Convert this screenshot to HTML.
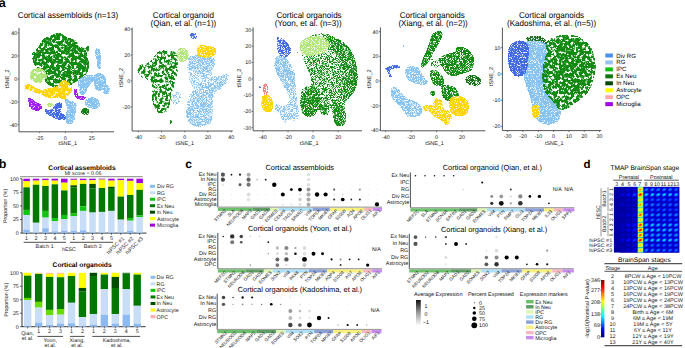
<!DOCTYPE html>
<html><head><meta charset="utf-8"><style>
html,body{margin:0;padding:0;background:#fff;width:685px;height:348px;overflow:hidden}
svg{display:block}
text{font-family:"Liberation Sans", sans-serif;text-rendering:geometricPrecision}
</style></head><body>
<svg width="685" height="348" viewBox="0 0 685 348" font-family='"Liberation Sans", sans-serif'>
<rect width="685" height="348" fill="#fff"/>
<defs><filter id="f0" x="-40%" y="-40%" width="180%" height="180%" color-interpolation-filters="sRGB"><feGaussianBlur in="SourceAlpha" stdDeviation="0.7" result="b"/><feTurbulence type="fractalNoise" baseFrequency="1.37" numOctaves="1" seed="3" result="t"/><feColorMatrix in="t" type="matrix" values="0 0 0 0 0 0 0 0 0 0 0 0 0 0 0 0 0 0 1 0" result="n"/><feComposite in="b" in2="n" operator="arithmetic" k1="0" k2="8" k3="8" k4="-10.424" result="m"/><feFlood flood-color="#87C3F2"/><feComposite in2="m" operator="in"/></filter><filter id="f1" x="-40%" y="-40%" width="180%" height="180%" color-interpolation-filters="sRGB"><feGaussianBlur in="SourceAlpha" stdDeviation="0.7" result="b"/><feTurbulence type="fractalNoise" baseFrequency="0.35" numOctaves="3" seed="3" result="t"/><feColorMatrix in="t" type="matrix" values="0 0 0 0 0 0 0 0 0 0 0 0 0 0 0 0 0 0 1 0" result="n"/><feComposite in="b" in2="n" operator="arithmetic" k1="0" k2="8" k3="8" k4="-10.715" result="m"/><feFlood flood-color="#118A11"/><feComposite in2="m" operator="in"/></filter><filter id="f2" x="-40%" y="-40%" width="180%" height="180%" color-interpolation-filters="sRGB"><feGaussianBlur in="SourceAlpha" stdDeviation="0.7" result="b"/><feTurbulence type="fractalNoise" baseFrequency="0.35" numOctaves="3" seed="3" result="t"/><feColorMatrix in="t" type="matrix" values="0 0 0 0 0 0 0 0 0 0 0 0 0 0 0 0 0 0 1 0" result="n"/><feComposite in="b" in2="n" operator="arithmetic" k1="0" k2="8" k3="8" k4="-10.616" result="m"/><feFlood flood-color="#B2E67A"/><feComposite in2="m" operator="in"/></filter><filter id="f3" x="-40%" y="-40%" width="180%" height="180%" color-interpolation-filters="sRGB"><feGaussianBlur in="SourceAlpha" stdDeviation="0.7" result="b"/><feTurbulence type="fractalNoise" baseFrequency="0.35" numOctaves="3" seed="3" result="t"/><feColorMatrix in="t" type="matrix" values="0 0 0 0 0 0 0 0 0 0 0 0 0 0 0 0 0 0 1 0" result="n"/><feComposite in="b" in2="n" operator="arithmetic" k1="0" k2="8" k3="8" k4="-10.496" result="m"/><feFlood flood-color="#FFD400"/><feComposite in2="m" operator="in"/></filter><filter id="f4" x="-40%" y="-40%" width="180%" height="180%" color-interpolation-filters="sRGB"><feGaussianBlur in="SourceAlpha" stdDeviation="0.7" result="b"/><feTurbulence type="fractalNoise" baseFrequency="1.37" numOctaves="1" seed="3" result="t"/><feColorMatrix in="t" type="matrix" values="0 0 0 0 0 0 0 0 0 0 0 0 0 0 0 0 0 0 1 0" result="n"/><feComposite in="b" in2="n" operator="arithmetic" k1="0" k2="8" k3="8" k4="-10.424" result="m"/><feFlood flood-color="#A020F0"/><feComposite in2="m" operator="in"/></filter><filter id="f5" x="-40%" y="-40%" width="180%" height="180%" color-interpolation-filters="sRGB"><feGaussianBlur in="SourceAlpha" stdDeviation="0.7" result="b"/><feTurbulence type="fractalNoise" baseFrequency="1.37" numOctaves="1" seed="3" result="t"/><feColorMatrix in="t" type="matrix" values="0 0 0 0 0 0 0 0 0 0 0 0 0 0 0 0 0 0 1 0" result="n"/><feComposite in="b" in2="n" operator="arithmetic" k1="0" k2="8" k3="8" k4="-10.911" result="m"/><feFlood flood-color="#B2E67A"/><feComposite in2="m" operator="in"/></filter><filter id="f6" x="-40%" y="-40%" width="180%" height="180%" color-interpolation-filters="sRGB"><feGaussianBlur in="SourceAlpha" stdDeviation="0.7" result="b"/><feTurbulence type="fractalNoise" baseFrequency="1.37" numOctaves="1" seed="3" result="t"/><feColorMatrix in="t" type="matrix" values="0 0 0 0 0 0 0 0 0 0 0 0 0 0 0 0 0 0 1 0" result="n"/><feComposite in="b" in2="n" operator="arithmetic" k1="0" k2="8" k3="8" k4="-10.559" result="m"/><feFlood flood-color="#4169E1"/><feComposite in2="m" operator="in"/></filter><filter id="f7" x="-40%" y="-40%" width="180%" height="180%" color-interpolation-filters="sRGB"><feGaussianBlur in="SourceAlpha" stdDeviation="0.7" result="b"/><feTurbulence type="fractalNoise" baseFrequency="1.37" numOctaves="1" seed="3" result="t"/><feColorMatrix in="t" type="matrix" values="0 0 0 0 0 0 0 0 0 0 0 0 0 0 0 0 0 0 1 0" result="n"/><feComposite in="b" in2="n" operator="arithmetic" k1="0" k2="8" k3="8" k4="-10.559" result="m"/><feFlood flood-color="#128012"/><feComposite in2="m" operator="in"/></filter><filter id="f8" x="-40%" y="-40%" width="180%" height="180%" color-interpolation-filters="sRGB"><feGaussianBlur in="SourceAlpha" stdDeviation="0.7" result="b"/><feTurbulence type="fractalNoise" baseFrequency="1.37" numOctaves="1" seed="3" result="t"/><feColorMatrix in="t" type="matrix" values="0 0 0 0 0 0 0 0 0 0 0 0 0 0 0 0 0 0 1 0" result="n"/><feComposite in="b" in2="n" operator="arithmetic" k1="0" k2="8" k3="8" k4="-11.700" result="m"/><feFlood flood-color="#87C3F2"/><feComposite in2="m" operator="in"/></filter><filter id="f9" x="-40%" y="-40%" width="180%" height="180%" color-interpolation-filters="sRGB"><feGaussianBlur in="SourceAlpha" stdDeviation="0.7" result="b"/><feTurbulence type="fractalNoise" baseFrequency="1.37" numOctaves="1" seed="9" result="t"/><feColorMatrix in="t" type="matrix" values="0 0 0 0 0 0 0 0 0 0 0 0 0 0 0 0 0 0 1 0" result="n"/><feComposite in="b" in2="n" operator="arithmetic" k1="0" k2="8" k3="8" k4="-11.841" result="m"/><feFlood flood-color="#87C3F2"/><feComposite in2="m" operator="in"/></filter><filter id="f10" x="-40%" y="-40%" width="180%" height="180%" color-interpolation-filters="sRGB"><feGaussianBlur in="SourceAlpha" stdDeviation="0.7" result="b"/><feTurbulence type="fractalNoise" baseFrequency="1.37" numOctaves="1" seed="3" result="t"/><feColorMatrix in="t" type="matrix" values="0 0 0 0 0 0 0 0 0 0 0 0 0 0 0 0 0 0 1 0" result="n"/><feComposite in="b" in2="n" operator="arithmetic" k1="0" k2="8" k3="8" k4="-11.943" result="m"/><feFlood flood-color="#87C3F2"/><feComposite in2="m" operator="in"/></filter><filter id="f11" x="-40%" y="-40%" width="180%" height="180%" color-interpolation-filters="sRGB"><feGaussianBlur in="SourceAlpha" stdDeviation="0.7" result="b"/><feTurbulence type="fractalNoise" baseFrequency="0.35" numOctaves="3" seed="3" result="t"/><feColorMatrix in="t" type="matrix" values="0 0 0 0 0 0 0 0 0 0 0 0 0 0 0 0 0 0 1 0" result="n"/><feComposite in="b" in2="n" operator="arithmetic" k1="0" k2="8" k3="8" k4="-11.366" result="m"/><feFlood flood-color="#128812"/><feComposite in2="m" operator="in"/></filter><filter id="f12" x="-40%" y="-40%" width="180%" height="180%" color-interpolation-filters="sRGB"><feGaussianBlur in="SourceAlpha" stdDeviation="0.7" result="b"/><feTurbulence type="fractalNoise" baseFrequency="1.37" numOctaves="1" seed="3" result="t"/><feColorMatrix in="t" type="matrix" values="0 0 0 0 0 0 0 0 0 0 0 0 0 0 0 0 0 0 1 0" result="n"/><feComposite in="b" in2="n" operator="arithmetic" k1="0" k2="8" k3="8" k4="-10.715" result="m"/><feFlood flood-color="#128812"/><feComposite in2="m" operator="in"/></filter><filter id="f13" x="-40%" y="-40%" width="180%" height="180%" color-interpolation-filters="sRGB"><feGaussianBlur in="SourceAlpha" stdDeviation="0.7" result="b"/><feTurbulence type="fractalNoise" baseFrequency="1.37" numOctaves="1" seed="3" result="t"/><feColorMatrix in="t" type="matrix" values="0 0 0 0 0 0 0 0 0 0 0 0 0 0 0 0 0 0 1 0" result="n"/><feComposite in="b" in2="n" operator="arithmetic" k1="0" k2="8" k3="8" k4="-11.008" result="m"/><feFlood flood-color="#4169E1"/><feComposite in2="m" operator="in"/></filter><filter id="f14" x="-40%" y="-40%" width="180%" height="180%" color-interpolation-filters="sRGB"><feGaussianBlur in="SourceAlpha" stdDeviation="0.7" result="b"/><feTurbulence type="fractalNoise" baseFrequency="1.37" numOctaves="1" seed="3" result="t"/><feColorMatrix in="t" type="matrix" values="0 0 0 0 0 0 0 0 0 0 0 0 0 0 0 0 0 0 1 0" result="n"/><feComposite in="b" in2="n" operator="arithmetic" k1="0" k2="8" k3="8" k4="-10.616" result="m"/><feFlood flood-color="#FFD400"/><feComposite in2="m" operator="in"/></filter><filter id="f15" x="-40%" y="-40%" width="180%" height="180%" color-interpolation-filters="sRGB"><feGaussianBlur in="SourceAlpha" stdDeviation="0.7" result="b"/><feTurbulence type="fractalNoise" baseFrequency="1.37" numOctaves="1" seed="3" result="t"/><feColorMatrix in="t" type="matrix" values="0 0 0 0 0 0 0 0 0 0 0 0 0 0 0 0 0 0 1 0" result="n"/><feComposite in="b" in2="n" operator="arithmetic" k1="0" k2="8" k3="8" k4="-11.496" result="m"/><feFlood flood-color="#87C3F2"/><feComposite in2="m" operator="in"/></filter><filter id="f16" x="-40%" y="-40%" width="180%" height="180%" color-interpolation-filters="sRGB"><feGaussianBlur in="SourceAlpha" stdDeviation="0.7" result="b"/><feTurbulence type="fractalNoise" baseFrequency="1.37" numOctaves="1" seed="9" result="t"/><feColorMatrix in="t" type="matrix" values="0 0 0 0 0 0 0 0 0 0 0 0 0 0 0 0 0 0 1 0" result="n"/><feComposite in="b" in2="n" operator="arithmetic" k1="0" k2="8" k3="8" k4="-11.639" result="m"/><feFlood flood-color="#87C3F2"/><feComposite in2="m" operator="in"/></filter><filter id="f17" x="-40%" y="-40%" width="180%" height="180%" color-interpolation-filters="sRGB"><feGaussianBlur in="SourceAlpha" stdDeviation="0.7" result="b"/><feTurbulence type="fractalNoise" baseFrequency="1.37" numOctaves="1" seed="3" result="t"/><feColorMatrix in="t" type="matrix" values="0 0 0 0 0 0 0 0 0 0 0 0 0 0 0 0 0 0 1 0" result="n"/><feComposite in="b" in2="n" operator="arithmetic" k1="0" k2="8" k3="8" k4="-11.067" result="m"/><feFlood flood-color="#4169E1"/><feComposite in2="m" operator="in"/></filter><filter id="f18" x="-40%" y="-40%" width="180%" height="180%" color-interpolation-filters="sRGB"><feGaussianBlur in="SourceAlpha" stdDeviation="0.7" result="b"/><feTurbulence type="fractalNoise" baseFrequency="1.37" numOctaves="1" seed="3" result="t"/><feColorMatrix in="t" type="matrix" values="0 0 0 0 0 0 0 0 0 0 0 0 0 0 0 0 0 0 1 0" result="n"/><feComposite in="b" in2="n" operator="arithmetic" k1="0" k2="8" k3="8" k4="-10.496" result="m"/><feFlood flood-color="#FFD400"/><feComposite in2="m" operator="in"/></filter><filter id="f19" x="-40%" y="-40%" width="180%" height="180%" color-interpolation-filters="sRGB"><feGaussianBlur in="SourceAlpha" stdDeviation="0.7" result="b"/><feTurbulence type="fractalNoise" baseFrequency="1.37" numOctaves="1" seed="3" result="t"/><feColorMatrix in="t" type="matrix" values="0 0 0 0 0 0 0 0 0 0 0 0 0 0 0 0 0 0 1 0" result="n"/><feComposite in="b" in2="n" operator="arithmetic" k1="0" k2="8" k3="8" k4="-11.067" result="m"/><feFlood flood-color="#F08080"/><feComposite in2="m" operator="in"/></filter><filter id="f20" x="-40%" y="-40%" width="180%" height="180%" color-interpolation-filters="sRGB"><feGaussianBlur in="SourceAlpha" stdDeviation="0.7" result="b"/><feTurbulence type="fractalNoise" baseFrequency="1.37" numOctaves="1" seed="3" result="t"/><feColorMatrix in="t" type="matrix" values="0 0 0 0 0 0 0 0 0 0 0 0 0 0 0 0 0 0 1 0" result="n"/><feComposite in="b" in2="n" operator="arithmetic" k1="0" k2="8" k3="8" k4="-11.537" result="m"/><feFlood flood-color="#118A11"/><feComposite in2="m" operator="in"/></filter><filter id="f21" x="-40%" y="-40%" width="180%" height="180%" color-interpolation-filters="sRGB"><feGaussianBlur in="SourceAlpha" stdDeviation="0.7" result="b"/><feTurbulence type="fractalNoise" baseFrequency="1.37" numOctaves="1" seed="9" result="t"/><feColorMatrix in="t" type="matrix" values="0 0 0 0 0 0 0 0 0 0 0 0 0 0 0 0 0 0 1 0" result="n"/><feComposite in="b" in2="n" operator="arithmetic" k1="0" k2="8" k3="8" k4="-11.639" result="m"/><feFlood flood-color="#118A11"/><feComposite in2="m" operator="in"/></filter><filter id="f22" x="-40%" y="-40%" width="180%" height="180%" color-interpolation-filters="sRGB"><feGaussianBlur in="SourceAlpha" stdDeviation="0.7" result="b"/><feTurbulence type="fractalNoise" baseFrequency="1.37" numOctaves="1" seed="9" result="t"/><feColorMatrix in="t" type="matrix" values="0 0 0 0 0 0 0 0 0 0 0 0 0 0 0 0 0 0 1 0" result="n"/><feComposite in="b" in2="n" operator="arithmetic" k1="0" k2="8" k3="8" k4="-11.432" result="m"/><feFlood flood-color="#118A11"/><feComposite in2="m" operator="in"/></filter><filter id="f23" x="-40%" y="-40%" width="180%" height="180%" color-interpolation-filters="sRGB"><feGaussianBlur in="SourceAlpha" stdDeviation="0.7" result="b"/><feTurbulence type="fractalNoise" baseFrequency="1.37" numOctaves="1" seed="9" result="t"/><feColorMatrix in="t" type="matrix" values="0 0 0 0 0 0 0 0 0 0 0 0 0 0 0 0 0 0 1 0" result="n"/><feComposite in="b" in2="n" operator="arithmetic" k1="0" k2="8" k3="8" k4="-11.537" result="m"/><feFlood flood-color="#118A11"/><feComposite in2="m" operator="in"/></filter><filter id="f24" x="-40%" y="-40%" width="180%" height="180%" color-interpolation-filters="sRGB"><feGaussianBlur in="SourceAlpha" stdDeviation="0.7" result="b"/><feTurbulence type="fractalNoise" baseFrequency="1.37" numOctaves="1" seed="3" result="t"/><feColorMatrix in="t" type="matrix" values="0 0 0 0 0 0 0 0 0 0 0 0 0 0 0 0 0 0 1 0" result="n"/><feComposite in="b" in2="n" operator="arithmetic" k1="0" k2="8" k3="8" k4="-10.876" result="m"/><feFlood flood-color="#87C3F2"/><feComposite in2="m" operator="in"/></filter><filter id="f25" x="-40%" y="-40%" width="180%" height="180%" color-interpolation-filters="sRGB"><feGaussianBlur in="SourceAlpha" stdDeviation="0.7" result="b"/><feTurbulence type="fractalNoise" baseFrequency="1.37" numOctaves="1" seed="3" result="t"/><feColorMatrix in="t" type="matrix" values="0 0 0 0 0 0 0 0 0 0 0 0 0 0 0 0 0 0 1 0" result="n"/><feComposite in="b" in2="n" operator="arithmetic" k1="0" k2="8" k3="8" k4="-11.008" result="m"/><feFlood flood-color="#87C3F2"/><feComposite in2="m" operator="in"/></filter><filter id="f26" x="-40%" y="-40%" width="180%" height="180%" color-interpolation-filters="sRGB"><feGaussianBlur in="SourceAlpha" stdDeviation="0.7" result="b"/><feTurbulence type="fractalNoise" baseFrequency="1.37" numOctaves="1" seed="3" result="t"/><feColorMatrix in="t" type="matrix" values="0 0 0 0 0 0 0 0 0 0 0 0 0 0 0 0 0 0 1 0" result="n"/><feComposite in="b" in2="n" operator="arithmetic" k1="0" k2="8" k3="8" k4="-10.715" result="m"/><feFlood flood-color="#87C3F2"/><feComposite in2="m" operator="in"/></filter><filter id="f27" x="-40%" y="-40%" width="180%" height="180%" color-interpolation-filters="sRGB"><feGaussianBlur in="SourceAlpha" stdDeviation="0.7" result="b"/><feTurbulence type="fractalNoise" baseFrequency="1.37" numOctaves="1" seed="3" result="t"/><feColorMatrix in="t" type="matrix" values="0 0 0 0 0 0 0 0 0 0 0 0 0 0 0 0 0 0 1 0" result="n"/><feComposite in="b" in2="n" operator="arithmetic" k1="0" k2="8" k3="8" k4="-10.715" result="m"/><feFlood flood-color="#4169E1"/><feComposite in2="m" operator="in"/></filter><filter id="f28" x="-40%" y="-40%" width="180%" height="180%" color-interpolation-filters="sRGB"><feGaussianBlur in="SourceAlpha" stdDeviation="0.7" result="b"/><feTurbulence type="fractalNoise" baseFrequency="1.37" numOctaves="1" seed="3" result="t"/><feColorMatrix in="t" type="matrix" values="0 0 0 0 0 0 0 0 0 0 0 0 0 0 0 0 0 0 1 0" result="n"/><feComposite in="b" in2="n" operator="arithmetic" k1="0" k2="8" k3="8" k4="-10.876" result="m"/><feFlood flood-color="#118A11"/><feComposite in2="m" operator="in"/></filter><filter id="f29" x="-40%" y="-40%" width="180%" height="180%" color-interpolation-filters="sRGB"><feGaussianBlur in="SourceAlpha" stdDeviation="0.7" result="b"/><feTurbulence type="fractalNoise" baseFrequency="1.37" numOctaves="1" seed="3" result="t"/><feColorMatrix in="t" type="matrix" values="0 0 0 0 0 0 0 0 0 0 0 0 0 0 0 0 0 0 1 0" result="n"/><feComposite in="b" in2="n" operator="arithmetic" k1="0" k2="8" k3="8" k4="-11.943" result="m"/><feFlood flood-color="#118A11"/><feComposite in2="m" operator="in"/></filter><filter id="f30" x="-40%" y="-40%" width="180%" height="180%" color-interpolation-filters="sRGB"><feGaussianBlur in="SourceAlpha" stdDeviation="0.7" result="b"/><feTurbulence type="fractalNoise" baseFrequency="1.37" numOctaves="1" seed="3" result="t"/><feColorMatrix in="t" type="matrix" values="0 0 0 0 0 0 0 0 0 0 0 0 0 0 0 0 0 0 1 0" result="n"/><feComposite in="b" in2="n" operator="arithmetic" k1="0" k2="8" k3="8" k4="-10.911" result="m"/><feFlood flood-color="#0E700E"/><feComposite in2="m" operator="in"/></filter><filter id="f31" x="-40%" y="-40%" width="180%" height="180%" color-interpolation-filters="sRGB"><feGaussianBlur in="SourceAlpha" stdDeviation="0.7" result="b"/><feTurbulence type="fractalNoise" baseFrequency="1.37" numOctaves="1" seed="3" result="t"/><feColorMatrix in="t" type="matrix" values="0 0 0 0 0 0 0 0 0 0 0 0 0 0 0 0 0 0 1 0" result="n"/><feComposite in="b" in2="n" operator="arithmetic" k1="0" k2="8" k3="8" k4="-10.944" result="m"/><feFlood flood-color="#118A11"/><feComposite in2="m" operator="in"/></filter><filter id="f32" x="-40%" y="-40%" width="180%" height="180%" color-interpolation-filters="sRGB"><feGaussianBlur in="SourceAlpha" stdDeviation="0.7" result="b"/><feTurbulence type="fractalNoise" baseFrequency="1.37" numOctaves="1" seed="3" result="t"/><feColorMatrix in="t" type="matrix" values="0 0 0 0 0 0 0 0 0 0 0 0 0 0 0 0 0 0 1 0" result="n"/><feComposite in="b" in2="n" operator="arithmetic" k1="0" k2="8" k3="8" k4="-11.067" result="m"/><feFlood flood-color="#118A11"/><feComposite in2="m" operator="in"/></filter><filter id="f33" x="-40%" y="-40%" width="180%" height="180%" color-interpolation-filters="sRGB"><feGaussianBlur in="SourceAlpha" stdDeviation="0.7" result="b"/><feTurbulence type="fractalNoise" baseFrequency="1.37" numOctaves="1" seed="3" result="t"/><feColorMatrix in="t" type="matrix" values="0 0 0 0 0 0 0 0 0 0 0 0 0 0 0 0 0 0 1 0" result="n"/><feComposite in="b" in2="n" operator="arithmetic" k1="0" k2="8" k3="8" k4="-10.944" result="m"/><feFlood flood-color="#FFD400"/><feComposite in2="m" operator="in"/></filter><filter id="f34" x="-40%" y="-40%" width="180%" height="180%" color-interpolation-filters="sRGB"><feGaussianBlur in="SourceAlpha" stdDeviation="0.7" result="b"/><feTurbulence type="fractalNoise" baseFrequency="1.37" numOctaves="1" seed="3" result="t"/><feColorMatrix in="t" type="matrix" values="0 0 0 0 0 0 0 0 0 0 0 0 0 0 0 0 0 0 1 0" result="n"/><feComposite in="b" in2="n" operator="arithmetic" k1="0" k2="8" k3="8" k4="-10.559" result="m"/><feFlood flood-color="#87C3F2"/><feComposite in2="m" operator="in"/></filter><filter id="f35" x="-40%" y="-40%" width="180%" height="180%" color-interpolation-filters="sRGB"><feGaussianBlur in="SourceAlpha" stdDeviation="0.7" result="b"/><feTurbulence type="fractalNoise" baseFrequency="1.37" numOctaves="1" seed="3" result="t"/><feColorMatrix in="t" type="matrix" values="0 0 0 0 0 0 0 0 0 0 0 0 0 0 0 0 0 0 1 0" result="n"/><feComposite in="b" in2="n" operator="arithmetic" k1="0" k2="8" k3="8" k4="-10.496" result="m"/><feFlood flood-color="#4169E1"/><feComposite in2="m" operator="in"/></filter><filter id="f36" x="-40%" y="-40%" width="180%" height="180%" color-interpolation-filters="sRGB"><feGaussianBlur in="SourceAlpha" stdDeviation="0.7" result="b"/><feTurbulence type="fractalNoise" baseFrequency="0.35" numOctaves="3" seed="3" result="t"/><feColorMatrix in="t" type="matrix" values="0 0 0 0 0 0 0 0 0 0 0 0 0 0 0 0 0 0 1 0" result="n"/><feComposite in="b" in2="n" operator="arithmetic" k1="0" k2="8" k3="8" k4="-11.067" result="m"/><feFlood flood-color="#118A11"/><feComposite in2="m" operator="in"/></filter><filter id="f37" x="-40%" y="-40%" width="180%" height="180%" color-interpolation-filters="sRGB"><feGaussianBlur in="SourceAlpha" stdDeviation="0.7" result="b"/><feTurbulence type="fractalNoise" baseFrequency="0.35" numOctaves="3" seed="9" result="t"/><feColorMatrix in="t" type="matrix" values="0 0 0 0 0 0 0 0 0 0 0 0 0 0 0 0 0 0 1 0" result="n"/><feComposite in="b" in2="n" operator="arithmetic" k1="0" k2="8" k3="8" k4="-11.740" result="m"/><feFlood flood-color="#118A11"/><feComposite in2="m" operator="in"/></filter><filter id="f38" x="-40%" y="-40%" width="180%" height="180%" color-interpolation-filters="sRGB"><feGaussianBlur in="SourceAlpha" stdDeviation="0.7" result="b"/><feTurbulence type="fractalNoise" baseFrequency="1.37" numOctaves="1" seed="3" result="t"/><feColorMatrix in="t" type="matrix" values="0 0 0 0 0 0 0 0 0 0 0 0 0 0 0 0 0 0 1 0" result="n"/><feComposite in="b" in2="n" operator="arithmetic" k1="0" k2="8" k3="8" k4="-10.911" result="m"/><feFlood flood-color="#1A6E1A"/><feComposite in2="m" operator="in"/></filter></defs>
<path d="M78.5 79.7C79.8 77.3 84.0 75.8 86.4 75.0C88.8 74.2 91.4 74.2 92.7 75.0C94.0 75.8 94.8 77.9 94.3 79.7C93.8 81.5 90.9 84.0 89.6 86.1C88.3 88.2 87.5 90.8 86.4 92.4C85.3 94.0 84.2 95.3 83.2 95.6C82.2 95.9 80.9 95.1 80.1 94.0C79.3 92.9 78.8 91.6 78.5 89.2C78.2 86.8 77.2 82.1 78.5 79.7Z" filter="url(#f0)"/>
<path d="M93.5 75.0C94.6 73.2 97.9 72.7 100.0 73.0C102.1 73.3 105.0 74.8 106.0 77.0C107.0 79.2 106.9 83.7 106.2 86.0C105.5 88.3 103.7 90.1 102.0 90.8C100.3 91.5 97.4 91.1 96.0 90.0C94.6 88.9 93.9 86.5 93.5 84.0C93.1 81.5 92.4 76.8 93.5 75.0Z" filter="url(#f0)"/>
<path d="M102.2 86.0C103.0 85.1 105.7 84.2 107.0 84.5C108.3 84.8 109.8 86.4 110.1 88.0C110.4 89.6 110.0 93.0 109.0 94.0C108.0 95.0 105.1 94.7 104.0 94.0C102.9 93.3 102.5 91.3 102.2 90.0C101.9 88.7 101.4 86.9 102.2 86.0Z" filter="url(#f0)"/>
<path d="M84.8 100.3C86.0 98.8 90.3 97.1 92.7 97.1C95.1 97.1 97.8 98.7 99.0 100.3C100.2 101.9 100.3 105.1 99.8 106.6C99.3 108.0 97.6 108.7 95.9 109.0C94.2 109.3 91.3 108.7 89.6 108.2C87.9 107.7 86.4 107.1 85.6 105.8C84.8 104.5 83.6 101.8 84.8 100.3Z" filter="url(#f0)"/>
<path d="M95.6 48.5C96.4 47.4 98.6 48.1 99.5 49.0C100.4 49.9 100.7 52.2 101.0 54.0C101.3 55.8 101.4 57.6 101.4 60.0C101.4 62.4 101.9 67.1 101.2 68.5C100.5 69.9 98.3 69.9 97.5 68.5C96.7 67.1 96.9 62.2 96.4 60.0C96.0 57.8 94.9 57.4 94.8 55.5C94.7 53.6 94.8 49.6 95.6 48.5Z" filter="url(#f0)"/>
<path d="M65.8 98.7C66.7 98.3 69.1 99.8 70.6 100.3C72.0 100.8 73.5 101.1 74.5 101.9C75.5 102.7 76.6 103.4 76.9 105.0C77.2 106.6 76.4 109.3 76.1 111.4C75.8 113.5 75.7 115.9 75.3 117.7C74.9 119.5 74.8 121.2 73.7 122.4C72.7 123.6 70.3 124.8 69.0 124.8C67.7 124.8 66.3 123.9 65.8 122.4C65.3 121.0 65.7 118.5 65.8 116.1C65.9 113.7 66.7 110.4 66.6 108.2C66.5 106.0 65.1 104.3 65.0 102.7C64.9 101.1 64.9 99.1 65.8 98.7Z" filter="url(#f0)"/>
<path d="M31.9 53.4C32.6 51.9 34.6 51.1 36.4 48.9C38.1 46.6 40.1 42.1 42.4 39.9C44.6 37.7 47.2 36.7 49.9 35.5C52.6 34.3 56.1 32.4 58.8 32.5C61.5 32.6 63.7 35.1 66.3 36.3C68.9 37.5 72.2 38.6 74.2 39.5C76.2 40.4 77.4 40.9 78.2 41.9C79.0 42.9 78.0 44.9 79.0 45.8C80.0 46.7 82.9 47.4 84.5 47.4C86.1 47.4 87.6 45.4 88.4 45.8C89.2 46.2 89.5 48.2 89.2 49.8C89.0 51.4 86.9 53.3 86.9 55.3C86.9 57.3 88.8 59.5 89.2 61.6C89.6 63.7 89.6 65.9 89.2 67.9C88.8 69.9 88.1 71.9 86.9 73.5C85.7 75.1 83.9 76.0 82.1 77.4C80.2 78.9 77.8 80.8 75.8 82.2C73.8 83.6 72.3 85.0 70.0 86.0C67.7 87.0 64.4 87.7 62.0 88.0C59.6 88.3 58.1 88.5 55.8 88.0C53.5 87.5 50.4 86.3 48.4 85.0C46.4 83.7 45.6 82.7 43.9 80.2C42.1 77.7 39.6 72.5 37.9 69.8C36.1 67.1 34.4 65.8 33.4 63.8C32.4 61.8 32.1 59.6 31.9 57.9C31.6 56.2 31.1 54.9 31.9 53.4Z" filter="url(#f1)"/>
<path d="M47.0 75.4C47.0 76.9 46.3 78.8 45.3 80.0C44.3 81.3 42.6 82.4 40.9 82.9C39.3 83.4 37.1 83.4 35.5 82.9C33.8 82.4 32.1 81.3 31.1 80.0C30.1 78.8 29.4 76.9 29.4 75.4C29.4 73.9 30.1 72.0 31.1 70.8C32.1 69.5 33.8 68.4 35.5 67.9C37.1 67.4 39.3 67.4 40.9 67.9C42.6 68.4 44.3 69.5 45.3 70.8C46.3 72.0 47.0 73.9 47.0 75.4Z" filter="url(#f2)"/>
<path d="M24.0 85.3C24.9 84.8 27.5 83.3 29.5 83.7C31.5 84.1 34.0 86.7 35.8 87.6C37.6 88.5 38.8 89.1 40.5 89.2C42.2 89.3 44.5 88.7 46.1 88.4C47.7 88.1 48.3 88.0 50.0 87.6C51.7 87.2 54.7 87.0 56.4 86.1C58.1 85.2 58.8 83.1 60.0 82.0C61.2 80.9 62.0 79.4 63.5 79.5C65.0 79.6 67.5 80.9 69.0 82.5C70.5 84.1 72.3 87.4 72.6 89.2C72.9 91.0 71.5 91.9 70.6 93.2C69.7 94.5 68.5 95.9 67.4 97.1C66.4 98.3 65.3 100.0 64.3 100.3C63.2 100.6 62.2 99.1 61.1 98.7C60.0 98.3 59.1 97.9 57.9 97.9C56.7 97.9 55.5 98.6 54.0 98.7C52.5 98.8 50.9 99.1 49.2 98.7C47.5 98.3 45.4 97.1 43.7 96.3C42.0 95.5 40.6 94.7 39.0 94.0C37.4 93.3 35.8 92.9 34.2 92.4C32.6 91.9 30.9 91.3 29.5 90.8C28.1 90.3 26.4 89.8 25.5 89.2C24.6 88.6 24.2 87.6 24.0 86.9C23.8 86.2 23.1 85.8 24.0 85.3Z" filter="url(#f3)"/>
<path d="M28.3 98.2C29.0 97.4 31.0 97.2 32.2 97.8C33.4 98.4 33.9 100.8 35.4 101.8C36.9 102.8 39.9 102.9 41.0 104.0C42.1 105.1 42.7 107.4 42.2 108.6C41.7 109.8 39.6 111.0 38.0 111.2C36.4 111.4 34.1 110.7 32.6 110.0C31.1 109.3 29.9 108.4 29.2 107.2C28.5 106.0 28.3 104.2 28.2 102.7C28.1 101.2 27.6 99.0 28.3 98.2Z" filter="url(#f4)"/>
<path d="M73.5 89.3C73.8 88.1 76.0 88.4 76.7 89.0C77.4 89.6 77.5 91.9 77.9 93.0C78.3 94.1 78.0 95.2 79.3 95.8C80.6 96.4 85.0 95.8 85.8 96.5C86.6 97.2 85.4 99.2 84.2 99.7C83.0 100.2 80.4 100.0 78.8 99.4C77.2 98.8 75.7 97.9 74.8 96.2C73.9 94.5 73.2 90.5 73.5 89.3Z" filter="url(#f4)"/>
<path d="M46.9 103.0C47.4 102.2 49.8 102.5 51.0 102.7C52.2 103.0 53.7 103.7 54.0 104.5C54.3 105.3 54.0 107.0 53.0 107.4C52.0 107.9 49.0 107.9 48.0 107.2C47.0 106.5 46.4 103.8 46.9 103.0Z" filter="url(#f5)"/>
<path d="M45.3 109.0C46.4 108.6 50.0 109.8 51.6 109.0C53.2 108.2 53.5 105.4 54.8 104.2C56.1 103.0 58.3 102.0 59.5 101.9C60.7 101.8 61.4 102.7 61.9 103.5C62.4 104.3 62.8 105.3 62.7 106.6C62.6 107.9 60.6 109.8 61.1 111.4C61.6 113.0 65.1 114.6 65.8 116.1C66.5 117.5 66.1 119.4 65.1 120.1C64.0 120.8 61.2 120.4 59.5 120.1C57.8 119.8 56.4 119.2 54.8 118.5C53.2 117.8 51.5 116.8 50.0 116.1C48.5 115.4 46.9 115.3 46.1 114.5C45.3 113.7 45.1 112.3 45.0 111.4C44.9 110.5 44.2 109.4 45.3 109.0Z" filter="url(#f6)"/>
<path d="M89.7 111.7C89.7 112.4 89.4 113.3 88.9 113.9C88.4 114.5 87.5 115.1 86.7 115.3C85.8 115.5 84.8 115.5 83.9 115.3C83.1 115.1 82.2 114.5 81.7 113.9C81.2 113.3 80.9 112.4 80.9 111.7C80.9 111.0 81.2 110.1 81.7 109.5C82.2 108.9 83.1 108.3 83.9 108.1C84.8 107.9 85.8 107.9 86.7 108.1C87.5 108.3 88.4 108.9 88.9 109.5C89.4 110.1 89.7 111.0 89.7 111.7Z" filter="url(#f7)"/>
<path d="M188.5 57.0C190.0 55.2 193.2 55.2 196.0 55.0C198.8 54.8 202.2 55.2 205.0 55.5C207.8 55.8 211.2 56.1 213.0 57.0C214.8 57.9 215.8 59.3 216.0 61.0C216.2 62.7 215.2 65.0 214.5 67.0C213.8 69.0 211.8 71.5 212.0 73.0C212.2 74.5 214.3 75.9 216.0 76.0C217.7 76.1 220.2 74.1 222.0 73.5C223.8 72.9 225.8 71.9 227.0 72.5C228.2 73.1 229.5 75.2 229.5 77.0C229.5 78.8 228.4 81.0 227.0 83.0C225.6 85.0 223.0 87.2 221.0 89.0C219.0 90.8 216.3 91.7 215.0 94.0C213.7 96.3 213.3 99.5 213.0 103.0C212.7 106.5 213.5 111.5 213.0 115.0C212.5 118.5 211.8 122.0 210.0 124.0C208.2 126.0 205.0 126.7 202.0 127.0C199.0 127.3 194.7 127.5 192.0 126.0C189.3 124.5 186.9 121.3 186.0 118.0C185.1 114.7 186.0 109.7 186.5 106.0C187.0 102.3 187.9 98.8 189.0 96.0C190.1 93.2 192.8 91.2 193.0 89.0C193.2 86.8 190.8 85.3 190.0 83.0C189.2 80.7 188.5 77.8 188.0 75.0C187.5 72.2 186.9 69.0 187.0 66.0C187.1 63.0 187.0 58.8 188.5 57.0Z" filter="url(#f8)"/>
<path d="M189.0 57.5C190.2 55.9 193.3 55.8 196.0 55.5C198.7 55.2 202.2 55.7 205.0 56.0C207.8 56.3 211.2 56.6 213.0 57.5C214.8 58.4 215.4 59.8 215.5 61.5C215.6 63.2 214.8 66.2 213.5 68.0C212.2 69.8 210.6 71.1 208.0 72.0C205.4 72.9 200.8 73.7 198.0 73.5C195.2 73.3 192.6 72.4 191.0 71.0C189.4 69.6 188.8 67.2 188.5 65.0C188.2 62.8 187.8 59.1 189.0 57.5Z" filter="url(#f9)"/>
<path d="M193.0 90.0C195.2 88.3 199.8 88.3 203.0 87.0C206.2 85.7 209.2 83.8 212.0 82.0C214.8 80.2 217.5 77.3 220.0 76.0C222.5 74.7 225.6 73.7 227.0 74.0C228.4 74.3 228.8 76.3 228.5 78.0C228.2 79.7 227.1 81.7 225.0 84.0C222.9 86.3 218.0 88.8 216.0 92.0C214.0 95.2 213.5 99.2 213.0 103.0C212.5 106.8 213.5 111.5 213.0 115.0C212.5 118.5 211.8 122.1 210.0 124.0C208.2 125.9 205.0 126.2 202.0 126.5C199.0 126.8 194.5 126.9 192.0 125.5C189.5 124.1 187.8 121.2 187.0 118.0C186.2 114.8 187.0 109.5 187.5 106.0C188.0 102.5 189.1 99.7 190.0 97.0C190.9 94.3 190.8 91.7 193.0 90.0Z" filter="url(#f9)"/>
<path d="M172.0 94.0C173.5 92.5 178.5 91.0 180.0 92.0C181.5 93.0 181.7 97.8 181.0 100.0C180.3 102.2 177.7 104.8 176.0 105.0C174.3 105.2 171.7 102.8 171.0 101.0C170.3 99.2 170.5 95.5 172.0 94.0Z" filter="url(#f10)"/>
<path d="M138.0 66.9C138.6 65.7 139.0 64.9 141.0 63.9C143.0 62.9 147.3 62.9 150.0 60.9C152.7 58.9 155.1 53.7 157.4 51.9C159.7 50.1 161.8 50.2 164.0 50.0C166.2 49.8 168.8 50.2 170.9 50.5C173.0 50.8 175.2 50.8 176.5 52.0C177.8 53.2 178.2 54.5 178.5 58.0C178.8 61.5 179.1 67.8 178.3 72.8C177.5 77.8 175.0 83.3 173.8 87.8C172.6 92.3 171.9 95.7 170.9 99.7C169.9 103.7 169.9 109.5 167.9 111.7C165.9 114.0 161.4 114.2 158.9 113.2C156.4 112.2 154.2 109.4 152.9 105.7C151.7 102.0 151.9 94.8 151.4 90.8C150.9 86.8 151.7 84.0 150.0 81.8C148.3 79.5 143.1 79.0 141.0 77.3C138.9 75.5 137.9 73.0 137.4 71.3C136.9 69.6 137.4 68.1 138.0 66.9Z" filter="url(#f11)"/>
<path d="M172.4 122.0C172.4 122.7 172.2 123.5 171.9 124.0C171.7 124.4 171.2 124.8 170.8 124.8C170.4 124.8 169.9 124.4 169.7 124.0C169.4 123.5 169.2 122.7 169.2 122.0C169.2 121.3 169.4 120.5 169.7 120.0C169.9 119.6 170.4 119.2 170.8 119.2C171.2 119.2 171.7 119.6 171.9 120.0C172.2 120.5 172.4 121.3 172.4 122.0Z" filter="url(#f12)"/>
<path d="M177.0 50.0C177.8 48.2 180.0 47.6 181.7 47.5C183.4 47.4 185.8 48.2 187.0 49.5C188.2 50.8 189.2 53.5 189.0 55.5C188.8 57.5 187.3 60.2 186.0 61.5C184.7 62.8 182.5 63.6 181.0 63.0C179.5 62.4 177.7 60.2 177.0 58.0C176.3 55.8 176.2 51.8 177.0 50.0Z" filter="url(#f5)"/>
<path d="M197.3 36.0C197.3 36.9 196.8 38.1 196.1 38.7C195.5 39.3 194.2 39.8 193.3 39.8C192.4 39.8 191.1 39.3 190.5 38.7C189.8 38.1 189.3 36.9 189.3 36.0C189.3 35.1 189.8 33.9 190.5 33.3C191.1 32.7 192.4 32.2 193.3 32.2C194.2 32.2 195.5 32.7 196.1 33.3C196.8 33.9 197.3 35.1 197.3 36.0Z" filter="url(#f13)"/>
<path d="M197.2 46.5C198.7 44.8 203.3 45.0 206.3 45.2C209.3 45.4 213.6 46.5 215.3 47.8C217.0 49.1 217.0 51.4 216.6 52.9C216.2 54.4 214.8 55.9 212.7 56.8C210.5 57.7 206.3 58.3 203.7 58.1C201.1 57.9 198.3 57.4 197.2 55.5C196.1 53.6 195.7 48.2 197.2 46.5Z" filter="url(#f14)"/>
<path d="M275.7 56.6C277.0 54.8 279.9 54.5 282.0 55.0C284.1 55.5 286.2 56.9 288.3 59.8C290.4 62.7 293.4 67.7 294.7 72.4C296.0 77.1 295.7 83.5 296.2 88.2C296.7 93.0 297.3 96.7 297.8 100.9C298.3 105.1 299.7 110.1 299.4 113.5C299.1 116.9 297.8 120.4 296.2 121.4C294.6 122.5 291.7 119.5 289.9 119.8C288.1 120.1 286.5 123.0 285.2 123.0C283.9 123.0 283.1 121.4 282.0 119.8C280.9 118.2 280.2 115.3 278.9 113.5C277.6 111.7 274.6 110.4 274.1 108.8C273.6 107.2 274.4 104.5 275.7 104.0C277.0 103.5 280.1 105.6 282.0 105.6C283.9 105.6 285.8 105.6 286.8 104.0C287.9 102.4 288.8 99.0 288.3 96.1C287.8 93.2 285.4 90.0 283.6 86.6C281.8 83.2 278.9 79.0 277.3 75.6C275.7 72.2 274.4 69.3 274.1 66.1C273.8 62.9 274.4 58.5 275.7 56.6Z" filter="url(#f15)"/>
<path d="M276.0 58.0C277.3 56.1 280.8 56.0 283.0 56.5C285.2 57.0 287.2 58.4 289.0 61.0C290.8 63.6 293.0 67.8 294.0 72.0C295.0 76.2 295.5 82.7 295.0 86.0C294.5 89.3 292.7 91.7 291.0 92.0C289.3 92.3 287.0 90.2 285.0 88.0C283.0 85.8 280.7 82.3 279.0 79.0C277.3 75.7 275.5 71.5 275.0 68.0C274.5 64.5 274.7 59.9 276.0 58.0Z" filter="url(#f16)"/>
<path d="M276.6 37.2C277.6 35.9 280.6 37.3 282.3 38.0C284.0 38.7 285.2 40.0 286.6 41.5C288.0 43.0 290.2 45.3 290.9 47.2C291.6 49.1 291.6 51.3 290.9 53.0C290.2 54.7 288.3 56.6 286.6 57.3C284.9 58.0 282.3 58.0 280.9 57.3C279.5 56.6 278.7 54.9 278.0 53.0C277.3 51.1 276.8 48.4 276.6 45.8C276.4 43.2 275.7 38.5 276.6 37.2Z" filter="url(#f17)"/>
<path d="M262.2 96.1C263.3 94.2 266.2 94.2 267.9 94.7C269.6 95.2 271.2 97.1 272.2 99.0C273.2 100.9 273.9 104.0 273.7 106.2C273.5 108.4 272.2 111.0 270.8 111.9C269.4 112.9 266.7 112.9 265.1 111.9C263.5 111.0 261.8 108.8 261.3 106.2C260.8 103.6 261.1 98.0 262.2 96.1Z" filter="url(#f18)"/>
<path d="M263.2 84.2C263.9 83.3 265.9 82.8 266.8 83.6C267.7 84.4 268.2 87.0 268.3 88.9C268.4 90.8 268.3 94.0 267.6 95.0C266.9 96.0 264.7 96.0 263.9 95.0C263.1 94.0 262.7 90.7 262.6 88.9C262.5 87.1 262.5 85.1 263.2 84.2Z" filter="url(#f19)"/>
<path d="M261.6 87.4C261.6 87.8 261.1 88.5 260.7 88.7C260.2 88.9 259.4 88.9 258.9 88.7C258.5 88.5 258.0 87.8 258.0 87.4C258.0 87.0 258.5 86.3 258.9 86.1C259.4 85.9 260.2 85.9 260.7 86.1C261.1 86.3 261.6 87.0 261.6 87.4Z" filter="url(#f17)"/>
<path d="M298.4 52.5C298.4 52.8 298.1 53.2 297.8 53.4C297.5 53.5 296.9 53.5 296.6 53.4C296.3 53.2 296.0 52.8 296.0 52.5C296.0 52.2 296.3 51.8 296.6 51.6C296.9 51.5 297.5 51.5 297.8 51.6C298.1 51.8 298.4 52.2 298.4 52.5Z" filter="url(#f19)"/>
<path d="M320.0 32.9C322.9 32.9 327.3 33.2 331.0 34.5C334.7 35.8 338.6 38.2 342.0 40.8C345.4 43.4 349.2 46.6 351.6 50.3C354.0 54.0 355.2 58.7 356.3 62.9C357.4 67.1 357.9 71.4 357.9 75.6C357.9 79.8 357.4 84.8 356.3 88.2C355.2 91.6 353.2 94.0 351.6 96.1C350.0 98.2 347.9 98.5 346.8 100.9C345.7 103.3 345.2 107.2 345.2 110.3C345.2 113.4 347.3 117.2 346.8 119.8C346.3 122.4 343.8 125.1 342.0 126.1C340.2 127.0 337.4 127.1 335.8 125.5C334.2 123.9 333.4 119.5 332.6 116.7C331.8 113.9 331.8 109.1 331.0 108.8C330.2 108.5 329.5 114.0 327.9 115.1C326.3 116.1 323.1 115.9 321.5 115.1C319.9 114.3 319.7 110.0 318.4 110.3C317.1 110.6 315.7 115.6 313.6 116.7C311.5 117.8 307.8 117.8 305.7 116.7C303.6 115.6 301.9 112.9 301.0 110.3C300.1 107.7 299.5 103.8 300.0 100.9C300.5 98.0 302.6 95.1 304.1 93.0C305.6 90.9 307.8 90.6 308.9 88.2C310.0 85.8 310.8 81.9 310.5 78.7C310.2 75.5 308.6 72.6 307.3 69.2C306.0 65.8 303.7 61.9 302.6 58.2C301.6 54.5 300.5 50.3 301.0 47.1C301.5 43.9 303.6 41.3 305.7 39.2C307.8 37.1 311.2 35.5 313.6 34.5C316.0 33.5 317.1 32.9 320.0 32.9Z" filter="url(#f20)"/>
<path d="M326.3 34.5C329.1 34.8 337.5 37.6 342.0 40.8C346.5 43.9 350.5 48.1 353.1 53.4C355.8 58.7 357.5 66.3 357.9 72.4C358.3 78.5 357.5 85.0 355.7 89.8C353.9 94.5 349.3 99.9 346.8 100.9C344.3 102.0 341.0 99.8 340.5 96.1C340.0 92.4 343.9 84.8 343.7 78.7C343.4 72.7 341.1 65.1 339.0 59.8C336.9 54.5 333.3 50.5 331.0 47.1C328.7 43.7 326.1 41.3 325.3 39.2C324.5 37.1 323.5 34.2 326.3 34.5Z" filter="url(#f21)"/>
<path d="M302.6 88.2C305.1 85.3 312.3 85.5 315.2 86.6C318.1 87.6 319.5 91.1 320.0 94.5C320.5 97.9 320.0 103.5 318.4 107.2C316.8 110.9 313.1 115.4 310.5 116.7C307.9 118.0 304.4 117.2 302.6 115.1C300.9 113.0 300.0 108.6 300.0 104.1C300.0 99.6 300.1 91.1 302.6 88.2Z" filter="url(#f22)"/>
<path d="M333.5 105.6C335.1 104.0 339.8 103.8 342.0 105.6C344.2 107.4 346.5 113.4 346.8 116.7C347.1 120.0 345.4 124.0 343.6 125.5C341.8 127.0 337.6 127.2 335.8 125.5C334.0 123.8 333.0 118.4 332.6 115.1C332.2 111.8 331.9 107.2 333.5 105.6Z" filter="url(#f22)"/>
<path d="M320.0 104.0C321.5 103.0 326.3 102.7 327.9 104.0C329.5 105.3 330.2 110.1 329.4 111.9C328.6 113.8 324.8 115.4 323.1 115.1C321.4 114.8 319.5 112.1 319.0 110.3C318.5 108.5 318.5 105.0 320.0 104.0Z" filter="url(#f23)"/>
<path d="M299.4 44.0C300.2 41.4 302.8 38.9 305.7 37.6C308.6 36.3 313.4 36.0 316.8 36.0C320.2 36.0 324.2 36.3 326.3 37.6C328.4 38.9 329.4 41.6 329.4 44.0C329.4 46.4 328.4 50.1 326.3 51.9C324.2 53.7 320.0 54.2 316.8 55.0C313.6 55.8 309.9 56.9 307.3 56.6C304.7 56.3 302.3 55.5 301.0 53.4C299.7 51.3 298.6 46.6 299.4 44.0Z" filter="url(#f5)"/>
<path d="M405.9 67.9C407.1 66.7 410.1 65.8 412.3 65.8C414.5 65.8 416.8 66.1 418.8 67.9C420.8 69.7 422.6 74.1 424.2 76.6C425.8 79.1 428.7 81.6 428.5 83.0C428.3 84.4 425.4 85.0 423.1 85.2C420.8 85.4 417.0 85.0 414.5 84.1C412.0 83.2 409.6 81.6 408.0 79.8C406.4 78.0 405.2 75.3 404.8 73.3C404.4 71.3 404.6 69.2 405.9 67.9Z" filter="url(#f24)"/>
<path d="M390.8 88.4C391.9 87.0 395.1 86.2 397.2 87.3C399.3 88.4 401.5 92.9 403.7 94.9C405.9 96.9 407.9 98.0 410.2 99.2C412.5 100.5 415.7 101.0 417.7 102.4C419.7 103.8 421.5 105.7 422.0 107.8C422.5 109.9 422.5 113.7 420.9 115.3C419.3 116.9 414.6 117.3 412.3 117.5C410.0 117.7 408.7 117.8 406.9 116.4C405.1 115.0 403.6 111.2 401.6 108.9C399.6 106.6 396.9 104.6 395.1 102.4C393.3 100.2 391.5 98.2 390.8 95.9C390.1 93.6 389.7 89.8 390.8 88.4Z" filter="url(#f25)"/>
<path d="M404.5 46.0C404.5 46.3 404.2 46.9 403.9 47.0C403.6 47.2 403.0 47.2 402.7 47.0C402.4 46.9 402.1 46.3 402.1 46.0C402.1 45.7 402.4 45.1 402.7 45.0C403.0 44.8 403.6 44.8 403.9 45.0C404.2 45.1 404.5 45.7 404.5 46.0Z" filter="url(#f26)"/>
<path d="M385.4 67.9C386.0 67.1 388.1 66.3 389.7 65.8C391.3 65.3 393.3 64.7 395.1 64.7C396.9 64.7 399.8 65.2 400.5 65.8C401.2 66.4 400.7 67.9 399.4 68.4C398.1 68.9 394.5 68.5 392.9 69.0C391.3 69.5 389.9 69.9 389.7 71.2C389.5 72.5 391.9 75.5 391.9 76.6C391.9 77.7 390.4 78.3 389.7 77.6C389.0 76.9 388.1 73.4 387.5 72.2C386.9 71.0 386.4 71.2 386.0 70.5C385.6 69.8 384.8 68.7 385.4 67.9Z" filter="url(#f27)"/>
<path d="M434.5 32.0C435.9 31.3 438.6 30.6 440.0 30.8C441.4 31.1 442.8 32.1 443.0 33.5C443.2 34.9 442.3 37.0 441.5 39.0C440.7 41.0 439.2 43.3 438.0 45.5C436.8 47.7 435.7 49.8 434.5 52.0C433.3 54.2 432.2 56.5 431.0 58.5C429.8 60.5 428.8 62.5 427.5 64.0C426.2 65.5 424.2 67.4 423.0 67.8C421.8 68.2 420.8 67.6 420.5 66.5C420.2 65.4 420.9 62.9 421.5 61.0C422.1 59.1 423.1 57.2 424.0 55.0C424.9 52.8 426.1 50.3 427.0 48.0C427.9 45.7 428.8 43.2 429.5 41.0C430.2 38.8 430.7 36.5 431.5 35.0C432.3 33.5 433.1 32.7 434.5 32.0Z" filter="url(#f28)"/>
<path d="M439.8 57.0C441.0 55.6 443.7 54.8 446.1 53.9C448.5 53.0 452.6 52.8 454.3 51.8C456.0 50.8 455.0 48.6 456.4 47.7C457.8 46.8 460.4 46.1 462.6 46.6C464.9 47.1 468.0 49.1 469.9 50.8C471.8 52.5 473.3 54.6 474.0 57.0C474.7 59.4 474.5 62.9 474.0 65.3C473.5 67.7 472.4 70.1 470.9 71.5C469.3 72.9 466.8 72.9 464.7 73.6C462.6 74.3 460.6 75.1 458.5 75.6C456.4 76.1 454.4 77.0 452.3 76.7C450.2 76.4 447.8 75.2 446.1 73.6C444.4 72.0 443.1 69.2 441.9 67.3C440.7 65.4 439.1 63.9 438.8 62.2C438.5 60.5 438.6 58.4 439.8 57.0Z" filter="url(#f28)"/>
<path d="M431.0 59.0C432.3 57.7 437.5 56.8 439.0 58.0C440.5 59.2 440.5 64.3 440.0 66.0C439.5 67.7 437.5 68.0 436.0 68.0C434.5 68.0 431.8 67.5 431.0 66.0C430.2 64.5 429.7 60.3 431.0 59.0Z" filter="url(#f29)"/>
<path d="M465.7 76.7C466.9 75.5 470.6 74.4 473.0 74.6C475.4 74.8 478.8 76.3 480.2 77.7C481.6 79.1 481.8 81.5 481.3 82.9C480.8 84.3 479.0 85.7 477.1 86.0C475.2 86.3 471.8 85.7 469.9 85.0C468.0 84.3 466.4 83.2 465.7 81.8C465.0 80.4 464.5 77.9 465.7 76.7Z" filter="url(#f30)"/>
<path d="M429.6 71.2C430.5 69.8 433.9 69.4 436.0 70.1C438.1 70.8 441.1 73.3 442.5 75.5C443.9 77.7 445.1 81.2 444.7 83.0C444.3 84.8 442.1 85.9 440.3 86.3C438.5 86.7 435.5 86.5 433.9 85.2C432.3 83.9 431.3 81.0 430.6 78.7C429.9 76.4 428.7 72.6 429.6 71.2Z" filter="url(#f31)"/>
<path d="M441.4 85.2C443.0 83.8 448.4 84.5 451.1 85.2C453.8 85.9 456.3 87.5 457.6 89.5C458.9 91.5 459.8 95.0 458.7 97.0C457.6 99.0 453.4 100.8 451.1 101.3C448.8 101.8 446.3 101.5 444.7 100.3C443.1 99.0 441.9 96.3 441.4 93.8C440.8 91.3 439.8 86.6 441.4 85.2Z" filter="url(#f28)"/>
<path d="M435.8 93.5C435.8 94.3 435.4 95.2 434.9 95.8C434.4 96.3 433.5 96.7 432.8 96.7C432.1 96.7 431.2 96.3 430.7 95.8C430.2 95.2 429.8 94.3 429.8 93.5C429.8 92.7 430.2 91.8 430.7 91.2C431.2 90.7 432.1 90.3 432.8 90.3C433.5 90.3 434.4 90.7 434.9 91.2C435.4 91.8 435.8 92.7 435.8 93.5Z" filter="url(#f32)"/>
<path d="M451.1 97.0C453.1 95.4 458.1 95.4 460.8 95.9C463.5 96.5 465.9 98.1 467.3 100.3C468.7 102.5 469.8 106.4 469.4 108.9C469.0 111.4 467.1 114.0 465.1 115.3C463.1 116.5 459.9 116.8 457.6 116.4C455.3 116.1 452.5 115.0 451.1 113.2C449.7 111.4 449.0 108.3 449.0 105.6C449.0 102.9 449.1 98.6 451.1 97.0Z" filter="url(#f14)"/>
<path d="M423.1 104.6C424.4 103.5 429.6 105.7 431.7 104.6C433.8 103.5 434.2 98.8 436.0 98.1C437.8 97.4 441.2 98.7 442.5 100.3C443.8 101.9 442.5 106.0 443.6 107.8C444.7 109.6 447.6 109.4 449.0 111.0C450.4 112.6 452.2 115.3 452.2 117.5C452.2 119.7 450.2 122.8 449.0 124.0C447.8 125.2 446.1 125.7 444.7 125.0C443.2 124.3 441.9 121.0 440.3 119.7C438.7 118.5 436.6 118.6 435.0 117.5C433.4 116.4 432.4 114.3 430.6 113.2C428.8 112.1 425.4 112.4 424.2 111.0C422.9 109.6 421.9 105.7 423.1 104.6Z" filter="url(#f33)"/>
<path d="M524.0 45.0C525.1 42.2 527.7 39.7 530.0 38.5C532.3 37.3 535.5 37.6 538.0 38.0C540.5 38.4 543.2 39.7 545.0 41.0C546.8 42.3 548.3 43.7 549.0 46.0C549.7 48.3 549.3 51.8 549.0 55.0C548.7 58.2 547.5 61.2 547.0 65.0C546.5 68.8 545.8 73.8 546.0 78.0C546.2 82.2 546.8 86.7 548.0 90.0C549.2 93.3 551.2 95.3 553.0 98.0C554.8 100.7 557.7 103.3 559.0 106.0C560.3 108.7 561.2 111.3 561.0 114.0C560.8 116.7 560.2 120.2 558.0 122.0C555.8 123.8 551.2 125.0 548.0 125.0C544.8 125.0 541.5 123.8 539.0 122.0C536.5 120.2 534.3 117.3 533.0 114.0C531.7 110.7 531.8 105.7 531.0 102.0C530.2 98.3 529.1 95.3 528.0 92.0C526.9 88.7 525.3 85.7 524.5 82.0C523.7 78.3 523.2 74.5 523.0 70.0C522.8 65.5 523.3 59.2 523.5 55.0C523.7 50.8 522.9 47.8 524.0 45.0Z" filter="url(#f34)"/>
<path d="M509.5 46.0C510.9 43.5 513.4 41.8 515.9 41.0C518.4 40.2 522.2 40.0 524.5 41.0C526.8 42.0 528.8 44.2 529.5 47.2C530.2 50.2 528.9 54.9 528.5 58.7C528.1 62.5 528.1 67.2 527.0 70.2C525.9 73.2 524.2 75.6 522.0 76.5C519.8 77.4 516.2 77.0 514.0 75.5C511.8 74.0 509.9 70.6 508.8 67.3C507.7 64.0 507.5 59.3 507.6 55.8C507.7 52.2 508.1 48.5 509.5 46.0Z" filter="url(#f35)"/>
<path d="M548.0 40.0C549.7 38.7 553.0 36.9 556.0 36.0C559.0 35.1 562.3 34.5 566.0 34.5C569.7 34.5 574.3 34.6 578.0 36.0C581.7 37.4 585.3 40.0 588.0 43.0C590.7 46.0 592.7 49.8 594.0 54.0C595.3 58.2 596.2 63.2 596.0 68.0C595.8 72.8 594.7 78.5 593.0 83.0C591.3 87.5 588.8 91.7 586.0 95.0C583.2 98.3 579.2 100.7 576.0 103.0C572.8 105.3 569.7 107.8 567.0 109.0C564.3 110.2 562.2 110.8 560.0 110.0C557.8 109.2 555.8 106.0 554.0 104.0C552.2 102.0 550.7 100.3 549.0 98.0C547.3 95.7 545.2 93.3 544.0 90.0C542.8 86.7 542.2 82.3 542.0 78.0C541.8 73.7 542.3 68.3 543.0 64.0C543.7 59.7 545.5 55.3 546.0 52.0C546.5 48.7 545.7 46.0 546.0 44.0C546.3 42.0 546.3 41.3 548.0 40.0Z" filter="url(#f36)"/>
<path d="M562.0 40.0C564.8 37.6 568.7 37.0 572.0 37.5C575.3 38.0 579.0 40.2 582.0 43.0C585.0 45.8 588.2 50.0 590.0 54.0C591.8 58.0 592.5 62.7 592.5 67.0C592.5 71.3 591.8 76.2 590.0 80.0C588.2 83.8 585.0 87.5 582.0 90.0C579.0 92.5 575.2 94.2 572.0 95.0C568.8 95.8 565.7 96.7 563.0 95.0C560.3 93.3 557.7 89.2 556.0 85.0C554.3 80.8 553.2 75.5 553.0 70.0C552.8 64.5 553.5 57.0 555.0 52.0C556.5 47.0 559.2 42.4 562.0 40.0Z" filter="url(#f37)"/>
<path d="M526.5 37.5C527.4 36.8 530.1 36.1 532.0 35.8C533.9 35.5 536.0 35.2 538.0 35.5C540.0 35.8 542.2 36.7 543.7 37.6C545.2 38.5 546.5 39.8 547.0 41.0C547.5 42.2 547.4 44.8 546.6 45.0C545.8 45.2 543.8 43.1 542.0 42.5C540.2 41.9 538.0 41.4 536.0 41.2C534.0 41.0 531.6 41.7 530.0 41.5C528.4 41.3 527.1 40.9 526.5 40.2C525.9 39.5 525.6 38.2 526.5 37.5Z" filter="url(#f38)"/>
<path d="M531.7 106.0C532.9 104.9 537.5 104.2 538.9 105.2C540.3 106.2 540.3 109.8 540.3 111.8C540.3 113.8 540.1 116.5 538.9 117.5C537.7 118.5 534.3 118.5 533.1 117.5C531.9 116.5 531.9 113.7 531.7 111.8C531.5 109.9 530.5 107.1 531.7 106.0Z" filter="url(#f18)"/>
<defs><radialGradient id="h0" cx="0.46" cy="0.54" r="0.5" gradientTransform="rotate(-40 .46 .54) translate(.46 .54) scale(1.15 .8) translate(-.46 -.54)"><stop offset="0.00" stop-color="#0000bc"/><stop offset="0.14" stop-color="#0000bb"/><stop offset="0.29" stop-color="#0000b8"/><stop offset="0.43" stop-color="#0000b5"/><stop offset="0.57" stop-color="#0000b2"/><stop offset="0.71" stop-color="#0000ae"/><stop offset="0.86" stop-color="#0000aa"/><stop offset="1.00" stop-color="#0000a6"/></radialGradient><radialGradient id="h1" cx="0.46" cy="0.54" r="0.5" gradientTransform="rotate(-40 .46 .54) translate(.46 .54) scale(1.15 .8) translate(-.46 -.54)"><stop offset="0.00" stop-color="#0000e5"/><stop offset="0.14" stop-color="#0000e1"/><stop offset="0.29" stop-color="#0000db"/><stop offset="0.43" stop-color="#0000d3"/><stop offset="0.57" stop-color="#0000ca"/><stop offset="0.71" stop-color="#0000c1"/><stop offset="0.86" stop-color="#0000b6"/><stop offset="1.00" stop-color="#0000ab"/></radialGradient><radialGradient id="h2" cx="0.46" cy="0.54" r="0.5" gradientTransform="rotate(-40 .46 .54) translate(.46 .54) scale(1.15 .8) translate(-.46 -.54)"><stop offset="0.00" stop-color="#0000f9"/><stop offset="0.14" stop-color="#0000f4"/><stop offset="0.29" stop-color="#0000ec"/><stop offset="0.43" stop-color="#0000e2"/><stop offset="0.57" stop-color="#0000d7"/><stop offset="0.71" stop-color="#0000ca"/><stop offset="0.86" stop-color="#0000bc"/><stop offset="1.00" stop-color="#0000ad"/></radialGradient><radialGradient id="h3" cx="0.46" cy="0.54" r="0.62" gradientTransform="rotate(-40 .46 .54) translate(.46 .54) scale(1.15 .8) translate(-.46 -.54)"><stop offset="0.00" stop-color="#ff8900"/><stop offset="0.14" stop-color="#ff9f00"/><stop offset="0.29" stop-color="#ffc200"/><stop offset="0.43" stop-color="#ffed00"/><stop offset="0.57" stop-color="#dfff1f"/><stop offset="0.71" stop-color="#a8ff56"/><stop offset="0.86" stop-color="#6dff91"/><stop offset="1.00" stop-color="#2dffd1"/></radialGradient><radialGradient id="h4" cx="0.46" cy="0.54" r="0.5" gradientTransform="rotate(-40 .46 .54) translate(.46 .54) scale(1.15 .8) translate(-.46 -.54)"><stop offset="0.00" stop-color="#009eff"/><stop offset="0.14" stop-color="#008fff"/><stop offset="0.29" stop-color="#0078ff"/><stop offset="0.43" stop-color="#005aff"/><stop offset="0.57" stop-color="#0039ff"/><stop offset="0.71" stop-color="#0014ff"/><stop offset="0.86" stop-color="#0000eb"/><stop offset="1.00" stop-color="#0000c1"/></radialGradient><radialGradient id="h5" cx="0.46" cy="0.54" r="0.5" gradientTransform="rotate(-40 .46 .54) translate(.46 .54) scale(1.15 .8) translate(-.46 -.54)"><stop offset="0.00" stop-color="#0089ff"/><stop offset="0.14" stop-color="#007cff"/><stop offset="0.29" stop-color="#0066ff"/><stop offset="0.43" stop-color="#004cff"/><stop offset="0.57" stop-color="#002dff"/><stop offset="0.71" stop-color="#000bff"/><stop offset="0.86" stop-color="#0000e5"/><stop offset="1.00" stop-color="#0000be"/></radialGradient><radialGradient id="h6" cx="0.46" cy="0.54" r="0.5" gradientTransform="rotate(-40 .46 .54) translate(.46 .54) scale(1.15 .8) translate(-.46 -.54)"><stop offset="0.00" stop-color="#0023ff"/><stop offset="0.14" stop-color="#001cff"/><stop offset="0.29" stop-color="#0010ff"/><stop offset="0.43" stop-color="#0001ff"/><stop offset="0.57" stop-color="#0000ef"/><stop offset="0.71" stop-color="#0000dc"/><stop offset="0.86" stop-color="#0000c8"/><stop offset="1.00" stop-color="#0000b2"/></radialGradient><radialGradient id="h7" cx="0.46" cy="0.54" r="0.5" gradientTransform="rotate(-40 .46 .54) translate(.46 .54) scale(1.15 .8) translate(-.46 -.54)"><stop offset="0.00" stop-color="#0060ff"/><stop offset="0.14" stop-color="#0056ff"/><stop offset="0.29" stop-color="#0044ff"/><stop offset="0.43" stop-color="#002eff"/><stop offset="0.57" stop-color="#0015ff"/><stop offset="0.71" stop-color="#0000f8"/><stop offset="0.86" stop-color="#0000da"/><stop offset="1.00" stop-color="#0000b9"/></radialGradient><radialGradient id="h8" cx="0.46" cy="0.54" r="0.62" gradientTransform="rotate(-40 .46 .54) translate(.46 .54) scale(1.15 .8) translate(-.46 -.54)"><stop offset="0.00" stop-color="#e50000"/><stop offset="0.14" stop-color="#ff0600"/><stop offset="0.29" stop-color="#ff3b00"/><stop offset="0.43" stop-color="#ff7c00"/><stop offset="0.57" stop-color="#ffc600"/><stop offset="0.71" stop-color="#e5ff19"/><stop offset="0.86" stop-color="#8cff72"/><stop offset="1.00" stop-color="#2dffd1"/></radialGradient><radialGradient id="h9" cx="0.46" cy="0.54" r="0.5" gradientTransform="rotate(-40 .46 .54) translate(.46 .54) scale(1.15 .8) translate(-.46 -.54)"><stop offset="0.00" stop-color="#00efff"/><stop offset="0.14" stop-color="#00dcff"/><stop offset="0.29" stop-color="#00bdff"/><stop offset="0.43" stop-color="#0096ff"/><stop offset="0.57" stop-color="#006aff"/><stop offset="0.71" stop-color="#0039ff"/><stop offset="0.86" stop-color="#0004ff"/><stop offset="1.00" stop-color="#0000ca"/></radialGradient><radialGradient id="h10" cx="0.46" cy="0.54" r="0.5" gradientTransform="rotate(-40 .46 .54) translate(.46 .54) scale(1.15 .8) translate(-.46 -.54)"><stop offset="0.00" stop-color="#00dbff"/><stop offset="0.14" stop-color="#00c9ff"/><stop offset="0.29" stop-color="#00abff"/><stop offset="0.43" stop-color="#0087ff"/><stop offset="0.57" stop-color="#005eff"/><stop offset="0.71" stop-color="#0030ff"/><stop offset="0.86" stop-color="#0000fd"/><stop offset="1.00" stop-color="#0000c8"/></radialGradient><radialGradient id="h11" cx="0.46" cy="0.54" r="0.5" gradientTransform="rotate(-40 .46 .54) translate(.46 .54) scale(1.15 .8) translate(-.46 -.54)"><stop offset="0.00" stop-color="#0000d1"/><stop offset="0.14" stop-color="#0000ce"/><stop offset="0.29" stop-color="#0000ca"/><stop offset="0.43" stop-color="#0000c4"/><stop offset="0.57" stop-color="#0000be"/><stop offset="0.71" stop-color="#0000b7"/><stop offset="0.86" stop-color="#0000b0"/><stop offset="1.00" stop-color="#0000a8"/></radialGradient><radialGradient id="h12" cx="0.46" cy="0.54" r="0.62" gradientTransform="rotate(-40 .46 .54) translate(.46 .54) scale(1.15 .8) translate(-.46 -.54)"><stop offset="0.00" stop-color="#ffc600"/><stop offset="0.14" stop-color="#ffd800"/><stop offset="0.29" stop-color="#fff400"/><stop offset="0.43" stop-color="#e6ff18"/><stop offset="0.57" stop-color="#bdff41"/><stop offset="0.71" stop-color="#91ff6d"/><stop offset="0.86" stop-color="#61ff9d"/><stop offset="1.00" stop-color="#2dffd1"/></radialGradient><radialGradient id="h13" cx="0.46" cy="0.54" r="0.5" gradientTransform="rotate(-40 .46 .54) translate(.46 .54) scale(1.15 .8) translate(-.46 -.54)"><stop offset="0.00" stop-color="#0075ff"/><stop offset="0.14" stop-color="#0069ff"/><stop offset="0.29" stop-color="#0055ff"/><stop offset="0.43" stop-color="#003dff"/><stop offset="0.57" stop-color="#0021ff"/><stop offset="0.71" stop-color="#0002ff"/><stop offset="0.86" stop-color="#0000e0"/><stop offset="1.00" stop-color="#0000bc"/></radialGradient><radialGradient id="h14" cx="0.46" cy="0.54" r="0.62" gradientTransform="rotate(-40 .46 .54) translate(.46 .54) scale(1.15 .8) translate(-.46 -.54)"><stop offset="0.00" stop-color="#ffdb00"/><stop offset="0.14" stop-color="#ffeb00"/><stop offset="0.29" stop-color="#f8ff06"/><stop offset="0.43" stop-color="#d7ff27"/><stop offset="0.57" stop-color="#b2ff4c"/><stop offset="0.71" stop-color="#89ff75"/><stop offset="0.86" stop-color="#5dffa1"/><stop offset="1.00" stop-color="#2dffd1"/></radialGradient><radialGradient id="h15" cx="0.46" cy="0.54" r="0.62" gradientTransform="rotate(-40 .46 .54) translate(.46 .54) scale(1.15 .8) translate(-.46 -.54)"><stop offset="0.00" stop-color="#ff3800"/><stop offset="0.14" stop-color="#ff5200"/><stop offset="0.29" stop-color="#ff7e00"/><stop offset="0.43" stop-color="#ffb400"/><stop offset="0.57" stop-color="#fff200"/><stop offset="0.71" stop-color="#c7ff37"/><stop offset="0.86" stop-color="#7dff81"/><stop offset="1.00" stop-color="#2dffd1"/></radialGradient><radialGradient id="h16" cx="0.46" cy="0.54" r="0.5" gradientTransform="rotate(-40 .46 .54) translate(.46 .54) scale(1.15 .8) translate(-.46 -.54)"><stop offset="0.00" stop-color="#00b2ff"/><stop offset="0.14" stop-color="#00a2ff"/><stop offset="0.29" stop-color="#0089ff"/><stop offset="0.43" stop-color="#0069ff"/><stop offset="0.57" stop-color="#0045ff"/><stop offset="0.71" stop-color="#001dff"/><stop offset="0.86" stop-color="#0000f1"/><stop offset="1.00" stop-color="#0000c3"/></radialGradient><radialGradient id="h17" cx="0.46" cy="0.54" r="0.5" gradientTransform="rotate(-40 .46 .54) translate(.46 .54) scale(1.15 .8) translate(-.46 -.54)"><stop offset="0.00" stop-color="#000fff"/><stop offset="0.14" stop-color="#0009ff"/><stop offset="0.29" stop-color="#0000fd"/><stop offset="0.43" stop-color="#0000f1"/><stop offset="0.57" stop-color="#0000e3"/><stop offset="0.71" stop-color="#0000d3"/><stop offset="0.86" stop-color="#0000c2"/><stop offset="1.00" stop-color="#0000b0"/></radialGradient><radialGradient id="h18" cx="0.46" cy="0.54" r="0.62" gradientTransform="rotate(-40 .46 .54) translate(.46 .54) scale(1.15 .8) translate(-.46 -.54)"><stop offset="0.00" stop-color="#ff0f00"/><stop offset="0.14" stop-color="#ff2c00"/><stop offset="0.29" stop-color="#ff5c00"/><stop offset="0.43" stop-color="#ff9800"/><stop offset="0.57" stop-color="#ffdc00"/><stop offset="0.71" stop-color="#d6ff28"/><stop offset="0.86" stop-color="#85ff79"/><stop offset="1.00" stop-color="#2dffd1"/></radialGradient><radialGradient id="h19" cx="0.46" cy="0.54" r="0.5" gradientTransform="rotate(-40 .46 .54) translate(.46 .54) scale(1.15 .8) translate(-.46 -.54)"><stop offset="0.00" stop-color="#00c6ff"/><stop offset="0.14" stop-color="#00b6ff"/><stop offset="0.29" stop-color="#009aff"/><stop offset="0.43" stop-color="#0078ff"/><stop offset="0.57" stop-color="#0052ff"/><stop offset="0.71" stop-color="#0027ff"/><stop offset="0.86" stop-color="#0000f7"/><stop offset="1.00" stop-color="#0000c6"/></radialGradient><radialGradient id="h20" cx="0.46" cy="0.54" r="0.62" gradientTransform="rotate(-40 .46 .54) translate(.46 .54) scale(1.15 .8) translate(-.46 -.54)"><stop offset="0.00" stop-color="#f90000"/><stop offset="0.14" stop-color="#ff1900"/><stop offset="0.29" stop-color="#ff4c00"/><stop offset="0.43" stop-color="#ff8a00"/><stop offset="0.57" stop-color="#ffd100"/><stop offset="0.71" stop-color="#deff20"/><stop offset="0.86" stop-color="#88ff76"/><stop offset="1.00" stop-color="#2dffd1"/></radialGradient><radialGradient id="h21" cx="0.46" cy="0.54" r="0.5" gradientTransform="rotate(-40 .46 .54) translate(.46 .54) scale(1.15 .8) translate(-.46 -.54)"><stop offset="0.00" stop-color="#004cff"/><stop offset="0.14" stop-color="#0042ff"/><stop offset="0.29" stop-color="#0032ff"/><stop offset="0.43" stop-color="#001fff"/><stop offset="0.57" stop-color="#0008ff"/><stop offset="0.71" stop-color="#0000ef"/><stop offset="0.86" stop-color="#0000d4"/><stop offset="1.00" stop-color="#0000b7"/></radialGradient><radialGradient id="h22" cx="0.46" cy="0.54" r="0.62" gradientTransform="rotate(-40 .46 .54) translate(.46 .54) scale(1.15 .8) translate(-.46 -.54)"><stop offset="0.00" stop-color="#ffb200"/><stop offset="0.14" stop-color="#ffc500"/><stop offset="0.29" stop-color="#ffe300"/><stop offset="0.43" stop-color="#f4ff0a"/><stop offset="0.57" stop-color="#c9ff35"/><stop offset="0.71" stop-color="#99ff65"/><stop offset="0.86" stop-color="#65ff99"/><stop offset="1.00" stop-color="#2dffd1"/></radialGradient></defs>
<text x="-1.20" y="6.60" font-size="12.5" text-anchor="start" font-weight="bold" fill="#000">a</text>
<line x1="19.00" y1="28.00" x2="19.00" y2="131.80" stroke="#555" stroke-width="1.0"/>
<line x1="19.00" y1="131.80" x2="114.00" y2="131.80" stroke="#555" stroke-width="1.0"/>
<line x1="17.60" y1="32.90" x2="19.00" y2="32.90" stroke="#333" stroke-width="0.6"/>
<text x="17.10" y="34.81" font-size="5.3" text-anchor="end" fill="#111">40</text>
<line x1="17.60" y1="55.90" x2="19.00" y2="55.90" stroke="#333" stroke-width="0.6"/>
<text x="17.10" y="57.81" font-size="5.3" text-anchor="end" fill="#111">20</text>
<line x1="17.60" y1="79.00" x2="19.00" y2="79.00" stroke="#333" stroke-width="0.6"/>
<text x="17.10" y="80.91" font-size="5.3" text-anchor="end" fill="#111">0</text>
<line x1="17.60" y1="102.00" x2="19.00" y2="102.00" stroke="#333" stroke-width="0.6"/>
<text x="17.10" y="103.91" font-size="5.3" text-anchor="end" fill="#111">-20</text>
<line x1="17.60" y1="124.60" x2="19.00" y2="124.60" stroke="#333" stroke-width="0.6"/>
<text x="17.10" y="126.51" font-size="5.3" text-anchor="end" fill="#111">-40</text>
<line x1="39.70" y1="131.80" x2="39.70" y2="133.20" stroke="#333" stroke-width="0.6"/>
<text x="39.70" y="139.61" font-size="5.3" text-anchor="middle" fill="#111">-25</text>
<line x1="65.30" y1="131.80" x2="65.30" y2="133.20" stroke="#333" stroke-width="0.6"/>
<text x="65.30" y="139.61" font-size="5.3" text-anchor="middle" fill="#111">0</text>
<line x1="91.80" y1="131.80" x2="91.80" y2="133.20" stroke="#333" stroke-width="0.6"/>
<text x="91.80" y="139.61" font-size="5.3" text-anchor="middle" fill="#111">25</text>
<text x="7.40" y="80.88" font-size="5.5" text-anchor="middle" fill="#111" transform="rotate(-90 7.40 78.90)">tSNE_2</text>
<text x="67.80" y="144.94" font-size="5.4" text-anchor="middle" fill="#111">tSNE_1</text>
<text x="68.00" y="17.50" font-size="8.4" text-anchor="middle" fill="#000" transform="translate(68.00 0) scale(0.965 1) translate(-68.00 0)">Cortical assembloids (n=13)</text>
<line x1="132.10" y1="27.60" x2="132.10" y2="131.00" stroke="#555" stroke-width="1.0"/>
<line x1="132.10" y1="131.00" x2="232.80" y2="131.00" stroke="#555" stroke-width="1.0"/>
<line x1="130.70" y1="29.30" x2="132.10" y2="29.30" stroke="#333" stroke-width="0.6"/>
<text x="130.20" y="31.21" font-size="5.3" text-anchor="end" fill="#111">40</text>
<line x1="130.70" y1="55.00" x2="132.10" y2="55.00" stroke="#333" stroke-width="0.6"/>
<text x="130.20" y="56.91" font-size="5.3" text-anchor="end" fill="#111">20</text>
<line x1="130.70" y1="80.90" x2="132.10" y2="80.90" stroke="#333" stroke-width="0.6"/>
<text x="130.20" y="82.81" font-size="5.3" text-anchor="end" fill="#111">0</text>
<line x1="130.70" y1="107.00" x2="132.10" y2="107.00" stroke="#333" stroke-width="0.6"/>
<text x="130.20" y="108.91" font-size="5.3" text-anchor="end" fill="#111">-20</text>
<line x1="138.30" y1="131.00" x2="138.30" y2="132.40" stroke="#333" stroke-width="0.6"/>
<text x="138.30" y="138.81" font-size="5.3" text-anchor="middle" fill="#111">-40</text>
<line x1="161.50" y1="131.00" x2="161.50" y2="132.40" stroke="#333" stroke-width="0.6"/>
<text x="161.50" y="138.81" font-size="5.3" text-anchor="middle" fill="#111">-20</text>
<line x1="184.70" y1="131.00" x2="184.70" y2="132.40" stroke="#333" stroke-width="0.6"/>
<text x="184.70" y="138.81" font-size="5.3" text-anchor="middle" fill="#111">0</text>
<line x1="207.90" y1="131.00" x2="207.90" y2="132.40" stroke="#333" stroke-width="0.6"/>
<text x="207.90" y="138.81" font-size="5.3" text-anchor="middle" fill="#111">20</text>
<line x1="231.20" y1="131.00" x2="231.20" y2="132.40" stroke="#333" stroke-width="0.6"/>
<text x="231.20" y="138.81" font-size="5.3" text-anchor="middle" fill="#111">40</text>
<text x="120.60" y="79.38" font-size="5.5" text-anchor="middle" fill="#111" transform="rotate(-90 120.60 77.40)">tSNE_2</text>
<text x="184.80" y="144.94" font-size="5.4" text-anchor="middle" fill="#111">tSNE_1</text>
<text x="183.40" y="17.60" font-size="8.4" text-anchor="middle" fill="#000" transform="translate(183.40 0) scale(0.965 1) translate(-183.40 0)">Cortical organoid</text>
<text x="183.40" y="25.90" font-size="8.4" text-anchor="middle" fill="#000" transform="translate(183.40 0) scale(0.965 1) translate(-183.40 0)">(Qian, et al. (n=1))</text>
<line x1="253.10" y1="27.40" x2="253.10" y2="130.80" stroke="#555" stroke-width="1.0"/>
<line x1="253.10" y1="130.80" x2="362.00" y2="130.80" stroke="#555" stroke-width="1.0"/>
<line x1="251.70" y1="30.00" x2="253.10" y2="30.00" stroke="#333" stroke-width="0.6"/>
<text x="251.20" y="31.91" font-size="5.3" text-anchor="end" fill="#111">30</text>
<line x1="251.70" y1="46.20" x2="253.10" y2="46.20" stroke="#333" stroke-width="0.6"/>
<text x="251.20" y="48.11" font-size="5.3" text-anchor="end" fill="#111">20</text>
<line x1="251.70" y1="62.40" x2="253.10" y2="62.40" stroke="#333" stroke-width="0.6"/>
<text x="251.20" y="64.31" font-size="5.3" text-anchor="end" fill="#111">10</text>
<line x1="251.70" y1="78.90" x2="253.10" y2="78.90" stroke="#333" stroke-width="0.6"/>
<text x="251.20" y="80.81" font-size="5.3" text-anchor="end" fill="#111">0</text>
<line x1="251.70" y1="95.20" x2="253.10" y2="95.20" stroke="#333" stroke-width="0.6"/>
<text x="251.20" y="97.11" font-size="5.3" text-anchor="end" fill="#111">-10</text>
<line x1="251.70" y1="111.40" x2="253.10" y2="111.40" stroke="#333" stroke-width="0.6"/>
<text x="251.20" y="113.31" font-size="5.3" text-anchor="end" fill="#111">-20</text>
<line x1="251.70" y1="127.60" x2="253.10" y2="127.60" stroke="#333" stroke-width="0.6"/>
<text x="251.20" y="129.51" font-size="5.3" text-anchor="end" fill="#111">-30</text>
<line x1="262.90" y1="130.80" x2="262.90" y2="132.20" stroke="#333" stroke-width="0.6"/>
<text x="262.90" y="138.61" font-size="5.3" text-anchor="middle" fill="#111">-40</text>
<line x1="288.00" y1="130.80" x2="288.00" y2="132.20" stroke="#333" stroke-width="0.6"/>
<text x="288.00" y="138.61" font-size="5.3" text-anchor="middle" fill="#111">-20</text>
<line x1="313.10" y1="130.80" x2="313.10" y2="132.20" stroke="#333" stroke-width="0.6"/>
<text x="313.10" y="138.61" font-size="5.3" text-anchor="middle" fill="#111">0</text>
<line x1="338.20" y1="130.80" x2="338.20" y2="132.20" stroke="#333" stroke-width="0.6"/>
<text x="338.20" y="138.61" font-size="5.3" text-anchor="middle" fill="#111">20</text>
<text x="239.50" y="80.08" font-size="5.5" text-anchor="middle" fill="#111" transform="rotate(-90 239.50 78.10)">tSNE_2</text>
<text x="309.10" y="144.94" font-size="5.4" text-anchor="middle" fill="#111">tSNE_1</text>
<text x="309.10" y="17.60" font-size="8.4" text-anchor="middle" fill="#000" transform="translate(309.10 0) scale(0.965 1) translate(-309.10 0)">Cortical organoids</text>
<text x="308.30" y="25.90" font-size="8.4" text-anchor="middle" fill="#000" transform="translate(308.30 0) scale(0.965 1) translate(-308.30 0)">(Yoon, et al. (n=3))</text>
<line x1="380.40" y1="27.40" x2="380.40" y2="130.80" stroke="#555" stroke-width="1.0"/>
<line x1="380.40" y1="130.80" x2="485.40" y2="130.80" stroke="#555" stroke-width="1.0"/>
<line x1="379.00" y1="31.60" x2="380.40" y2="31.60" stroke="#333" stroke-width="0.6"/>
<text x="378.50" y="33.51" font-size="5.3" text-anchor="end" fill="#111">40</text>
<line x1="379.00" y1="56.40" x2="380.40" y2="56.40" stroke="#333" stroke-width="0.6"/>
<text x="378.50" y="58.31" font-size="5.3" text-anchor="end" fill="#111">20</text>
<line x1="379.00" y1="81.10" x2="380.40" y2="81.10" stroke="#333" stroke-width="0.6"/>
<text x="378.50" y="83.01" font-size="5.3" text-anchor="end" fill="#111">0</text>
<line x1="379.00" y1="105.90" x2="380.40" y2="105.90" stroke="#333" stroke-width="0.6"/>
<text x="378.50" y="107.81" font-size="5.3" text-anchor="end" fill="#111">-20</text>
<line x1="379.00" y1="130.10" x2="380.40" y2="130.10" stroke="#333" stroke-width="0.6"/>
<text x="378.50" y="132.01" font-size="5.3" text-anchor="end" fill="#111">-40</text>
<line x1="385.80" y1="130.80" x2="385.80" y2="132.20" stroke="#333" stroke-width="0.6"/>
<text x="385.80" y="138.61" font-size="5.3" text-anchor="middle" fill="#111">-40</text>
<line x1="411.20" y1="130.80" x2="411.20" y2="132.20" stroke="#333" stroke-width="0.6"/>
<text x="411.20" y="138.61" font-size="5.3" text-anchor="middle" fill="#111">-20</text>
<line x1="436.60" y1="130.80" x2="436.60" y2="132.20" stroke="#333" stroke-width="0.6"/>
<text x="436.60" y="138.61" font-size="5.3" text-anchor="middle" fill="#111">0</text>
<line x1="462.00" y1="130.80" x2="462.00" y2="132.20" stroke="#333" stroke-width="0.6"/>
<text x="462.00" y="138.61" font-size="5.3" text-anchor="middle" fill="#111">20</text>
<text x="369.50" y="80.88" font-size="5.5" text-anchor="middle" fill="#111" transform="rotate(-90 369.50 78.90)">tSNE_2</text>
<text x="434.50" y="144.94" font-size="5.4" text-anchor="middle" fill="#111">tSNE_1</text>
<text x="432.30" y="17.60" font-size="8.4" text-anchor="middle" fill="#000" transform="translate(432.30 0) scale(0.965 1) translate(-432.30 0)">Cortical organoids</text>
<text x="433.10" y="25.90" font-size="8.4" text-anchor="middle" fill="#000" transform="translate(433.10 0) scale(0.965 1) translate(-433.10 0)">(Xiang, et al. (n=2))</text>
<line x1="502.40" y1="27.60" x2="502.40" y2="130.60" stroke="#555" stroke-width="1.0"/>
<line x1="502.40" y1="130.60" x2="601.30" y2="130.60" stroke="#555" stroke-width="1.0"/>
<line x1="501.00" y1="47.70" x2="502.40" y2="47.70" stroke="#333" stroke-width="0.6"/>
<text x="500.50" y="49.61" font-size="5.3" text-anchor="end" fill="#111">10</text>
<line x1="501.00" y1="73.80" x2="502.40" y2="73.80" stroke="#333" stroke-width="0.6"/>
<text x="500.50" y="75.71" font-size="5.3" text-anchor="end" fill="#111">0</text>
<line x1="501.00" y1="100.20" x2="502.40" y2="100.20" stroke="#333" stroke-width="0.6"/>
<text x="500.50" y="102.11" font-size="5.3" text-anchor="end" fill="#111">-10</text>
<line x1="501.00" y1="126.50" x2="502.40" y2="126.50" stroke="#333" stroke-width="0.6"/>
<text x="500.50" y="128.41" font-size="5.3" text-anchor="end" fill="#111">-20</text>
<line x1="507.70" y1="130.60" x2="507.70" y2="132.00" stroke="#333" stroke-width="0.6"/>
<text x="507.70" y="138.41" font-size="5.3" text-anchor="middle" fill="#111">-30</text>
<line x1="523.00" y1="130.60" x2="523.00" y2="132.00" stroke="#333" stroke-width="0.6"/>
<text x="523.00" y="138.41" font-size="5.3" text-anchor="middle" fill="#111">-20</text>
<line x1="538.30" y1="130.60" x2="538.30" y2="132.00" stroke="#333" stroke-width="0.6"/>
<text x="538.30" y="138.41" font-size="5.3" text-anchor="middle" fill="#111">-10</text>
<line x1="553.60" y1="130.60" x2="553.60" y2="132.00" stroke="#333" stroke-width="0.6"/>
<text x="553.60" y="138.41" font-size="5.3" text-anchor="middle" fill="#111">0</text>
<line x1="568.90" y1="130.60" x2="568.90" y2="132.00" stroke="#333" stroke-width="0.6"/>
<text x="568.90" y="138.41" font-size="5.3" text-anchor="middle" fill="#111">10</text>
<line x1="584.20" y1="130.60" x2="584.20" y2="132.00" stroke="#333" stroke-width="0.6"/>
<text x="584.20" y="138.41" font-size="5.3" text-anchor="middle" fill="#111">20</text>
<line x1="599.50" y1="130.60" x2="599.50" y2="132.00" stroke="#333" stroke-width="0.6"/>
<text x="599.50" y="138.41" font-size="5.3" text-anchor="middle" fill="#111">30</text>
<text x="491.50" y="78.48" font-size="5.5" text-anchor="middle" fill="#111" transform="rotate(-90 491.50 76.50)">tSNE_2</text>
<text x="554.30" y="144.94" font-size="5.4" text-anchor="middle" fill="#111">tSNE_1</text>
<text x="551.60" y="17.60" font-size="8.4" text-anchor="middle" fill="#000" transform="translate(551.60 0) scale(0.965 1) translate(-551.60 0)">Cortical organoids</text>
<text x="551.60" y="25.90" font-size="8.4" text-anchor="middle" fill="#000" transform="translate(551.60 0) scale(0.965 1) translate(-551.60 0)">(Kadoshima, et al. (n=5))</text>
<rect x="605.30" y="53.50" width="7.60" height="4.00" fill="#4A90F0"/>
<text x="616.30" y="57.50" font-size="6.1" text-anchor="start" fill="#000">Div RG</text>
<rect x="605.30" y="60.45" width="7.60" height="4.00" fill="#99C2F2"/>
<text x="616.30" y="64.45" font-size="6.1" text-anchor="start" fill="#000">RG</text>
<rect x="605.30" y="67.40" width="7.60" height="4.00" fill="#12C012"/>
<text x="616.30" y="71.40" font-size="6.1" text-anchor="start" fill="#000">IPC</text>
<rect x="605.30" y="74.35" width="7.60" height="4.00" fill="#0A7A0A"/>
<text x="616.30" y="78.35" font-size="6.1" text-anchor="start" fill="#000">Ex Neu</text>
<rect x="605.30" y="81.30" width="7.60" height="4.00" fill="#044A04"/>
<text x="616.30" y="85.30" font-size="6.1" text-anchor="start" fill="#000">In Neu</text>
<rect x="605.30" y="88.25" width="7.60" height="4.00" fill="#FFFF00"/>
<text x="616.30" y="92.25" font-size="6.1" text-anchor="start" fill="#000">Astrocyte</text>
<rect x="605.30" y="95.20" width="7.60" height="4.00" fill="#FFA8A8"/>
<text x="616.30" y="99.20" font-size="6.1" text-anchor="start" fill="#000">OPC</text>
<rect x="605.30" y="102.15" width="7.60" height="4.00" fill="#A000E8"/>
<text x="616.30" y="106.15" font-size="6.1" text-anchor="start" fill="#000">Microglia</text>
<text x="-1.30" y="167.90" font-size="12.5" text-anchor="start" font-weight="bold" fill="#000">b</text>
<text x="82.00" y="169.90" font-size="6.7" text-anchor="middle" font-weight="bold" fill="#000">Cortical assembloids</text>
<text x="83.00" y="174.91" font-size="5.3" text-anchor="middle" fill="#222">MI score = 0.06</text>
<line x1="20.00" y1="176.70" x2="142.60" y2="176.70" stroke="#555" stroke-width="0.7"/>
<line x1="22.00" y1="178.70" x2="22.00" y2="233.10" stroke="#000" stroke-width="0.8"/>
<line x1="22.00" y1="233.10" x2="146.50" y2="233.10" stroke="#000" stroke-width="0.8"/>
<line x1="20.00" y1="233.10" x2="22.00" y2="233.10" stroke="#000" stroke-width="0.6"/>
<text x="18.80" y="235.01" font-size="5.3" text-anchor="end" fill="#222">0</text>
<line x1="20.00" y1="219.50" x2="22.00" y2="219.50" stroke="#000" stroke-width="0.6"/>
<text x="18.80" y="221.41" font-size="5.3" text-anchor="end" fill="#222">25</text>
<line x1="20.00" y1="205.90" x2="22.00" y2="205.90" stroke="#000" stroke-width="0.6"/>
<text x="18.80" y="207.81" font-size="5.3" text-anchor="end" fill="#222">50</text>
<line x1="20.00" y1="192.30" x2="22.00" y2="192.30" stroke="#000" stroke-width="0.6"/>
<text x="18.80" y="194.21" font-size="5.3" text-anchor="end" fill="#222">75</text>
<line x1="20.00" y1="178.70" x2="22.00" y2="178.70" stroke="#000" stroke-width="0.6"/>
<text x="18.80" y="180.61" font-size="5.3" text-anchor="end" fill="#222">100</text>
<text x="5.60" y="207.81" font-size="5.3" text-anchor="middle" fill="#222" transform="rotate(-90 5.60 205.90)">Proportion (%)</text>
<rect x="23.35" y="178.70" width="6.50" height="2.59" fill="#A000E0"/>
<rect x="23.35" y="181.24" width="6.50" height="6.18" fill="#FFFF00"/>
<rect x="23.35" y="187.37" width="6.50" height="22.53" fill="#007800"/>
<rect x="23.35" y="209.85" width="6.50" height="5.16" fill="#12C412"/>
<rect x="23.35" y="214.96" width="6.50" height="14.76" fill="#C8DDF6"/>
<rect x="23.35" y="229.68" width="6.50" height="3.47" fill="#8DBAF0"/>
<line x1="26.60" y1="233.10" x2="26.60" y2="234.80" stroke="#000" stroke-width="0.6"/>
<text x="26.60" y="239.71" font-size="5.3" text-anchor="middle" fill="#222">1</text>
<rect x="32.77" y="178.70" width="6.50" height="1.98" fill="#A000E0"/>
<rect x="32.77" y="180.63" width="6.50" height="4.14" fill="#FFFF00"/>
<rect x="32.77" y="184.71" width="6.50" height="38.06" fill="#007800"/>
<rect x="32.77" y="222.73" width="6.50" height="9.86" fill="#C8DDF6"/>
<rect x="32.77" y="232.54" width="6.50" height="0.61" fill="#8DBAF0"/>
<line x1="36.02" y1="233.10" x2="36.02" y2="234.80" stroke="#000" stroke-width="0.6"/>
<text x="36.02" y="239.71" font-size="5.3" text-anchor="middle" fill="#222">2</text>
<rect x="42.19" y="178.70" width="6.50" height="1.57" fill="#A000E0"/>
<rect x="42.19" y="180.22" width="6.50" height="5.77" fill="#FFFF00"/>
<rect x="42.19" y="185.94" width="6.50" height="24.98" fill="#007800"/>
<rect x="42.19" y="210.87" width="6.50" height="6.79" fill="#12C412"/>
<rect x="42.19" y="217.62" width="6.50" height="10.68" fill="#C8DDF6"/>
<rect x="42.19" y="228.25" width="6.50" height="4.90" fill="#8DBAF0"/>
<line x1="45.44" y1="233.10" x2="45.44" y2="234.80" stroke="#000" stroke-width="0.6"/>
<text x="45.44" y="239.71" font-size="5.3" text-anchor="middle" fill="#222">3</text>
<rect x="51.61" y="178.70" width="6.50" height="1.98" fill="#A000E0"/>
<rect x="51.61" y="180.63" width="6.50" height="3.73" fill="#FFFF00"/>
<rect x="51.61" y="184.31" width="6.50" height="33.77" fill="#007800"/>
<rect x="51.61" y="218.03" width="6.50" height="3.12" fill="#12C412"/>
<rect x="51.61" y="221.09" width="6.50" height="10.27" fill="#C8DDF6"/>
<rect x="51.61" y="231.31" width="6.50" height="1.84" fill="#8DBAF0"/>
<line x1="54.86" y1="233.10" x2="54.86" y2="234.80" stroke="#000" stroke-width="0.6"/>
<text x="54.86" y="239.71" font-size="5.3" text-anchor="middle" fill="#222">4</text>
<rect x="61.03" y="178.70" width="6.50" height="4.02" fill="#A000E0"/>
<rect x="61.03" y="182.67" width="6.50" height="7.82" fill="#FFFF00"/>
<rect x="61.03" y="190.44" width="6.50" height="24.57" fill="#007800"/>
<rect x="61.03" y="214.96" width="6.50" height="4.14" fill="#12C412"/>
<rect x="61.03" y="219.05" width="6.50" height="11.90" fill="#C8DDF6"/>
<rect x="61.03" y="230.90" width="6.50" height="2.25" fill="#8DBAF0"/>
<line x1="64.28" y1="233.10" x2="64.28" y2="234.80" stroke="#000" stroke-width="0.6"/>
<text x="64.28" y="239.71" font-size="5.3" text-anchor="middle" fill="#222">5</text>
<rect x="70.45" y="178.70" width="6.50" height="1.16" fill="#A000E0"/>
<rect x="70.45" y="179.81" width="6.50" height="5.57" fill="#FFFF00"/>
<rect x="70.45" y="185.33" width="6.50" height="2.09" fill="#004D00"/>
<rect x="70.45" y="187.37" width="6.50" height="26.21" fill="#007800"/>
<rect x="70.45" y="213.53" width="6.50" height="2.50" fill="#12C412"/>
<rect x="70.45" y="215.98" width="6.50" height="14.97" fill="#C8DDF6"/>
<rect x="70.45" y="230.90" width="6.50" height="2.25" fill="#8DBAF0"/>
<line x1="73.70" y1="233.10" x2="73.70" y2="234.80" stroke="#000" stroke-width="0.6"/>
<text x="73.70" y="239.71" font-size="5.3" text-anchor="middle" fill="#222">1</text>
<rect x="79.87" y="178.70" width="6.50" height="1.57" fill="#A000E0"/>
<rect x="79.87" y="180.22" width="6.50" height="3.73" fill="#FFFF00"/>
<rect x="79.87" y="183.90" width="6.50" height="22.53" fill="#007800"/>
<rect x="79.87" y="206.38" width="6.50" height="4.55" fill="#12C412"/>
<rect x="79.87" y="210.87" width="6.50" height="19.47" fill="#C8DDF6"/>
<rect x="79.87" y="230.29" width="6.50" height="2.86" fill="#8DBAF0"/>
<line x1="83.12" y1="233.10" x2="83.12" y2="234.80" stroke="#000" stroke-width="0.6"/>
<text x="83.12" y="239.71" font-size="5.3" text-anchor="middle" fill="#222">2</text>
<rect x="89.29" y="178.70" width="6.50" height="1.57" fill="#A000E0"/>
<rect x="89.29" y="180.22" width="6.50" height="3.73" fill="#FFFF00"/>
<rect x="89.29" y="183.90" width="6.50" height="4.55" fill="#004D00"/>
<rect x="89.29" y="188.39" width="6.50" height="24.17" fill="#007800"/>
<rect x="89.29" y="212.51" width="6.50" height="20.08" fill="#C8DDF6"/>
<rect x="89.29" y="232.54" width="6.50" height="0.61" fill="#8DBAF0"/>
<line x1="92.54" y1="233.10" x2="92.54" y2="234.80" stroke="#000" stroke-width="0.6"/>
<text x="92.54" y="239.71" font-size="5.3" text-anchor="middle" fill="#222">3</text>
<rect x="98.71" y="178.70" width="6.50" height="0.96" fill="#A000E0"/>
<rect x="98.71" y="179.61" width="6.50" height="8.43" fill="#FFFF00"/>
<rect x="98.71" y="187.98" width="6.50" height="23.96" fill="#007800"/>
<rect x="98.71" y="211.90" width="6.50" height="20.69" fill="#C8DDF6"/>
<rect x="98.71" y="232.54" width="6.50" height="0.61" fill="#8DBAF0"/>
<line x1="101.96" y1="233.10" x2="101.96" y2="234.80" stroke="#000" stroke-width="0.6"/>
<text x="101.96" y="239.71" font-size="5.3" text-anchor="middle" fill="#222">4</text>
<rect x="108.13" y="178.70" width="6.50" height="1.98" fill="#A000E0"/>
<rect x="108.13" y="180.63" width="6.50" height="6.18" fill="#FFFF00"/>
<rect x="108.13" y="186.76" width="6.50" height="1.28" fill="#004D00"/>
<rect x="108.13" y="187.98" width="6.50" height="22.94" fill="#007800"/>
<rect x="108.13" y="210.87" width="6.50" height="21.71" fill="#C8DDF6"/>
<rect x="108.13" y="232.54" width="6.50" height="0.61" fill="#8DBAF0"/>
<line x1="111.38" y1="233.10" x2="111.38" y2="234.80" stroke="#000" stroke-width="0.6"/>
<text x="111.38" y="239.71" font-size="5.3" text-anchor="middle" fill="#222">5</text>
<rect x="117.55" y="178.70" width="6.50" height="1.57" fill="#A000E0"/>
<rect x="117.55" y="180.22" width="6.50" height="16.40" fill="#FFFF00"/>
<rect x="117.55" y="196.57" width="6.50" height="23.14" fill="#007800"/>
<rect x="117.55" y="219.66" width="6.50" height="12.93" fill="#C8DDF6"/>
<rect x="117.55" y="232.54" width="6.50" height="0.61" fill="#8DBAF0"/>
<line x1="120.80" y1="233.10" x2="120.80" y2="234.80" stroke="#000" stroke-width="0.6"/>
<rect x="126.97" y="178.70" width="6.50" height="2.18" fill="#A000E0"/>
<rect x="126.97" y="180.83" width="6.50" height="14.15" fill="#FFFF00"/>
<rect x="126.97" y="194.93" width="6.50" height="23.14" fill="#007800"/>
<rect x="126.97" y="218.03" width="6.50" height="2.71" fill="#12C412"/>
<rect x="126.97" y="220.68" width="6.50" height="10.27" fill="#C8DDF6"/>
<rect x="126.97" y="230.90" width="6.50" height="2.25" fill="#8DBAF0"/>
<line x1="130.22" y1="233.10" x2="130.22" y2="234.80" stroke="#000" stroke-width="0.6"/>
<rect x="136.39" y="178.70" width="6.50" height="4.63" fill="#A000E0"/>
<rect x="136.39" y="183.28" width="6.50" height="6.59" fill="#FFFF00"/>
<rect x="136.39" y="189.82" width="6.50" height="25.60" fill="#007800"/>
<rect x="136.39" y="215.37" width="6.50" height="1.68" fill="#12C412"/>
<rect x="136.39" y="217.01" width="6.50" height="15.58" fill="#C8DDF6"/>
<rect x="136.39" y="232.54" width="6.50" height="0.61" fill="#8DBAF0"/>
<line x1="139.64" y1="233.10" x2="139.64" y2="234.80" stroke="#000" stroke-width="0.6"/>
<line x1="23.60" y1="242.30" x2="66.00" y2="242.30" stroke="#000" stroke-width="0.7"/>
<line x1="70.00" y1="242.30" x2="113.00" y2="242.30" stroke="#000" stroke-width="0.7"/>
<text x="44.60" y="248.31" font-size="5.3" text-anchor="middle" fill="#222">Batch 1</text>
<text x="92.70" y="248.31" font-size="5.3" text-anchor="middle" fill="#222">Batch 2</text>
<text x="69.00" y="251.41" font-size="5.3" text-anchor="middle" fill="#222">hESC</text>
<text x="123.20" y="239.51" font-size="5.3" text-anchor="end" fill="#222" transform="rotate(-45 123.20 237.60)">hiPSC #1</text>
<text x="132.62" y="239.51" font-size="5.3" text-anchor="end" fill="#222" transform="rotate(-45 132.62 237.60)">hiPSC #2</text>
<text x="142.04" y="239.51" font-size="5.3" text-anchor="end" fill="#222" transform="rotate(-45 142.04 237.60)">hiPSC #3</text>
<rect x="149.90" y="184.80" width="5.10" height="3.00" fill="#8DBAF0"/>
<text x="156.90" y="188.21" font-size="5.3" text-anchor="start" fill="#222">Div RG</text>
<rect x="149.90" y="191.27" width="5.10" height="3.00" fill="#C8DDF6"/>
<text x="156.90" y="194.68" font-size="5.3" text-anchor="start" fill="#222">RG</text>
<rect x="149.90" y="197.74" width="5.10" height="3.00" fill="#12C412"/>
<text x="156.90" y="201.15" font-size="5.3" text-anchor="start" fill="#222">IPC</text>
<rect x="149.90" y="204.21" width="5.10" height="3.00" fill="#007800"/>
<text x="156.90" y="207.62" font-size="5.3" text-anchor="start" fill="#222">Ex Neu</text>
<rect x="149.90" y="210.68" width="5.10" height="3.00" fill="#004D00"/>
<text x="156.90" y="214.09" font-size="5.3" text-anchor="start" fill="#222">In Neu</text>
<rect x="149.90" y="217.15" width="5.10" height="3.00" fill="#FFFF00"/>
<text x="156.90" y="220.56" font-size="5.3" text-anchor="start" fill="#222">Astrocyte</text>
<rect x="149.90" y="223.62" width="5.10" height="3.00" fill="#A000E0"/>
<text x="156.90" y="227.03" font-size="5.3" text-anchor="start" fill="#222">Microglia</text>
<text x="82.10" y="266.70" font-size="6.7" text-anchor="middle" font-weight="bold" fill="#000">Cortical organoids</text>
<line x1="22.00" y1="272.80" x2="22.00" y2="326.70" stroke="#000" stroke-width="0.8"/>
<line x1="22.00" y1="326.70" x2="145.60" y2="326.70" stroke="#000" stroke-width="0.8"/>
<line x1="20.00" y1="326.70" x2="22.00" y2="326.70" stroke="#000" stroke-width="0.6"/>
<text x="18.80" y="328.61" font-size="5.3" text-anchor="end" fill="#222">0</text>
<line x1="20.00" y1="313.23" x2="22.00" y2="313.23" stroke="#000" stroke-width="0.6"/>
<text x="18.80" y="315.13" font-size="5.3" text-anchor="end" fill="#222">25</text>
<line x1="20.00" y1="299.75" x2="22.00" y2="299.75" stroke="#000" stroke-width="0.6"/>
<text x="18.80" y="301.66" font-size="5.3" text-anchor="end" fill="#222">50</text>
<line x1="20.00" y1="286.27" x2="22.00" y2="286.27" stroke="#000" stroke-width="0.6"/>
<text x="18.80" y="288.18" font-size="5.3" text-anchor="end" fill="#222">75</text>
<line x1="20.00" y1="272.80" x2="22.00" y2="272.80" stroke="#000" stroke-width="0.6"/>
<text x="18.80" y="274.71" font-size="5.3" text-anchor="end" fill="#222">100</text>
<text x="5.60" y="301.66" font-size="5.3" text-anchor="middle" fill="#222" transform="rotate(-90 5.60 299.75)">Proportion (%)</text>
<rect x="24.00" y="272.80" width="7.40" height="2.91" fill="#FFFF00"/>
<rect x="24.00" y="275.66" width="7.40" height="22.32" fill="#007800"/>
<rect x="24.00" y="297.93" width="7.40" height="2.19" fill="#66DD00"/>
<rect x="24.00" y="300.06" width="7.40" height="25.88" fill="#C8DDF6"/>
<rect x="24.00" y="325.89" width="7.40" height="0.86" fill="#8DBAF0"/>
<line x1="27.70" y1="326.70" x2="27.70" y2="328.40" stroke="#000" stroke-width="0.6"/>
<rect x="34.95" y="272.80" width="7.40" height="0.59" fill="#FFA8B0"/>
<rect x="34.95" y="273.34" width="7.40" height="0.58" fill="#FFFF00"/>
<rect x="34.95" y="273.88" width="7.40" height="28.02" fill="#007800"/>
<rect x="34.95" y="301.84" width="7.40" height="5.75" fill="#66DD00"/>
<rect x="34.95" y="307.54" width="7.40" height="15.37" fill="#C8DDF6"/>
<rect x="34.95" y="322.86" width="7.40" height="3.89" fill="#8DBAF0"/>
<line x1="38.65" y1="326.70" x2="38.65" y2="328.40" stroke="#000" stroke-width="0.6"/>
<rect x="45.90" y="272.80" width="7.40" height="0.95" fill="#FFA8B0"/>
<rect x="45.90" y="273.70" width="7.40" height="3.26" fill="#FFFF00"/>
<rect x="45.90" y="276.91" width="7.40" height="33.00" fill="#007800"/>
<rect x="45.90" y="309.86" width="7.40" height="5.39" fill="#66DD00"/>
<rect x="45.90" y="315.20" width="7.40" height="9.85" fill="#C8DDF6"/>
<rect x="45.90" y="325.00" width="7.40" height="1.75" fill="#8DBAF0"/>
<line x1="49.60" y1="326.70" x2="49.60" y2="328.40" stroke="#000" stroke-width="0.6"/>
<rect x="56.85" y="272.80" width="7.40" height="0.95" fill="#FFA8B0"/>
<rect x="56.85" y="273.70" width="7.40" height="3.61" fill="#FFFF00"/>
<rect x="56.85" y="277.26" width="7.40" height="31.76" fill="#007800"/>
<rect x="56.85" y="308.97" width="7.40" height="5.75" fill="#66DD00"/>
<rect x="56.85" y="314.67" width="7.40" height="8.96" fill="#C8DDF6"/>
<rect x="56.85" y="323.58" width="7.40" height="3.17" fill="#8DBAF0"/>
<line x1="60.55" y1="326.70" x2="60.55" y2="328.40" stroke="#000" stroke-width="0.6"/>
<rect x="67.80" y="272.80" width="7.40" height="3.27" fill="#FFFF00"/>
<rect x="67.80" y="276.02" width="7.40" height="26.77" fill="#007800"/>
<rect x="67.80" y="302.73" width="7.40" height="20.53" fill="#C8DDF6"/>
<rect x="67.80" y="323.22" width="7.40" height="3.53" fill="#8DBAF0"/>
<line x1="71.50" y1="326.70" x2="71.50" y2="328.40" stroke="#000" stroke-width="0.6"/>
<rect x="78.75" y="272.80" width="7.40" height="15.20" fill="#FFFF00"/>
<rect x="78.75" y="287.95" width="7.40" height="3.61" fill="#004D00"/>
<rect x="78.75" y="291.51" width="7.40" height="25.52" fill="#007800"/>
<rect x="78.75" y="316.98" width="7.40" height="8.96" fill="#C8DDF6"/>
<rect x="78.75" y="325.89" width="7.40" height="0.86" fill="#8DBAF0"/>
<line x1="82.45" y1="326.70" x2="82.45" y2="328.40" stroke="#000" stroke-width="0.6"/>
<rect x="89.70" y="272.80" width="7.40" height="3.27" fill="#004D00"/>
<rect x="89.70" y="276.02" width="7.40" height="38.00" fill="#007800"/>
<rect x="89.70" y="313.96" width="7.40" height="10.74" fill="#C8DDF6"/>
<rect x="89.70" y="324.65" width="7.40" height="2.10" fill="#8DBAF0"/>
<line x1="93.40" y1="326.70" x2="93.40" y2="328.40" stroke="#000" stroke-width="0.6"/>
<rect x="100.65" y="272.80" width="7.40" height="1.84" fill="#FFFF00"/>
<rect x="100.65" y="274.59" width="7.40" height="14.48" fill="#007800"/>
<rect x="100.65" y="289.02" width="7.40" height="25.70" fill="#C8DDF6"/>
<rect x="100.65" y="314.68" width="7.40" height="12.07" fill="#8DBAF0"/>
<line x1="104.35" y1="326.70" x2="104.35" y2="328.40" stroke="#000" stroke-width="0.6"/>
<rect x="111.60" y="272.80" width="7.40" height="4.16" fill="#FFFF00"/>
<rect x="111.60" y="276.91" width="7.40" height="11.10" fill="#004D00"/>
<rect x="111.60" y="287.95" width="7.40" height="26.06" fill="#007800"/>
<rect x="111.60" y="313.96" width="7.40" height="9.67" fill="#C8DDF6"/>
<rect x="111.60" y="323.59" width="7.40" height="3.16" fill="#8DBAF0"/>
<line x1="115.30" y1="326.70" x2="115.30" y2="328.40" stroke="#000" stroke-width="0.6"/>
<rect x="122.55" y="272.80" width="7.40" height="0.59" fill="#004D00"/>
<rect x="122.55" y="273.34" width="7.40" height="15.73" fill="#007800"/>
<rect x="122.55" y="289.02" width="7.40" height="25.70" fill="#C8DDF6"/>
<rect x="122.55" y="314.68" width="7.40" height="12.07" fill="#8DBAF0"/>
<line x1="126.25" y1="326.70" x2="126.25" y2="328.40" stroke="#000" stroke-width="0.6"/>
<rect x="133.50" y="272.80" width="7.40" height="1.84" fill="#FFFF00"/>
<rect x="133.50" y="274.59" width="7.40" height="31.23" fill="#007800"/>
<rect x="133.50" y="305.77" width="7.40" height="17.87" fill="#C8DDF6"/>
<rect x="133.50" y="323.59" width="7.40" height="3.16" fill="#8DBAF0"/>
<line x1="137.20" y1="326.70" x2="137.20" y2="328.40" stroke="#000" stroke-width="0.6"/>
<text x="38.65" y="333.11" font-size="5.3" text-anchor="middle" fill="#222">1</text>
<text x="49.60" y="333.11" font-size="5.3" text-anchor="middle" fill="#222">2</text>
<text x="60.55" y="333.11" font-size="5.3" text-anchor="middle" fill="#222">3</text>
<text x="71.50" y="333.11" font-size="5.3" text-anchor="middle" fill="#222">1</text>
<text x="82.45" y="333.11" font-size="5.3" text-anchor="middle" fill="#222">2</text>
<text x="93.40" y="333.11" font-size="5.3" text-anchor="middle" fill="#222">1</text>
<text x="104.35" y="333.11" font-size="5.3" text-anchor="middle" fill="#222">2</text>
<text x="115.30" y="333.11" font-size="5.3" text-anchor="middle" fill="#222">3</text>
<text x="126.25" y="333.11" font-size="5.3" text-anchor="middle" fill="#222">4</text>
<text x="137.20" y="333.11" font-size="5.3" text-anchor="middle" fill="#222">5</text>
<text x="27.60" y="334.71" font-size="5.3" text-anchor="middle" fill="#222">Qian,</text>
<text x="27.60" y="340.41" font-size="5.3" text-anchor="middle" fill="#222">et al.</text>
<line x1="37.40" y1="336.40" x2="63.00" y2="336.40" stroke="#000" stroke-width="0.7"/>
<line x1="70.00" y1="336.40" x2="84.60" y2="336.40" stroke="#000" stroke-width="0.7"/>
<line x1="92.30" y1="336.40" x2="140.20" y2="336.40" stroke="#000" stroke-width="0.7"/>
<text x="50.20" y="341.81" font-size="5.3" text-anchor="middle" fill="#222">Yoon,</text>
<text x="50.20" y="347.21" font-size="5.3" text-anchor="middle" fill="#222">et al.</text>
<text x="77.10" y="341.81" font-size="5.3" text-anchor="middle" fill="#222">Xiang,</text>
<text x="77.10" y="347.21" font-size="5.3" text-anchor="middle" fill="#222">et al.</text>
<text x="116.80" y="341.81" font-size="5.3" text-anchor="middle" fill="#222">Kadoshima,</text>
<text x="116.80" y="347.21" font-size="5.3" text-anchor="middle" fill="#222">et al.</text>
<rect x="150.60" y="275.80" width="4.80" height="3.00" fill="#8DBAF0"/>
<text x="156.60" y="279.21" font-size="5.3" text-anchor="start" fill="#222">Div RG</text>
<rect x="150.60" y="282.35" width="4.80" height="3.00" fill="#C8DDF6"/>
<text x="156.60" y="285.76" font-size="5.3" text-anchor="start" fill="#222">RG</text>
<rect x="150.60" y="288.90" width="4.80" height="3.00" fill="#12C412"/>
<text x="156.60" y="292.31" font-size="5.3" text-anchor="start" fill="#222">IPC</text>
<rect x="150.60" y="295.45" width="4.80" height="3.00" fill="#007800"/>
<text x="156.60" y="298.86" font-size="5.3" text-anchor="start" fill="#222">Ex Neu</text>
<rect x="150.60" y="302.00" width="4.80" height="3.00" fill="#004D00"/>
<text x="156.60" y="305.41" font-size="5.3" text-anchor="start" fill="#222">In Neu</text>
<rect x="150.60" y="308.55" width="4.80" height="3.00" fill="#FFFF00"/>
<text x="156.60" y="311.96" font-size="5.3" text-anchor="start" fill="#222">Astrocyte</text>
<rect x="150.60" y="315.10" width="4.80" height="3.00" fill="#FFA8B0"/>
<text x="156.60" y="318.51" font-size="5.3" text-anchor="start" fill="#222">OPC</text>
<text x="185.30" y="168.00" font-size="12" text-anchor="start" font-weight="bold" fill="#000">c</text>
<text x="299.70" y="170.40" font-size="7.45" text-anchor="middle" fill="#000">Cortical assembloids</text>
<text x="216.40" y="175.84" font-size="5.4" text-anchor="end" fill="#111">Ex Neu</text>
<text x="216.40" y="180.84" font-size="5.4" text-anchor="end" fill="#111">In Neu</text>
<text x="216.40" y="185.84" font-size="5.4" text-anchor="end" fill="#111">IPC</text>
<text x="216.40" y="190.74" font-size="5.4" text-anchor="end" fill="#111">RG</text>
<text x="216.40" y="195.64" font-size="5.4" text-anchor="end" fill="#111">Div RG</text>
<text x="216.40" y="200.64" font-size="5.4" text-anchor="end" fill="#111">Astrocyte</text>
<text x="216.40" y="205.54" font-size="5.4" text-anchor="end" fill="#111">Microglia</text>
<rect x="217.80" y="207.70" width="35.06" height="3.20" fill="#6CC06C"/>
<rect x="252.86" y="207.70" width="17.12" height="3.20" fill="#5E9E66"/>
<rect x="269.98" y="207.70" width="8.56" height="3.20" fill="#DDF5B5"/>
<rect x="278.54" y="207.70" width="34.24" height="3.20" fill="#AEE0F8"/>
<rect x="312.78" y="207.70" width="17.12" height="3.20" fill="#8CA0D8"/>
<rect x="329.90" y="207.70" width="34.24" height="3.20" fill="#F8F080"/>
<rect x="364.14" y="207.70" width="8.56" height="3.20" fill="#F5B8C0"/>
<rect x="372.70" y="207.70" width="9.30" height="3.20" fill="#C88CF0"/>
<circle cx="257.14" cy="174.70" r="0.45" fill="#e4e4e4"/>
<circle cx="265.70" cy="174.70" r="0.45" fill="#e4e4e4"/>
<circle cx="274.26" cy="174.70" r="0.45" fill="#e4e4e4"/>
<circle cx="282.82" cy="174.70" r="0.45" fill="#e4e4e4"/>
<circle cx="291.38" cy="174.70" r="0.45" fill="#e4e4e4"/>
<circle cx="299.94" cy="174.70" r="0.45" fill="#e4e4e4"/>
<circle cx="317.06" cy="174.70" r="0.45" fill="#e4e4e4"/>
<circle cx="325.62" cy="174.70" r="0.45" fill="#e4e4e4"/>
<circle cx="334.18" cy="174.70" r="0.45" fill="#e4e4e4"/>
<circle cx="342.74" cy="174.70" r="0.45" fill="#e4e4e4"/>
<circle cx="351.30" cy="174.70" r="0.45" fill="#e4e4e4"/>
<circle cx="359.86" cy="174.70" r="0.45" fill="#e4e4e4"/>
<circle cx="368.42" cy="174.70" r="0.45" fill="#e4e4e4"/>
<circle cx="376.98" cy="174.70" r="0.45" fill="#e4e4e4"/>
<circle cx="231.46" cy="179.70" r="0.45" fill="#e4e4e4"/>
<circle cx="240.02" cy="179.70" r="0.45" fill="#e4e4e4"/>
<circle cx="274.26" cy="179.70" r="0.45" fill="#e4e4e4"/>
<circle cx="282.82" cy="179.70" r="0.45" fill="#e4e4e4"/>
<circle cx="291.38" cy="179.70" r="0.45" fill="#e4e4e4"/>
<circle cx="299.94" cy="179.70" r="0.45" fill="#e4e4e4"/>
<circle cx="317.06" cy="179.70" r="0.45" fill="#e4e4e4"/>
<circle cx="325.62" cy="179.70" r="0.45" fill="#e4e4e4"/>
<circle cx="334.18" cy="179.70" r="0.45" fill="#e4e4e4"/>
<circle cx="342.74" cy="179.70" r="0.45" fill="#e4e4e4"/>
<circle cx="351.30" cy="179.70" r="0.45" fill="#e4e4e4"/>
<circle cx="359.86" cy="179.70" r="0.45" fill="#e4e4e4"/>
<circle cx="368.42" cy="179.70" r="0.45" fill="#e4e4e4"/>
<circle cx="376.98" cy="179.70" r="0.45" fill="#e4e4e4"/>
<circle cx="231.46" cy="184.70" r="0.45" fill="#e4e4e4"/>
<circle cx="257.14" cy="184.70" r="0.45" fill="#e4e4e4"/>
<circle cx="265.70" cy="184.70" r="0.45" fill="#e4e4e4"/>
<circle cx="282.82" cy="184.70" r="0.45" fill="#e4e4e4"/>
<circle cx="291.38" cy="184.70" r="0.45" fill="#e4e4e4"/>
<circle cx="299.94" cy="184.70" r="0.45" fill="#e4e4e4"/>
<circle cx="317.06" cy="184.70" r="0.45" fill="#e4e4e4"/>
<circle cx="325.62" cy="184.70" r="0.45" fill="#e4e4e4"/>
<circle cx="334.18" cy="184.70" r="0.45" fill="#e4e4e4"/>
<circle cx="342.74" cy="184.70" r="0.45" fill="#e4e4e4"/>
<circle cx="351.30" cy="184.70" r="0.45" fill="#e4e4e4"/>
<circle cx="359.86" cy="184.70" r="0.45" fill="#e4e4e4"/>
<circle cx="368.42" cy="184.70" r="0.45" fill="#e4e4e4"/>
<circle cx="376.98" cy="184.70" r="0.45" fill="#e4e4e4"/>
<circle cx="222.90" cy="189.60" r="0.45" fill="#e4e4e4"/>
<circle cx="231.46" cy="189.60" r="0.45" fill="#e4e4e4"/>
<circle cx="240.02" cy="189.60" r="0.45" fill="#e4e4e4"/>
<circle cx="248.58" cy="189.60" r="0.45" fill="#e4e4e4"/>
<circle cx="257.14" cy="189.60" r="0.45" fill="#e4e4e4"/>
<circle cx="265.70" cy="189.60" r="0.45" fill="#e4e4e4"/>
<circle cx="274.26" cy="189.60" r="0.45" fill="#e4e4e4"/>
<circle cx="282.82" cy="189.60" r="0.45" fill="#e4e4e4"/>
<circle cx="317.06" cy="189.60" r="0.45" fill="#e4e4e4"/>
<circle cx="325.62" cy="189.60" r="0.45" fill="#e4e4e4"/>
<circle cx="342.74" cy="189.60" r="0.45" fill="#e4e4e4"/>
<circle cx="351.30" cy="189.60" r="0.45" fill="#e4e4e4"/>
<circle cx="368.42" cy="189.60" r="0.45" fill="#e4e4e4"/>
<circle cx="376.98" cy="189.60" r="0.45" fill="#e4e4e4"/>
<circle cx="222.90" cy="194.50" r="0.45" fill="#e4e4e4"/>
<circle cx="231.46" cy="194.50" r="0.45" fill="#e4e4e4"/>
<circle cx="240.02" cy="194.50" r="0.45" fill="#e4e4e4"/>
<circle cx="257.14" cy="194.50" r="0.45" fill="#e4e4e4"/>
<circle cx="265.70" cy="194.50" r="0.45" fill="#e4e4e4"/>
<circle cx="274.26" cy="194.50" r="0.45" fill="#e4e4e4"/>
<circle cx="291.38" cy="194.50" r="0.45" fill="#e4e4e4"/>
<circle cx="351.30" cy="194.50" r="0.45" fill="#e4e4e4"/>
<circle cx="359.86" cy="194.50" r="0.45" fill="#e4e4e4"/>
<circle cx="368.42" cy="194.50" r="0.45" fill="#e4e4e4"/>
<circle cx="376.98" cy="194.50" r="0.45" fill="#e4e4e4"/>
<circle cx="222.90" cy="199.50" r="0.45" fill="#e4e4e4"/>
<circle cx="231.46" cy="199.50" r="0.45" fill="#e4e4e4"/>
<circle cx="240.02" cy="199.50" r="0.45" fill="#e4e4e4"/>
<circle cx="257.14" cy="199.50" r="0.45" fill="#e4e4e4"/>
<circle cx="265.70" cy="199.50" r="0.45" fill="#e4e4e4"/>
<circle cx="274.26" cy="199.50" r="0.45" fill="#e4e4e4"/>
<circle cx="282.82" cy="199.50" r="0.45" fill="#e4e4e4"/>
<circle cx="291.38" cy="199.50" r="0.45" fill="#e4e4e4"/>
<circle cx="317.06" cy="199.50" r="0.45" fill="#e4e4e4"/>
<circle cx="325.62" cy="199.50" r="0.45" fill="#e4e4e4"/>
<circle cx="368.42" cy="199.50" r="0.45" fill="#e4e4e4"/>
<circle cx="376.98" cy="199.50" r="0.45" fill="#e4e4e4"/>
<circle cx="222.90" cy="204.40" r="0.45" fill="#e4e4e4"/>
<circle cx="231.46" cy="204.40" r="0.45" fill="#e4e4e4"/>
<circle cx="240.02" cy="204.40" r="0.45" fill="#e4e4e4"/>
<circle cx="248.58" cy="204.40" r="0.45" fill="#e4e4e4"/>
<circle cx="257.14" cy="204.40" r="0.45" fill="#e4e4e4"/>
<circle cx="265.70" cy="204.40" r="0.45" fill="#e4e4e4"/>
<circle cx="274.26" cy="204.40" r="0.45" fill="#e4e4e4"/>
<circle cx="317.06" cy="204.40" r="0.45" fill="#e4e4e4"/>
<circle cx="325.62" cy="204.40" r="0.45" fill="#e4e4e4"/>
<circle cx="334.18" cy="204.40" r="0.45" fill="#e4e4e4"/>
<circle cx="342.74" cy="204.40" r="0.45" fill="#e4e4e4"/>
<circle cx="351.30" cy="204.40" r="0.45" fill="#e4e4e4"/>
<circle cx="359.86" cy="204.40" r="0.45" fill="#e4e4e4"/>
<circle cx="368.42" cy="204.40" r="0.45" fill="#e4e4e4"/>
<circle cx="222.90" cy="174.70" r="2.09" fill="#555"/>
<circle cx="231.46" cy="174.70" r="0.88" fill="#111"/>
<circle cx="240.02" cy="174.70" r="1.10" fill="#222"/>
<circle cx="248.58" cy="174.70" r="1.98" fill="#aaa"/>
<circle cx="308.50" cy="174.70" r="1.65" fill="#e0e0e0"/>
<circle cx="222.90" cy="179.70" r="2.09" fill="#444"/>
<circle cx="248.58" cy="179.70" r="2.09" fill="#666"/>
<circle cx="257.14" cy="179.70" r="0.66" fill="#888"/>
<circle cx="265.70" cy="179.70" r="0.88" fill="#111"/>
<circle cx="308.50" cy="179.70" r="1.65" fill="#e0e0e0"/>
<circle cx="222.90" cy="184.70" r="0.99" fill="#e0e0e0"/>
<circle cx="240.02" cy="184.70" r="1.43" fill="#555"/>
<circle cx="248.58" cy="184.70" r="2.09" fill="#777"/>
<circle cx="274.26" cy="184.70" r="2.20" fill="#000"/>
<circle cx="308.50" cy="184.70" r="1.76" fill="#d8d8d8"/>
<circle cx="291.38" cy="189.60" r="1.43" fill="#000"/>
<circle cx="299.94" cy="189.60" r="1.87" fill="#000"/>
<circle cx="308.50" cy="189.60" r="1.98" fill="#999"/>
<circle cx="334.18" cy="189.60" r="1.10" fill="#555"/>
<circle cx="359.86" cy="189.60" r="1.10" fill="#999"/>
<circle cx="248.58" cy="194.50" r="1.98" fill="#ddd"/>
<circle cx="282.82" cy="194.50" r="1.98" fill="#000"/>
<circle cx="299.94" cy="194.50" r="1.10" fill="#ddd"/>
<circle cx="308.50" cy="194.50" r="2.09" fill="#aaa"/>
<circle cx="317.06" cy="194.50" r="2.20" fill="#000"/>
<circle cx="325.62" cy="194.50" r="2.09" fill="#000"/>
<circle cx="334.18" cy="194.50" r="0.88" fill="#ddd"/>
<circle cx="342.74" cy="194.50" r="0.88" fill="#ddd"/>
<circle cx="248.58" cy="199.50" r="1.98" fill="#e5e5e5"/>
<circle cx="299.94" cy="199.50" r="1.65" fill="#ccc"/>
<circle cx="308.50" cy="199.50" r="1.98" fill="#aaa"/>
<circle cx="334.18" cy="199.50" r="1.10" fill="#333"/>
<circle cx="342.74" cy="199.50" r="1.87" fill="#000"/>
<circle cx="351.30" cy="199.50" r="0.88" fill="#222"/>
<circle cx="359.86" cy="199.50" r="0.99" fill="#222"/>
<circle cx="282.82" cy="204.40" r="0.99" fill="#ddd"/>
<circle cx="291.38" cy="204.40" r="0.99" fill="#ddd"/>
<circle cx="299.94" cy="204.40" r="1.32" fill="#ddd"/>
<circle cx="308.50" cy="204.40" r="1.98" fill="#aaa"/>
<circle cx="376.98" cy="204.40" r="2.09" fill="#000"/>
<line x1="217.80" y1="172.00" x2="217.80" y2="207.10" stroke="#222" stroke-width="0.8"/>
<line x1="217.80" y1="207.10" x2="382.00" y2="207.10" stroke="#666" stroke-width="0.7"/>
<text x="226.60" y="211.00" font-size="4.5" text-anchor="end" fill="#111" transform="rotate(-45 226.60 211.00)">STMN2</text>
<text x="235.16" y="211.00" font-size="4.5" text-anchor="end" fill="#111" transform="rotate(-45 235.16 211.00)">SLA</text>
<text x="243.72" y="211.00" font-size="4.5" text-anchor="end" fill="#111" transform="rotate(-45 243.72 211.00)">NEUROD6</text>
<text x="252.28" y="211.00" font-size="4.5" text-anchor="end" fill="#111" transform="rotate(-45 252.28 211.00)">MAP2</text>
<text x="260.84" y="211.00" font-size="4.5" text-anchor="end" fill="#111" transform="rotate(-45 260.84 211.00)">GAD1</text>
<text x="269.40" y="211.00" font-size="4.5" text-anchor="end" fill="#111" transform="rotate(-45 269.40 211.00)">GAD2</text>
<text x="277.96" y="211.00" font-size="4.5" text-anchor="end" fill="#111" transform="rotate(-45 277.96 211.00)">EOMES</text>
<text x="286.52" y="211.00" font-size="4.5" text-anchor="end" fill="#111" transform="rotate(-45 286.52 211.00)">CENPF</text>
<text x="295.08" y="211.00" font-size="4.5" text-anchor="end" fill="#111" transform="rotate(-45 295.08 211.00)">TAGLN</text>
<text x="303.64" y="211.00" font-size="4.5" text-anchor="end" fill="#111" transform="rotate(-45 303.64 211.00)">SPARC</text>
<text x="312.20" y="211.00" font-size="4.5" text-anchor="end" fill="#111" transform="rotate(-45 312.20 211.00)">VIM</text>
<text x="320.76" y="211.00" font-size="4.5" text-anchor="end" fill="#111" transform="rotate(-45 320.76 211.00)">TOP2A</text>
<text x="329.32" y="211.00" font-size="4.5" text-anchor="end" fill="#111" transform="rotate(-45 329.32 211.00)">MKI67</text>
<text x="337.88" y="211.00" font-size="4.5" text-anchor="end" fill="#111" transform="rotate(-45 337.88 211.00)">GFAP</text>
<text x="346.44" y="211.00" font-size="4.5" text-anchor="end" fill="#111" transform="rotate(-45 346.44 211.00)">S100B</text>
<text x="355.00" y="211.00" font-size="4.5" text-anchor="end" fill="#111" transform="rotate(-45 355.00 211.00)">AQ4</text>
<text x="363.56" y="211.00" font-size="4.5" text-anchor="end" fill="#111" transform="rotate(-45 363.56 211.00)">APOE</text>
<text x="372.12" y="211.00" font-size="4.5" text-anchor="end" fill="#111" transform="rotate(-45 372.12 211.00)">OLIG1</text>
<text x="380.68" y="211.00" font-size="4.5" text-anchor="end" fill="#111" transform="rotate(-45 380.68 211.00)">AIF1</text>
<text x="299.90" y="231.10" font-size="7.45" text-anchor="middle" fill="#000">Cortical organoids (Yoon, et al.)</text>
<text x="216.30" y="237.54" font-size="5.4" text-anchor="end" fill="#111">Ex Neu</text>
<text x="216.30" y="243.34" font-size="5.4" text-anchor="end" fill="#111">IPC</text>
<text x="216.30" y="249.14" font-size="5.4" text-anchor="end" fill="#111">RG</text>
<text x="216.30" y="254.84" font-size="5.4" text-anchor="end" fill="#111">Div RG</text>
<text x="216.30" y="260.54" font-size="5.4" text-anchor="end" fill="#111">Astrocyte</text>
<text x="216.30" y="266.24" font-size="5.4" text-anchor="end" fill="#111">OPC</text>
<rect x="217.80" y="269.30" width="27.97" height="3.20" fill="#6CC06C"/>
<rect x="245.77" y="269.30" width="18.06" height="3.20" fill="#5E9E66"/>
<rect x="263.83" y="269.30" width="9.03" height="3.20" fill="#DDF5B5"/>
<rect x="272.87" y="269.30" width="36.12" height="3.20" fill="#AEE0F8"/>
<rect x="308.99" y="269.30" width="18.06" height="3.20" fill="#8CA0D8"/>
<rect x="327.04" y="269.30" width="36.12" height="3.20" fill="#F8F080"/>
<rect x="363.16" y="269.30" width="9.03" height="3.20" fill="#F5B8C0"/>
<rect x="372.19" y="269.30" width="9.81" height="3.20" fill="#C88CF0"/>
<circle cx="268.35" cy="236.40" r="0.45" fill="#e4e4e4"/>
<circle cx="277.38" cy="236.40" r="0.45" fill="#e4e4e4"/>
<circle cx="286.41" cy="236.40" r="0.45" fill="#e4e4e4"/>
<circle cx="295.44" cy="236.40" r="0.45" fill="#e4e4e4"/>
<circle cx="304.47" cy="236.40" r="0.45" fill="#e4e4e4"/>
<circle cx="313.50" cy="236.40" r="0.45" fill="#e4e4e4"/>
<circle cx="322.53" cy="236.40" r="0.45" fill="#e4e4e4"/>
<circle cx="331.56" cy="236.40" r="0.45" fill="#e4e4e4"/>
<circle cx="340.59" cy="236.40" r="0.45" fill="#e4e4e4"/>
<circle cx="349.62" cy="236.40" r="0.45" fill="#e4e4e4"/>
<circle cx="358.65" cy="236.40" r="0.45" fill="#e4e4e4"/>
<circle cx="367.68" cy="236.40" r="0.45" fill="#e4e4e4"/>
<circle cx="376.71" cy="236.40" r="0.45" fill="#e4e4e4"/>
<circle cx="223.20" cy="242.20" r="0.45" fill="#e4e4e4"/>
<circle cx="250.29" cy="242.20" r="0.45" fill="#e4e4e4"/>
<circle cx="259.32" cy="242.20" r="0.45" fill="#e4e4e4"/>
<circle cx="277.38" cy="242.20" r="0.45" fill="#e4e4e4"/>
<circle cx="286.41" cy="242.20" r="0.45" fill="#e4e4e4"/>
<circle cx="295.44" cy="242.20" r="0.45" fill="#e4e4e4"/>
<circle cx="304.47" cy="242.20" r="0.45" fill="#e4e4e4"/>
<circle cx="313.50" cy="242.20" r="0.45" fill="#e4e4e4"/>
<circle cx="322.53" cy="242.20" r="0.45" fill="#e4e4e4"/>
<circle cx="331.56" cy="242.20" r="0.45" fill="#e4e4e4"/>
<circle cx="340.59" cy="242.20" r="0.45" fill="#e4e4e4"/>
<circle cx="349.62" cy="242.20" r="0.45" fill="#e4e4e4"/>
<circle cx="358.65" cy="242.20" r="0.45" fill="#e4e4e4"/>
<circle cx="367.68" cy="242.20" r="0.45" fill="#e4e4e4"/>
<circle cx="376.71" cy="242.20" r="0.45" fill="#e4e4e4"/>
<circle cx="223.20" cy="248.00" r="0.45" fill="#e4e4e4"/>
<circle cx="232.23" cy="248.00" r="0.45" fill="#e4e4e4"/>
<circle cx="241.26" cy="248.00" r="0.45" fill="#e4e4e4"/>
<circle cx="250.29" cy="248.00" r="0.45" fill="#e4e4e4"/>
<circle cx="259.32" cy="248.00" r="0.45" fill="#e4e4e4"/>
<circle cx="268.35" cy="248.00" r="0.45" fill="#e4e4e4"/>
<circle cx="313.50" cy="248.00" r="0.45" fill="#e4e4e4"/>
<circle cx="322.53" cy="248.00" r="0.45" fill="#e4e4e4"/>
<circle cx="331.56" cy="248.00" r="0.45" fill="#e4e4e4"/>
<circle cx="340.59" cy="248.00" r="0.45" fill="#e4e4e4"/>
<circle cx="349.62" cy="248.00" r="0.45" fill="#e4e4e4"/>
<circle cx="358.65" cy="248.00" r="0.45" fill="#e4e4e4"/>
<circle cx="367.68" cy="248.00" r="0.45" fill="#e4e4e4"/>
<circle cx="376.71" cy="248.00" r="0.45" fill="#e4e4e4"/>
<circle cx="223.20" cy="253.70" r="0.45" fill="#e4e4e4"/>
<circle cx="232.23" cy="253.70" r="0.45" fill="#e4e4e4"/>
<circle cx="241.26" cy="253.70" r="0.45" fill="#e4e4e4"/>
<circle cx="250.29" cy="253.70" r="0.45" fill="#e4e4e4"/>
<circle cx="259.32" cy="253.70" r="0.45" fill="#e4e4e4"/>
<circle cx="331.56" cy="253.70" r="0.45" fill="#e4e4e4"/>
<circle cx="340.59" cy="253.70" r="0.45" fill="#e4e4e4"/>
<circle cx="349.62" cy="253.70" r="0.45" fill="#e4e4e4"/>
<circle cx="358.65" cy="253.70" r="0.45" fill="#e4e4e4"/>
<circle cx="367.68" cy="253.70" r="0.45" fill="#e4e4e4"/>
<circle cx="376.71" cy="253.70" r="0.45" fill="#e4e4e4"/>
<circle cx="223.20" cy="259.40" r="0.45" fill="#e4e4e4"/>
<circle cx="232.23" cy="259.40" r="0.45" fill="#e4e4e4"/>
<circle cx="241.26" cy="259.40" r="0.45" fill="#e4e4e4"/>
<circle cx="250.29" cy="259.40" r="0.45" fill="#e4e4e4"/>
<circle cx="259.32" cy="259.40" r="0.45" fill="#e4e4e4"/>
<circle cx="268.35" cy="259.40" r="0.45" fill="#e4e4e4"/>
<circle cx="295.44" cy="259.40" r="0.45" fill="#e4e4e4"/>
<circle cx="313.50" cy="259.40" r="0.45" fill="#e4e4e4"/>
<circle cx="322.53" cy="259.40" r="0.45" fill="#e4e4e4"/>
<circle cx="367.68" cy="259.40" r="0.45" fill="#e4e4e4"/>
<circle cx="376.71" cy="259.40" r="0.45" fill="#e4e4e4"/>
<circle cx="223.20" cy="265.10" r="0.45" fill="#e4e4e4"/>
<circle cx="232.23" cy="265.10" r="0.45" fill="#e4e4e4"/>
<circle cx="241.26" cy="265.10" r="0.45" fill="#e4e4e4"/>
<circle cx="259.32" cy="265.10" r="0.45" fill="#e4e4e4"/>
<circle cx="268.35" cy="265.10" r="0.45" fill="#e4e4e4"/>
<circle cx="295.44" cy="265.10" r="0.45" fill="#e4e4e4"/>
<circle cx="313.50" cy="265.10" r="0.45" fill="#e4e4e4"/>
<circle cx="322.53" cy="265.10" r="0.45" fill="#e4e4e4"/>
<circle cx="331.56" cy="265.10" r="0.45" fill="#e4e4e4"/>
<circle cx="349.62" cy="265.10" r="0.45" fill="#e4e4e4"/>
<circle cx="358.65" cy="265.10" r="0.45" fill="#e4e4e4"/>
<circle cx="376.71" cy="265.10" r="0.45" fill="#e4e4e4"/>
<circle cx="223.20" cy="236.40" r="0.77" fill="#111"/>
<circle cx="232.23" cy="236.40" r="2.20" fill="#333"/>
<circle cx="241.26" cy="236.40" r="1.76" fill="#444"/>
<circle cx="250.29" cy="236.40" r="0.55" fill="#bbb"/>
<circle cx="259.32" cy="236.40" r="0.55" fill="#bbb"/>
<circle cx="232.23" cy="242.20" r="1.98" fill="#777"/>
<circle cx="241.26" cy="242.20" r="1.32" fill="#555"/>
<circle cx="268.35" cy="242.20" r="0.88" fill="#111"/>
<circle cx="277.38" cy="248.00" r="1.65" fill="#bbb"/>
<circle cx="286.41" cy="248.00" r="2.09" fill="#888"/>
<circle cx="295.44" cy="248.00" r="1.10" fill="#999"/>
<circle cx="304.47" cy="248.00" r="1.98" fill="#ddd"/>
<circle cx="268.35" cy="253.70" r="0.77" fill="#999"/>
<circle cx="277.38" cy="253.70" r="1.65" fill="#e0e0e0"/>
<circle cx="286.41" cy="253.70" r="1.65" fill="#bbb"/>
<circle cx="295.44" cy="253.70" r="1.32" fill="#111"/>
<circle cx="304.47" cy="253.70" r="1.87" fill="#e0e0e0"/>
<circle cx="313.50" cy="253.70" r="1.98" fill="#000"/>
<circle cx="322.53" cy="253.70" r="1.43" fill="#000"/>
<circle cx="277.38" cy="259.40" r="1.98" fill="#666"/>
<circle cx="286.41" cy="259.40" r="2.20" fill="#555"/>
<circle cx="304.47" cy="259.40" r="2.42" fill="#000"/>
<circle cx="331.56" cy="259.40" r="1.10" fill="#111"/>
<circle cx="340.59" cy="259.40" r="0.99" fill="#888"/>
<circle cx="349.62" cy="259.40" r="0.88" fill="#111"/>
<circle cx="358.65" cy="259.40" r="0.88" fill="#111"/>
<circle cx="250.29" cy="265.10" r="0.66" fill="#444"/>
<circle cx="277.38" cy="265.10" r="1.87" fill="#777"/>
<circle cx="286.41" cy="265.10" r="1.43" fill="#e5e5e5"/>
<circle cx="304.47" cy="265.10" r="2.09" fill="#ccc"/>
<circle cx="340.59" cy="265.10" r="0.99" fill="#333"/>
<circle cx="367.68" cy="265.10" r="1.65" fill="#000"/>
<line x1="217.80" y1="233.00" x2="217.80" y2="268.70" stroke="#222" stroke-width="0.8"/>
<line x1="217.80" y1="268.70" x2="382.00" y2="268.70" stroke="#666" stroke-width="0.7"/>
<text x="226.90" y="272.60" font-size="4.5" text-anchor="end" fill="#111" transform="rotate(-45 226.90 272.60)">MEF2C</text>
<text x="235.93" y="272.60" font-size="4.5" text-anchor="end" fill="#111" transform="rotate(-45 235.93 272.60)">STMN2</text>
<text x="244.96" y="272.60" font-size="4.5" text-anchor="end" fill="#111" transform="rotate(-45 244.96 272.60)">NEUROD6</text>
<text x="253.99" y="272.60" font-size="4.5" text-anchor="end" fill="#111" transform="rotate(-45 253.99 272.60)">GAD1</text>
<text x="263.02" y="272.60" font-size="4.5" text-anchor="end" fill="#111" transform="rotate(-45 263.02 272.60)">GAD2</text>
<text x="272.05" y="272.60" font-size="4.5" text-anchor="end" fill="#111" transform="rotate(-45 272.05 272.60)">EOMES</text>
<text x="281.08" y="272.60" font-size="4.5" text-anchor="end" fill="#111" transform="rotate(-45 281.08 272.60)">SOX2</text>
<text x="290.11" y="272.60" font-size="4.5" text-anchor="end" fill="#111" transform="rotate(-45 290.11 272.60)">VIM</text>
<text x="299.14" y="272.60" font-size="4.5" text-anchor="end" fill="#111" transform="rotate(-45 299.14 272.60)">PAX6</text>
<text x="308.17" y="272.60" font-size="4.5" text-anchor="end" fill="#111" transform="rotate(-45 308.17 272.60)">PTN</text>
<text x="317.20" y="272.60" font-size="4.5" text-anchor="end" fill="#111" transform="rotate(-45 317.20 272.60)">TOP2A</text>
<text x="326.23" y="272.60" font-size="4.5" text-anchor="end" fill="#111" transform="rotate(-45 326.23 272.60)">MKI67</text>
<text x="335.26" y="272.60" font-size="4.5" text-anchor="end" fill="#111" transform="rotate(-45 335.26 272.60)">AQP4</text>
<text x="344.29" y="272.60" font-size="4.5" text-anchor="end" fill="#111" transform="rotate(-45 344.29 272.60)">S100B</text>
<text x="353.32" y="272.60" font-size="4.5" text-anchor="end" fill="#111" transform="rotate(-45 353.32 272.60)">AGT</text>
<text x="362.35" y="272.60" font-size="4.5" text-anchor="end" fill="#111" transform="rotate(-45 362.35 272.60)">APOE</text>
<text x="371.38" y="272.60" font-size="4.5" text-anchor="end" fill="#111" transform="rotate(-45 371.38 272.60)">OLIG1</text>
<text x="380.41" y="272.60" font-size="4.5" text-anchor="end" fill="#111" transform="rotate(-45 380.41 272.60)">AIF1</text>
<text x="376.30" y="250.51" font-size="5.3" text-anchor="middle" fill="#111">N/A</text>
<text x="492.30" y="169.80" font-size="7.45" text-anchor="middle" fill="#000">Cortical organoid (Qian, et al.)</text>
<text x="409.20" y="176.84" font-size="5.4" text-anchor="end" fill="#111">Ex Neu</text>
<text x="409.20" y="183.74" font-size="5.4" text-anchor="end" fill="#111">IPC</text>
<text x="409.20" y="190.64" font-size="5.4" text-anchor="end" fill="#111">RG</text>
<text x="409.20" y="197.54" font-size="5.4" text-anchor="end" fill="#111">Div RG</text>
<text x="409.20" y="204.44" font-size="5.4" text-anchor="end" fill="#111">Astrocyte</text>
<rect x="410.40" y="208.30" width="47.99" height="3.20" fill="#6CC06C"/>
<rect x="458.38" y="208.30" width="19.06" height="3.20" fill="#5E9E66"/>
<rect x="477.44" y="208.30" width="9.53" height="3.20" fill="#DDF5B5"/>
<rect x="486.98" y="208.30" width="38.12" height="3.20" fill="#AEE0F8"/>
<rect x="525.10" y="208.30" width="19.06" height="3.20" fill="#8CA0D8"/>
<rect x="544.15" y="208.30" width="9.53" height="3.20" fill="#F8F080"/>
<rect x="553.68" y="208.30" width="9.53" height="3.20" fill="#F5B8C0"/>
<rect x="563.22" y="208.30" width="11.18" height="3.20" fill="#C88CF0"/>
<circle cx="463.15" cy="175.70" r="0.45" fill="#e4e4e4"/>
<circle cx="472.68" cy="175.70" r="0.45" fill="#e4e4e4"/>
<circle cx="482.21" cy="175.70" r="0.45" fill="#e4e4e4"/>
<circle cx="491.74" cy="175.70" r="0.45" fill="#e4e4e4"/>
<circle cx="501.27" cy="175.70" r="0.45" fill="#e4e4e4"/>
<circle cx="510.80" cy="175.70" r="0.45" fill="#e4e4e4"/>
<circle cx="520.33" cy="175.70" r="0.45" fill="#e4e4e4"/>
<circle cx="529.86" cy="175.70" r="0.45" fill="#e4e4e4"/>
<circle cx="539.39" cy="175.70" r="0.45" fill="#e4e4e4"/>
<circle cx="548.92" cy="175.70" r="0.45" fill="#e4e4e4"/>
<circle cx="558.45" cy="175.70" r="0.45" fill="#e4e4e4"/>
<circle cx="567.98" cy="175.70" r="0.45" fill="#e4e4e4"/>
<circle cx="415.50" cy="182.60" r="0.45" fill="#e4e4e4"/>
<circle cx="425.03" cy="182.60" r="0.45" fill="#e4e4e4"/>
<circle cx="434.56" cy="182.60" r="0.45" fill="#e4e4e4"/>
<circle cx="444.09" cy="182.60" r="0.45" fill="#e4e4e4"/>
<circle cx="453.62" cy="182.60" r="0.45" fill="#e4e4e4"/>
<circle cx="463.15" cy="182.60" r="0.45" fill="#e4e4e4"/>
<circle cx="472.68" cy="182.60" r="0.45" fill="#e4e4e4"/>
<circle cx="491.74" cy="182.60" r="0.45" fill="#e4e4e4"/>
<circle cx="501.27" cy="182.60" r="0.45" fill="#e4e4e4"/>
<circle cx="510.80" cy="182.60" r="0.45" fill="#e4e4e4"/>
<circle cx="520.33" cy="182.60" r="0.45" fill="#e4e4e4"/>
<circle cx="529.86" cy="182.60" r="0.45" fill="#e4e4e4"/>
<circle cx="539.39" cy="182.60" r="0.45" fill="#e4e4e4"/>
<circle cx="548.92" cy="182.60" r="0.45" fill="#e4e4e4"/>
<circle cx="558.45" cy="182.60" r="0.45" fill="#e4e4e4"/>
<circle cx="567.98" cy="182.60" r="0.45" fill="#e4e4e4"/>
<circle cx="415.50" cy="189.50" r="0.45" fill="#e4e4e4"/>
<circle cx="425.03" cy="189.50" r="0.45" fill="#e4e4e4"/>
<circle cx="434.56" cy="189.50" r="0.45" fill="#e4e4e4"/>
<circle cx="444.09" cy="189.50" r="0.45" fill="#e4e4e4"/>
<circle cx="453.62" cy="189.50" r="0.45" fill="#e4e4e4"/>
<circle cx="472.68" cy="189.50" r="0.45" fill="#e4e4e4"/>
<circle cx="482.21" cy="189.50" r="0.45" fill="#e4e4e4"/>
<circle cx="491.74" cy="189.50" r="0.45" fill="#e4e4e4"/>
<circle cx="501.27" cy="189.50" r="0.45" fill="#e4e4e4"/>
<circle cx="520.33" cy="189.50" r="0.45" fill="#e4e4e4"/>
<circle cx="529.86" cy="189.50" r="0.45" fill="#e4e4e4"/>
<circle cx="539.39" cy="189.50" r="0.45" fill="#e4e4e4"/>
<circle cx="548.92" cy="189.50" r="0.45" fill="#e4e4e4"/>
<circle cx="558.45" cy="189.50" r="0.45" fill="#e4e4e4"/>
<circle cx="567.98" cy="189.50" r="0.45" fill="#e4e4e4"/>
<circle cx="415.50" cy="196.40" r="0.45" fill="#e4e4e4"/>
<circle cx="425.03" cy="196.40" r="0.45" fill="#e4e4e4"/>
<circle cx="434.56" cy="196.40" r="0.45" fill="#e4e4e4"/>
<circle cx="444.09" cy="196.40" r="0.45" fill="#e4e4e4"/>
<circle cx="453.62" cy="196.40" r="0.45" fill="#e4e4e4"/>
<circle cx="463.15" cy="196.40" r="0.45" fill="#e4e4e4"/>
<circle cx="472.68" cy="196.40" r="0.45" fill="#e4e4e4"/>
<circle cx="482.21" cy="196.40" r="0.45" fill="#e4e4e4"/>
<circle cx="548.92" cy="196.40" r="0.45" fill="#e4e4e4"/>
<circle cx="558.45" cy="196.40" r="0.45" fill="#e4e4e4"/>
<circle cx="567.98" cy="196.40" r="0.45" fill="#e4e4e4"/>
<circle cx="415.50" cy="203.30" r="0.45" fill="#e4e4e4"/>
<circle cx="425.03" cy="203.30" r="0.45" fill="#e4e4e4"/>
<circle cx="434.56" cy="203.30" r="0.45" fill="#e4e4e4"/>
<circle cx="444.09" cy="203.30" r="0.45" fill="#e4e4e4"/>
<circle cx="453.62" cy="203.30" r="0.45" fill="#e4e4e4"/>
<circle cx="463.15" cy="203.30" r="0.45" fill="#e4e4e4"/>
<circle cx="472.68" cy="203.30" r="0.45" fill="#e4e4e4"/>
<circle cx="482.21" cy="203.30" r="0.45" fill="#e4e4e4"/>
<circle cx="529.86" cy="203.30" r="0.45" fill="#e4e4e4"/>
<circle cx="539.39" cy="203.30" r="0.45" fill="#e4e4e4"/>
<circle cx="558.45" cy="203.30" r="0.45" fill="#e4e4e4"/>
<circle cx="567.98" cy="203.30" r="0.45" fill="#e4e4e4"/>
<circle cx="415.50" cy="175.70" r="0.77" fill="#111"/>
<circle cx="425.03" cy="175.70" r="0.77" fill="#111"/>
<circle cx="434.56" cy="175.70" r="0.77" fill="#111"/>
<circle cx="444.09" cy="175.70" r="0.77" fill="#111"/>
<circle cx="453.62" cy="175.70" r="0.77" fill="#111"/>
<circle cx="482.21" cy="182.60" r="0.99" fill="#000"/>
<circle cx="463.15" cy="189.50" r="0.66" fill="#ccc"/>
<circle cx="510.80" cy="189.50" r="0.99" fill="#333"/>
<circle cx="491.74" cy="196.40" r="1.43" fill="#888"/>
<circle cx="501.27" cy="196.40" r="1.87" fill="#999"/>
<circle cx="510.80" cy="196.40" r="0.88" fill="#ccc"/>
<circle cx="520.33" cy="196.40" r="2.09" fill="#888"/>
<circle cx="529.86" cy="196.40" r="1.32" fill="#000"/>
<circle cx="539.39" cy="196.40" r="1.65" fill="#000"/>
<circle cx="491.74" cy="203.30" r="1.65" fill="#333"/>
<circle cx="501.27" cy="203.30" r="2.42" fill="#111"/>
<circle cx="510.80" cy="203.30" r="1.10" fill="#999"/>
<circle cx="520.33" cy="203.30" r="2.31" fill="#333"/>
<circle cx="548.92" cy="203.30" r="0.88" fill="#111"/>
<line x1="410.40" y1="172.50" x2="410.40" y2="207.70" stroke="#222" stroke-width="0.8"/>
<line x1="410.40" y1="207.70" x2="574.40" y2="207.70" stroke="#666" stroke-width="0.7"/>
<text x="419.20" y="211.60" font-size="4.5" text-anchor="end" fill="#111" transform="rotate(-45 419.20 211.60)">MEF2C</text>
<text x="428.73" y="211.60" font-size="4.5" text-anchor="end" fill="#111" transform="rotate(-45 428.73 211.60)">SLA</text>
<text x="438.26" y="211.60" font-size="4.5" text-anchor="end" fill="#111" transform="rotate(-45 438.26 211.60)">STMN2</text>
<text x="447.79" y="211.60" font-size="4.5" text-anchor="end" fill="#111" transform="rotate(-45 447.79 211.60)">SCN3A</text>
<text x="457.32" y="211.60" font-size="4.5" text-anchor="end" fill="#111" transform="rotate(-45 457.32 211.60)">SATB2</text>
<text x="466.85" y="211.60" font-size="4.5" text-anchor="end" fill="#111" transform="rotate(-45 466.85 211.60)">GAD1</text>
<text x="476.38" y="211.60" font-size="4.5" text-anchor="end" fill="#111" transform="rotate(-45 476.38 211.60)">GAD2</text>
<text x="485.91" y="211.60" font-size="4.5" text-anchor="end" fill="#111" transform="rotate(-45 485.91 211.60)">EOMES</text>
<text x="495.44" y="211.60" font-size="4.5" text-anchor="end" fill="#111" transform="rotate(-45 495.44 211.60)">VIM</text>
<text x="504.97" y="211.60" font-size="4.5" text-anchor="end" fill="#111" transform="rotate(-45 504.97 211.60)">PTN</text>
<text x="514.50" y="211.60" font-size="4.5" text-anchor="end" fill="#111" transform="rotate(-45 514.50 211.60)">BMP7</text>
<text x="524.03" y="211.60" font-size="4.5" text-anchor="end" fill="#111" transform="rotate(-45 524.03 211.60)">GLI3</text>
<text x="533.56" y="211.60" font-size="4.5" text-anchor="end" fill="#111" transform="rotate(-45 533.56 211.60)">TOP2A</text>
<text x="543.09" y="211.60" font-size="4.5" text-anchor="end" fill="#111" transform="rotate(-45 543.09 211.60)">MKI67</text>
<text x="552.62" y="211.60" font-size="4.5" text-anchor="end" fill="#111" transform="rotate(-45 552.62 211.60)">IL33</text>
<text x="562.15" y="211.60" font-size="4.5" text-anchor="end" fill="#111" transform="rotate(-45 562.15 211.60)">OLIG1</text>
<text x="571.68" y="211.60" font-size="4.5" text-anchor="end" fill="#111" transform="rotate(-45 571.68 211.60)">SPP1</text>
<text x="557.30" y="190.74" font-size="5.4" text-anchor="middle" fill="#111">N/A</text>
<text x="568.70" y="190.74" font-size="5.4" text-anchor="middle" fill="#111">N/A</text>
<text x="494.00" y="231.50" font-size="7.45" text-anchor="middle" fill="#000">Cortical organoids (Xiang, et al.)</text>
<text x="408.30" y="238.24" font-size="5.4" text-anchor="end" fill="#111">Ex Neu</text>
<text x="408.30" y="245.04" font-size="5.4" text-anchor="end" fill="#111">In Neu</text>
<text x="408.30" y="251.84" font-size="5.4" text-anchor="end" fill="#111">RG</text>
<text x="408.30" y="258.64" font-size="5.4" text-anchor="end" fill="#111">Div RG</text>
<text x="408.30" y="265.44" font-size="5.4" text-anchor="end" fill="#111">Astrocyte</text>
<rect x="409.30" y="269.30" width="41.65" height="3.20" fill="#6CC06C"/>
<rect x="450.95" y="269.30" width="20.26" height="3.20" fill="#5E9E66"/>
<rect x="471.21" y="269.30" width="10.13" height="3.20" fill="#DDF5B5"/>
<rect x="481.35" y="269.30" width="20.26" height="3.20" fill="#AEE0F8"/>
<rect x="501.61" y="269.30" width="20.26" height="3.20" fill="#8CA0D8"/>
<rect x="521.87" y="269.30" width="30.39" height="3.20" fill="#F8F080"/>
<rect x="552.26" y="269.30" width="10.13" height="3.20" fill="#F5B8C0"/>
<rect x="562.38" y="269.30" width="11.41" height="3.20" fill="#C88CF0"/>
<circle cx="456.02" cy="237.10" r="0.45" fill="#e4e4e4"/>
<circle cx="466.15" cy="237.10" r="0.45" fill="#e4e4e4"/>
<circle cx="476.28" cy="237.10" r="0.45" fill="#e4e4e4"/>
<circle cx="486.41" cy="237.10" r="0.45" fill="#e4e4e4"/>
<circle cx="506.67" cy="237.10" r="0.45" fill="#e4e4e4"/>
<circle cx="516.80" cy="237.10" r="0.45" fill="#e4e4e4"/>
<circle cx="526.93" cy="237.10" r="0.45" fill="#e4e4e4"/>
<circle cx="537.06" cy="237.10" r="0.45" fill="#e4e4e4"/>
<circle cx="547.19" cy="237.10" r="0.45" fill="#e4e4e4"/>
<circle cx="557.32" cy="237.10" r="0.45" fill="#e4e4e4"/>
<circle cx="567.45" cy="237.10" r="0.45" fill="#e4e4e4"/>
<circle cx="425.63" cy="243.90" r="0.45" fill="#e4e4e4"/>
<circle cx="435.76" cy="243.90" r="0.45" fill="#e4e4e4"/>
<circle cx="476.28" cy="243.90" r="0.45" fill="#e4e4e4"/>
<circle cx="486.41" cy="243.90" r="0.45" fill="#e4e4e4"/>
<circle cx="496.54" cy="243.90" r="0.45" fill="#e4e4e4"/>
<circle cx="506.67" cy="243.90" r="0.45" fill="#e4e4e4"/>
<circle cx="516.80" cy="243.90" r="0.45" fill="#e4e4e4"/>
<circle cx="526.93" cy="243.90" r="0.45" fill="#e4e4e4"/>
<circle cx="537.06" cy="243.90" r="0.45" fill="#e4e4e4"/>
<circle cx="547.19" cy="243.90" r="0.45" fill="#e4e4e4"/>
<circle cx="557.32" cy="243.90" r="0.45" fill="#e4e4e4"/>
<circle cx="567.45" cy="243.90" r="0.45" fill="#e4e4e4"/>
<circle cx="415.50" cy="250.70" r="0.45" fill="#e4e4e4"/>
<circle cx="425.63" cy="250.70" r="0.45" fill="#e4e4e4"/>
<circle cx="435.76" cy="250.70" r="0.45" fill="#e4e4e4"/>
<circle cx="445.89" cy="250.70" r="0.45" fill="#e4e4e4"/>
<circle cx="456.02" cy="250.70" r="0.45" fill="#e4e4e4"/>
<circle cx="466.15" cy="250.70" r="0.45" fill="#e4e4e4"/>
<circle cx="476.28" cy="250.70" r="0.45" fill="#e4e4e4"/>
<circle cx="506.67" cy="250.70" r="0.45" fill="#e4e4e4"/>
<circle cx="516.80" cy="250.70" r="0.45" fill="#e4e4e4"/>
<circle cx="526.93" cy="250.70" r="0.45" fill="#e4e4e4"/>
<circle cx="537.06" cy="250.70" r="0.45" fill="#e4e4e4"/>
<circle cx="557.32" cy="250.70" r="0.45" fill="#e4e4e4"/>
<circle cx="567.45" cy="250.70" r="0.45" fill="#e4e4e4"/>
<circle cx="415.50" cy="257.50" r="0.45" fill="#e4e4e4"/>
<circle cx="425.63" cy="257.50" r="0.45" fill="#e4e4e4"/>
<circle cx="435.76" cy="257.50" r="0.45" fill="#e4e4e4"/>
<circle cx="456.02" cy="257.50" r="0.45" fill="#e4e4e4"/>
<circle cx="466.15" cy="257.50" r="0.45" fill="#e4e4e4"/>
<circle cx="476.28" cy="257.50" r="0.45" fill="#e4e4e4"/>
<circle cx="526.93" cy="257.50" r="0.45" fill="#e4e4e4"/>
<circle cx="537.06" cy="257.50" r="0.45" fill="#e4e4e4"/>
<circle cx="547.19" cy="257.50" r="0.45" fill="#e4e4e4"/>
<circle cx="557.32" cy="257.50" r="0.45" fill="#e4e4e4"/>
<circle cx="567.45" cy="257.50" r="0.45" fill="#e4e4e4"/>
<circle cx="415.50" cy="264.30" r="0.45" fill="#e4e4e4"/>
<circle cx="425.63" cy="264.30" r="0.45" fill="#e4e4e4"/>
<circle cx="435.76" cy="264.30" r="0.45" fill="#e4e4e4"/>
<circle cx="456.02" cy="264.30" r="0.45" fill="#e4e4e4"/>
<circle cx="466.15" cy="264.30" r="0.45" fill="#e4e4e4"/>
<circle cx="476.28" cy="264.30" r="0.45" fill="#e4e4e4"/>
<circle cx="506.67" cy="264.30" r="0.45" fill="#e4e4e4"/>
<circle cx="516.80" cy="264.30" r="0.45" fill="#e4e4e4"/>
<circle cx="557.32" cy="264.30" r="0.45" fill="#e4e4e4"/>
<circle cx="567.45" cy="264.30" r="0.45" fill="#e4e4e4"/>
<circle cx="415.50" cy="237.10" r="1.87" fill="#555"/>
<circle cx="425.63" cy="237.10" r="0.66" fill="#111"/>
<circle cx="435.76" cy="237.10" r="0.77" fill="#111"/>
<circle cx="445.89" cy="237.10" r="1.21" fill="#555"/>
<circle cx="496.54" cy="237.10" r="1.32" fill="#e5e5e5"/>
<circle cx="415.50" cy="243.90" r="2.09" fill="#555"/>
<circle cx="445.89" cy="243.90" r="0.99" fill="#444"/>
<circle cx="456.02" cy="243.90" r="1.98" fill="#000"/>
<circle cx="466.15" cy="243.90" r="0.88" fill="#111"/>
<circle cx="486.41" cy="250.70" r="0.99" fill="#e5e5e5"/>
<circle cx="496.54" cy="250.70" r="1.87" fill="#ddd"/>
<circle cx="547.19" cy="250.70" r="1.10" fill="#999"/>
<circle cx="445.89" cy="257.50" r="1.43" fill="#ddd"/>
<circle cx="486.41" cy="257.50" r="1.76" fill="#777"/>
<circle cx="496.54" cy="257.50" r="1.98" fill="#888"/>
<circle cx="506.67" cy="257.50" r="2.09" fill="#000"/>
<circle cx="516.80" cy="257.50" r="1.98" fill="#000"/>
<circle cx="445.89" cy="264.30" r="1.10" fill="#e8e8e8"/>
<circle cx="486.41" cy="264.30" r="1.87" fill="#555"/>
<circle cx="496.54" cy="264.30" r="2.20" fill="#333"/>
<circle cx="526.93" cy="264.30" r="0.88" fill="#111"/>
<circle cx="537.06" cy="264.30" r="1.32" fill="#000"/>
<circle cx="547.19" cy="264.30" r="1.10" fill="#111"/>
<line x1="409.30" y1="233.70" x2="409.30" y2="268.70" stroke="#222" stroke-width="0.8"/>
<line x1="409.30" y1="268.70" x2="573.80" y2="268.70" stroke="#666" stroke-width="0.7"/>
<text x="419.20" y="272.60" font-size="4.5" text-anchor="end" fill="#111" transform="rotate(-45 419.20 272.60)">STMN2</text>
<text x="429.33" y="272.60" font-size="4.5" text-anchor="end" fill="#111" transform="rotate(-45 429.33 272.60)">NEUROD2</text>
<text x="439.46" y="272.60" font-size="4.5" text-anchor="end" fill="#111" transform="rotate(-45 439.46 272.60)">NEUROD6</text>
<text x="449.59" y="272.60" font-size="4.5" text-anchor="end" fill="#111" transform="rotate(-45 449.59 272.60)">MAP2</text>
<text x="459.72" y="272.60" font-size="4.5" text-anchor="end" fill="#111" transform="rotate(-45 459.72 272.60)">GAD1</text>
<text x="469.85" y="272.60" font-size="4.5" text-anchor="end" fill="#111" transform="rotate(-45 469.85 272.60)">GAD2</text>
<text x="479.98" y="272.60" font-size="4.5" text-anchor="end" fill="#111" transform="rotate(-45 479.98 272.60)">EOMES</text>
<text x="490.11" y="272.60" font-size="4.5" text-anchor="end" fill="#111" transform="rotate(-45 490.11 272.60)">SOX2</text>
<text x="500.24" y="272.60" font-size="4.5" text-anchor="end" fill="#111" transform="rotate(-45 500.24 272.60)">VIM</text>
<text x="510.37" y="272.60" font-size="4.5" text-anchor="end" fill="#111" transform="rotate(-45 510.37 272.60)">TOP2A</text>
<text x="520.50" y="272.60" font-size="4.5" text-anchor="end" fill="#111" transform="rotate(-45 520.50 272.60)">MKI67</text>
<text x="530.63" y="272.60" font-size="4.5" text-anchor="end" fill="#111" transform="rotate(-45 530.63 272.60)">GFAP</text>
<text x="540.76" y="272.60" font-size="4.5" text-anchor="end" fill="#111" transform="rotate(-45 540.76 272.60)">S100B</text>
<text x="550.89" y="272.60" font-size="4.5" text-anchor="end" fill="#111" transform="rotate(-45 550.89 272.60)">APOE</text>
<text x="561.02" y="272.60" font-size="4.5" text-anchor="end" fill="#111" transform="rotate(-45 561.02 272.60)">OLIG1</text>
<text x="571.15" y="272.60" font-size="4.5" text-anchor="end" fill="#111" transform="rotate(-45 571.15 272.60)">AIF1</text>
<text x="299.90" y="291.50" font-size="7.45" text-anchor="middle" fill="#000">Cortical organoids (Kadoshima, et al.)</text>
<text x="216.20" y="298.64" font-size="5.4" text-anchor="end" fill="#111">Ex Neu</text>
<text x="216.20" y="305.44" font-size="5.4" text-anchor="end" fill="#111">In Neu</text>
<text x="216.20" y="312.24" font-size="5.4" text-anchor="end" fill="#111">RG</text>
<text x="216.20" y="319.14" font-size="5.4" text-anchor="end" fill="#111">Div RG</text>
<text x="216.20" y="326.14" font-size="5.4" text-anchor="end" fill="#111">Astrocyte</text>
<rect x="217.20" y="330.00" width="39.73" height="3.20" fill="#6CC06C"/>
<rect x="256.93" y="330.00" width="19.10" height="3.20" fill="#5E9E66"/>
<rect x="276.02" y="330.00" width="9.55" height="3.20" fill="#DDF5B5"/>
<rect x="285.58" y="330.00" width="28.65" height="3.20" fill="#AEE0F8"/>
<rect x="314.23" y="330.00" width="19.10" height="3.20" fill="#8CA0D8"/>
<rect x="333.33" y="330.00" width="28.65" height="3.20" fill="#F8F080"/>
<rect x="361.98" y="330.00" width="9.55" height="3.20" fill="#F5B8C0"/>
<rect x="371.52" y="330.00" width="9.98" height="3.20" fill="#C88CF0"/>
<circle cx="261.70" cy="297.50" r="0.45" fill="#e4e4e4"/>
<circle cx="271.25" cy="297.50" r="0.45" fill="#e4e4e4"/>
<circle cx="280.80" cy="297.50" r="0.45" fill="#e4e4e4"/>
<circle cx="299.90" cy="297.50" r="0.45" fill="#e4e4e4"/>
<circle cx="309.45" cy="297.50" r="0.45" fill="#e4e4e4"/>
<circle cx="319.00" cy="297.50" r="0.45" fill="#e4e4e4"/>
<circle cx="328.55" cy="297.50" r="0.45" fill="#e4e4e4"/>
<circle cx="338.10" cy="297.50" r="0.45" fill="#e4e4e4"/>
<circle cx="347.65" cy="297.50" r="0.45" fill="#e4e4e4"/>
<circle cx="357.20" cy="297.50" r="0.45" fill="#e4e4e4"/>
<circle cx="366.75" cy="297.50" r="0.45" fill="#e4e4e4"/>
<circle cx="376.30" cy="297.50" r="0.45" fill="#e4e4e4"/>
<circle cx="290.35" cy="304.30" r="0.45" fill="#e4e4e4"/>
<circle cx="309.45" cy="304.30" r="0.45" fill="#e4e4e4"/>
<circle cx="319.00" cy="304.30" r="0.45" fill="#e4e4e4"/>
<circle cx="328.55" cy="304.30" r="0.45" fill="#e4e4e4"/>
<circle cx="338.10" cy="304.30" r="0.45" fill="#e4e4e4"/>
<circle cx="347.65" cy="304.30" r="0.45" fill="#e4e4e4"/>
<circle cx="357.20" cy="304.30" r="0.45" fill="#e4e4e4"/>
<circle cx="366.75" cy="304.30" r="0.45" fill="#e4e4e4"/>
<circle cx="376.30" cy="304.30" r="0.45" fill="#e4e4e4"/>
<circle cx="223.50" cy="311.10" r="0.45" fill="#e4e4e4"/>
<circle cx="233.05" cy="311.10" r="0.45" fill="#e4e4e4"/>
<circle cx="242.60" cy="311.10" r="0.45" fill="#e4e4e4"/>
<circle cx="252.15" cy="311.10" r="0.45" fill="#e4e4e4"/>
<circle cx="261.70" cy="311.10" r="0.45" fill="#e4e4e4"/>
<circle cx="271.25" cy="311.10" r="0.45" fill="#e4e4e4"/>
<circle cx="280.80" cy="311.10" r="0.45" fill="#e4e4e4"/>
<circle cx="319.00" cy="311.10" r="0.45" fill="#e4e4e4"/>
<circle cx="328.55" cy="311.10" r="0.45" fill="#e4e4e4"/>
<circle cx="338.10" cy="311.10" r="0.45" fill="#e4e4e4"/>
<circle cx="347.65" cy="311.10" r="0.45" fill="#e4e4e4"/>
<circle cx="357.20" cy="311.10" r="0.45" fill="#e4e4e4"/>
<circle cx="366.75" cy="311.10" r="0.45" fill="#e4e4e4"/>
<circle cx="376.30" cy="311.10" r="0.45" fill="#e4e4e4"/>
<circle cx="223.50" cy="318.00" r="0.45" fill="#e4e4e4"/>
<circle cx="233.05" cy="318.00" r="0.45" fill="#e4e4e4"/>
<circle cx="242.60" cy="318.00" r="0.45" fill="#e4e4e4"/>
<circle cx="252.15" cy="318.00" r="0.45" fill="#e4e4e4"/>
<circle cx="261.70" cy="318.00" r="0.45" fill="#e4e4e4"/>
<circle cx="271.25" cy="318.00" r="0.45" fill="#e4e4e4"/>
<circle cx="280.80" cy="318.00" r="0.45" fill="#e4e4e4"/>
<circle cx="338.10" cy="318.00" r="0.45" fill="#e4e4e4"/>
<circle cx="347.65" cy="318.00" r="0.45" fill="#e4e4e4"/>
<circle cx="357.20" cy="318.00" r="0.45" fill="#e4e4e4"/>
<circle cx="366.75" cy="318.00" r="0.45" fill="#e4e4e4"/>
<circle cx="376.30" cy="318.00" r="0.45" fill="#e4e4e4"/>
<circle cx="223.50" cy="325.00" r="0.45" fill="#e4e4e4"/>
<circle cx="233.05" cy="325.00" r="0.45" fill="#e4e4e4"/>
<circle cx="242.60" cy="325.00" r="0.45" fill="#e4e4e4"/>
<circle cx="252.15" cy="325.00" r="0.45" fill="#e4e4e4"/>
<circle cx="261.70" cy="325.00" r="0.45" fill="#e4e4e4"/>
<circle cx="271.25" cy="325.00" r="0.45" fill="#e4e4e4"/>
<circle cx="280.80" cy="325.00" r="0.45" fill="#e4e4e4"/>
<circle cx="319.00" cy="325.00" r="0.45" fill="#e4e4e4"/>
<circle cx="328.55" cy="325.00" r="0.45" fill="#e4e4e4"/>
<circle cx="376.30" cy="325.00" r="0.45" fill="#e4e4e4"/>
<circle cx="223.50" cy="297.50" r="1.76" fill="#444"/>
<circle cx="233.05" cy="297.50" r="0.66" fill="#111"/>
<circle cx="242.60" cy="297.50" r="1.21" fill="#111"/>
<circle cx="252.15" cy="297.50" r="1.10" fill="#111"/>
<circle cx="290.35" cy="297.50" r="0.88" fill="#e5e5e5"/>
<circle cx="223.50" cy="304.30" r="1.65" fill="#555"/>
<circle cx="233.05" cy="304.30" r="0.55" fill="#666"/>
<circle cx="242.60" cy="304.30" r="0.88" fill="#888"/>
<circle cx="252.15" cy="304.30" r="0.77" fill="#999"/>
<circle cx="261.70" cy="304.30" r="0.55" fill="#111"/>
<circle cx="271.25" cy="304.30" r="1.32" fill="#000"/>
<circle cx="280.80" cy="304.30" r="0.55" fill="#333"/>
<circle cx="299.90" cy="304.30" r="0.88" fill="#ddd"/>
<circle cx="290.35" cy="311.10" r="1.98" fill="#999"/>
<circle cx="299.90" cy="311.10" r="1.32" fill="#bbb"/>
<circle cx="309.45" cy="311.10" r="1.43" fill="#ddd"/>
<circle cx="290.35" cy="318.00" r="1.98" fill="#bbb"/>
<circle cx="299.90" cy="318.00" r="1.43" fill="#e0e0e0"/>
<circle cx="309.45" cy="318.00" r="1.10" fill="#e5e5e5"/>
<circle cx="319.00" cy="318.00" r="2.20" fill="#000"/>
<circle cx="328.55" cy="318.00" r="0.99" fill="#111"/>
<circle cx="290.35" cy="325.00" r="2.20" fill="#444"/>
<circle cx="299.90" cy="325.00" r="1.87" fill="#555"/>
<circle cx="309.45" cy="325.00" r="2.42" fill="#000"/>
<circle cx="338.10" cy="325.00" r="0.55" fill="#555"/>
<circle cx="347.65" cy="325.00" r="1.10" fill="#000"/>
<circle cx="357.20" cy="325.00" r="0.88" fill="#111"/>
<circle cx="366.75" cy="325.00" r="0.55" fill="#777"/>
<line x1="217.20" y1="293.70" x2="217.20" y2="329.40" stroke="#222" stroke-width="0.8"/>
<line x1="217.20" y1="329.40" x2="381.50" y2="329.40" stroke="#666" stroke-width="0.7"/>
<text x="227.20" y="333.30" font-size="4.5" text-anchor="end" fill="#111" transform="rotate(-45 227.20 333.30)">STMN2</text>
<text x="236.75" y="333.30" font-size="4.5" text-anchor="end" fill="#111" transform="rotate(-45 236.75 333.30)">NEUROD2</text>
<text x="246.30" y="333.30" font-size="4.5" text-anchor="end" fill="#111" transform="rotate(-45 246.30 333.30)">NEUROD6</text>
<text x="255.85" y="333.30" font-size="4.5" text-anchor="end" fill="#111" transform="rotate(-45 255.85 333.30)">MAP2</text>
<text x="265.40" y="333.30" font-size="4.5" text-anchor="end" fill="#111" transform="rotate(-45 265.40 333.30)">GAD1</text>
<text x="274.95" y="333.30" font-size="4.5" text-anchor="end" fill="#111" transform="rotate(-45 274.95 333.30)">GAD2</text>
<text x="284.50" y="333.30" font-size="4.5" text-anchor="end" fill="#111" transform="rotate(-45 284.50 333.30)">EOMES</text>
<text x="294.05" y="333.30" font-size="4.5" text-anchor="end" fill="#111" transform="rotate(-45 294.05 333.30)">VIM</text>
<text x="303.60" y="333.30" font-size="4.5" text-anchor="end" fill="#111" transform="rotate(-45 303.60 333.30)">SOX2</text>
<text x="313.15" y="333.30" font-size="4.5" text-anchor="end" fill="#111" transform="rotate(-45 313.15 333.30)">PTN</text>
<text x="322.70" y="333.30" font-size="4.5" text-anchor="end" fill="#111" transform="rotate(-45 322.70 333.30)">TOP2A</text>
<text x="332.25" y="333.30" font-size="4.5" text-anchor="end" fill="#111" transform="rotate(-45 332.25 333.30)">MKI67</text>
<text x="341.80" y="333.30" font-size="4.5" text-anchor="end" fill="#111" transform="rotate(-45 341.80 333.30)">GFAP</text>
<text x="351.35" y="333.30" font-size="4.5" text-anchor="end" fill="#111" transform="rotate(-45 351.35 333.30)">S100B</text>
<text x="360.90" y="333.30" font-size="4.5" text-anchor="end" fill="#111" transform="rotate(-45 360.90 333.30)">APOE</text>
<text x="370.45" y="333.30" font-size="4.5" text-anchor="end" fill="#111" transform="rotate(-45 370.45 333.30)">OLIG1</text>
<text x="380.00" y="333.30" font-size="4.5" text-anchor="end" fill="#111" transform="rotate(-45 380.00 333.30)">AIF1</text>
<text x="375.20" y="312.21" font-size="5.3" text-anchor="middle" fill="#111">N/A</text>
<text x="438.20" y="295.85" font-size="5.43" text-anchor="middle" fill="#111">Average Expression</text>
<defs><linearGradient id="ge" x1="0" y1="0" x2="0" y2="1"><stop offset="0" stop-color="#111"/><stop offset="0.5" stop-color="#999"/><stop offset="1" stop-color="#fafafa"/></linearGradient></defs>
<rect x="416.00" y="300.00" width="4.80" height="25.00" fill="url(#ge)"/>
<text x="424.50" y="308.31" font-size="5.3" text-anchor="start" fill="#111">1</text>
<text x="424.50" y="316.01" font-size="5.3" text-anchor="start" fill="#111">0</text>
<text x="422.90" y="323.51" font-size="5.3" text-anchor="start" fill="#111">−1</text>
<text x="490.80" y="295.85" font-size="5.43" text-anchor="middle" fill="#111">Percent Expressed</text>
<circle cx="474.30" cy="302.70" r="0.50" fill="#000"/>
<text x="479.00" y="304.61" font-size="5.3" text-anchor="start" fill="#111">0</text>
<circle cx="474.30" cy="308.00" r="1.20" fill="#000"/>
<text x="479.00" y="309.91" font-size="5.3" text-anchor="start" fill="#111">25</text>
<circle cx="474.30" cy="313.10" r="1.75" fill="#000"/>
<text x="479.00" y="315.01" font-size="5.3" text-anchor="start" fill="#111">50</text>
<circle cx="474.30" cy="318.80" r="2.30" fill="#000"/>
<text x="479.00" y="320.71" font-size="5.3" text-anchor="start" fill="#111">75</text>
<circle cx="474.30" cy="325.30" r="2.90" fill="#000"/>
<text x="479.00" y="327.21" font-size="5.3" text-anchor="start" fill="#111">100</text>
<text x="543.80" y="295.85" font-size="5.43" text-anchor="middle" fill="#111">Expression markers</text>
<rect x="526.10" y="300.00" width="7.50" height="3.40" fill="#6CC06C"/>
<text x="535.20" y="303.61" font-size="5.3" text-anchor="start" fill="#111">Ex Neu</text>
<rect x="526.10" y="305.10" width="7.50" height="3.40" fill="#5E9E66"/>
<text x="535.20" y="308.71" font-size="5.3" text-anchor="start" fill="#111">In Neu</text>
<rect x="526.10" y="310.30" width="7.50" height="3.40" fill="#DDF5B5"/>
<text x="535.20" y="313.91" font-size="5.3" text-anchor="start" fill="#111">IPC</text>
<rect x="526.10" y="315.30" width="7.50" height="3.40" fill="#AEE0F8"/>
<text x="535.20" y="318.91" font-size="5.3" text-anchor="start" fill="#111">RG</text>
<rect x="526.10" y="320.40" width="7.50" height="3.40" fill="#8CA0D8"/>
<text x="535.20" y="324.01" font-size="5.3" text-anchor="start" fill="#111">Div RG</text>
<rect x="526.10" y="325.60" width="7.50" height="3.40" fill="#F8F080"/>
<text x="535.20" y="329.21" font-size="5.3" text-anchor="start" fill="#111">Astrocyte</text>
<rect x="526.10" y="330.90" width="7.50" height="3.40" fill="#F5B8C0"/>
<text x="535.20" y="334.51" font-size="5.3" text-anchor="start" fill="#111">OPC</text>
<rect x="526.10" y="335.90" width="7.50" height="3.40" fill="#C88CF0"/>
<text x="535.20" y="339.51" font-size="5.3" text-anchor="start" fill="#111">Microglia</text>
<text x="583.50" y="167.90" font-size="11.5" text-anchor="start" font-weight="bold" fill="#000">d</text>
<text x="644.80" y="170.30" font-size="6.6" text-anchor="middle" fill="#000">TMAP BrainSpan stage</text>
<text x="628.90" y="178.50" font-size="5.4" text-anchor="middle" fill="#111">Prenatal</text>
<text x="661.30" y="178.50" font-size="5.4" text-anchor="middle" fill="#111">Postnatal</text>
<line x1="613.20" y1="180.20" x2="642.10" y2="180.20" stroke="#333" stroke-width="0.8"/>
<line x1="644.10" y1="180.20" x2="678.80" y2="180.20" stroke="#333" stroke-width="0.8"/>
<text x="616.70" y="185.90" font-size="5.3" text-anchor="middle" fill="#111">3</text>
<text x="622.50" y="185.90" font-size="5.3" text-anchor="middle" fill="#111">4</text>
<text x="628.90" y="185.90" font-size="5.3" text-anchor="middle" fill="#111">5</text>
<text x="634.80" y="185.90" font-size="5.3" text-anchor="middle" fill="#111">6</text>
<text x="639.80" y="185.90" font-size="5.3" text-anchor="middle" fill="#111">7</text>
<text x="645.90" y="185.90" font-size="5.3" text-anchor="middle" fill="#111">8</text>
<text x="651.50" y="185.90" font-size="5.3" text-anchor="middle" fill="#111">9</text>
<text x="657.00" y="185.90" font-size="5.3" text-anchor="middle" fill="#111">10</text>
<text x="663.40" y="185.90" font-size="5.3" text-anchor="middle" fill="#111">11</text>
<text x="670.20" y="185.90" font-size="5.3" text-anchor="middle" fill="#111">12</text>
<text x="676.20" y="185.90" font-size="5.3" text-anchor="middle" fill="#111">13</text>
<rect x="613.90" y="186.90" width="65.34" height="65.65" fill="#0000a3"/>
<rect x="619.84" y="186.90" width="5.94" height="5.05" fill="url(#h0)"/>
<rect x="625.78" y="186.90" width="5.94" height="5.05" fill="url(#h1)"/>
<rect x="631.72" y="186.90" width="5.94" height="5.05" fill="url(#h2)"/>
<rect x="637.66" y="186.90" width="5.94" height="5.05" fill="url(#h3)"/>
<rect x="643.60" y="186.90" width="5.94" height="5.05" fill="url(#h4)"/>
<rect x="649.54" y="186.90" width="5.94" height="5.05" fill="url(#h4)"/>
<rect x="655.48" y="186.90" width="5.94" height="5.05" fill="url(#h4)"/>
<rect x="661.42" y="186.90" width="5.94" height="5.05" fill="url(#h4)"/>
<rect x="667.36" y="186.90" width="5.94" height="5.05" fill="url(#h4)"/>
<rect x="673.30" y="186.90" width="5.94" height="5.05" fill="url(#h5)"/>
<rect x="619.84" y="191.95" width="5.94" height="5.05" fill="url(#h1)"/>
<rect x="625.78" y="191.95" width="5.94" height="5.05" fill="url(#h6)"/>
<rect x="631.72" y="191.95" width="5.94" height="5.05" fill="url(#h7)"/>
<rect x="637.66" y="191.95" width="5.94" height="5.05" fill="url(#h8)"/>
<rect x="643.60" y="191.95" width="5.94" height="5.05" fill="url(#h9)"/>
<rect x="649.54" y="191.95" width="5.94" height="5.05" fill="url(#h9)"/>
<rect x="655.48" y="191.95" width="5.94" height="5.05" fill="url(#h9)"/>
<rect x="661.42" y="191.95" width="5.94" height="5.05" fill="url(#h9)"/>
<rect x="667.36" y="191.95" width="5.94" height="5.05" fill="url(#h9)"/>
<rect x="673.30" y="191.95" width="5.94" height="5.05" fill="url(#h10)"/>
<rect x="625.78" y="197.00" width="5.94" height="5.05" fill="url(#h11)"/>
<rect x="631.72" y="197.00" width="5.94" height="5.05" fill="url(#h1)"/>
<rect x="637.66" y="197.00" width="5.94" height="5.05" fill="url(#h12)"/>
<rect x="643.60" y="197.00" width="5.94" height="5.05" fill="url(#h13)"/>
<rect x="649.54" y="197.00" width="5.94" height="5.05" fill="url(#h13)"/>
<rect x="655.48" y="197.00" width="5.94" height="5.05" fill="url(#h13)"/>
<rect x="661.42" y="197.00" width="5.94" height="5.05" fill="url(#h13)"/>
<rect x="667.36" y="197.00" width="5.94" height="5.05" fill="url(#h7)"/>
<rect x="673.30" y="197.00" width="5.94" height="5.05" fill="url(#h7)"/>
<rect x="619.84" y="202.05" width="5.94" height="5.05" fill="url(#h11)"/>
<rect x="625.78" y="202.05" width="5.94" height="5.05" fill="url(#h11)"/>
<rect x="631.72" y="202.05" width="5.94" height="5.05" fill="url(#h11)"/>
<rect x="637.66" y="202.05" width="5.94" height="5.05" fill="url(#h3)"/>
<rect x="643.60" y="202.05" width="5.94" height="5.05" fill="url(#h4)"/>
<rect x="649.54" y="202.05" width="5.94" height="5.05" fill="url(#h4)"/>
<rect x="655.48" y="202.05" width="5.94" height="5.05" fill="url(#h5)"/>
<rect x="661.42" y="202.05" width="5.94" height="5.05" fill="url(#h5)"/>
<rect x="667.36" y="202.05" width="5.94" height="5.05" fill="url(#h5)"/>
<rect x="673.30" y="202.05" width="5.94" height="5.05" fill="url(#h5)"/>
<rect x="625.78" y="207.10" width="5.94" height="5.05" fill="url(#h0)"/>
<rect x="631.72" y="207.10" width="5.94" height="5.05" fill="url(#h11)"/>
<rect x="637.66" y="207.10" width="5.94" height="5.05" fill="url(#h14)"/>
<rect x="643.60" y="207.10" width="5.94" height="5.05" fill="url(#h13)"/>
<rect x="649.54" y="207.10" width="5.94" height="5.05" fill="url(#h13)"/>
<rect x="655.48" y="207.10" width="5.94" height="5.05" fill="url(#h13)"/>
<rect x="661.42" y="207.10" width="5.94" height="5.05" fill="url(#h13)"/>
<rect x="667.36" y="207.10" width="5.94" height="5.05" fill="url(#h7)"/>
<rect x="673.30" y="207.10" width="5.94" height="5.05" fill="url(#h7)"/>
<rect x="619.84" y="212.15" width="5.94" height="5.05" fill="url(#h0)"/>
<rect x="625.78" y="212.15" width="5.94" height="5.05" fill="url(#h1)"/>
<rect x="631.72" y="212.15" width="5.94" height="5.05" fill="url(#h2)"/>
<rect x="637.66" y="212.15" width="5.94" height="5.05" fill="url(#h15)"/>
<rect x="643.60" y="212.15" width="5.94" height="5.05" fill="url(#h16)"/>
<rect x="649.54" y="212.15" width="5.94" height="5.05" fill="url(#h16)"/>
<rect x="655.48" y="212.15" width="5.94" height="5.05" fill="url(#h16)"/>
<rect x="661.42" y="212.15" width="5.94" height="5.05" fill="url(#h4)"/>
<rect x="667.36" y="212.15" width="5.94" height="5.05" fill="url(#h4)"/>
<rect x="673.30" y="212.15" width="5.94" height="5.05" fill="url(#h4)"/>
<rect x="625.78" y="217.20" width="5.94" height="5.05" fill="url(#h0)"/>
<rect x="631.72" y="217.20" width="5.94" height="5.05" fill="url(#h11)"/>
<rect x="637.66" y="217.20" width="5.94" height="5.05" fill="url(#h12)"/>
<rect x="643.60" y="217.20" width="5.94" height="5.05" fill="url(#h5)"/>
<rect x="649.54" y="217.20" width="5.94" height="5.05" fill="url(#h5)"/>
<rect x="655.48" y="217.20" width="5.94" height="5.05" fill="url(#h5)"/>
<rect x="661.42" y="217.20" width="5.94" height="5.05" fill="url(#h13)"/>
<rect x="667.36" y="217.20" width="5.94" height="5.05" fill="url(#h13)"/>
<rect x="673.30" y="217.20" width="5.94" height="5.05" fill="url(#h13)"/>
<rect x="619.84" y="222.25" width="5.94" height="5.05" fill="url(#h11)"/>
<rect x="625.78" y="222.25" width="5.94" height="5.05" fill="url(#h17)"/>
<rect x="631.72" y="222.25" width="5.94" height="5.05" fill="url(#h6)"/>
<rect x="637.66" y="222.25" width="5.94" height="5.05" fill="url(#h18)"/>
<rect x="643.60" y="222.25" width="5.94" height="5.05" fill="url(#h9)"/>
<rect x="649.54" y="222.25" width="5.94" height="5.05" fill="url(#h9)"/>
<rect x="655.48" y="222.25" width="5.94" height="5.05" fill="url(#h10)"/>
<rect x="661.42" y="222.25" width="5.94" height="5.05" fill="url(#h10)"/>
<rect x="667.36" y="222.25" width="5.94" height="5.05" fill="url(#h10)"/>
<rect x="673.30" y="222.25" width="5.94" height="5.05" fill="url(#h19)"/>
<rect x="619.84" y="227.30" width="5.94" height="5.05" fill="url(#h11)"/>
<rect x="625.78" y="227.30" width="5.94" height="5.05" fill="url(#h2)"/>
<rect x="631.72" y="227.30" width="5.94" height="5.05" fill="url(#h6)"/>
<rect x="637.66" y="227.30" width="5.94" height="5.05" fill="url(#h20)"/>
<rect x="643.60" y="227.30" width="5.94" height="5.05" fill="url(#h9)"/>
<rect x="649.54" y="227.30" width="5.94" height="5.05" fill="url(#h9)"/>
<rect x="655.48" y="227.30" width="5.94" height="5.05" fill="url(#h10)"/>
<rect x="661.42" y="227.30" width="5.94" height="5.05" fill="url(#h10)"/>
<rect x="667.36" y="227.30" width="5.94" height="5.05" fill="url(#h10)"/>
<rect x="673.30" y="227.30" width="5.94" height="5.05" fill="url(#h19)"/>
<rect x="619.84" y="232.35" width="5.94" height="5.05" fill="url(#h0)"/>
<rect x="625.78" y="232.35" width="5.94" height="5.05" fill="url(#h11)"/>
<rect x="631.72" y="232.35" width="5.94" height="5.05" fill="url(#h2)"/>
<rect x="637.66" y="232.35" width="5.94" height="5.05" fill="url(#h15)"/>
<rect x="643.60" y="232.35" width="5.94" height="5.05" fill="url(#h19)"/>
<rect x="649.54" y="232.35" width="5.94" height="5.05" fill="url(#h19)"/>
<rect x="655.48" y="232.35" width="5.94" height="5.05" fill="url(#h19)"/>
<rect x="661.42" y="232.35" width="5.94" height="5.05" fill="url(#h16)"/>
<rect x="667.36" y="232.35" width="5.94" height="5.05" fill="url(#h16)"/>
<rect x="673.30" y="232.35" width="5.94" height="5.05" fill="url(#h16)"/>
<rect x="619.84" y="237.40" width="5.94" height="5.05" fill="url(#h1)"/>
<rect x="625.78" y="237.40" width="5.94" height="5.05" fill="url(#h6)"/>
<rect x="631.72" y="237.40" width="5.94" height="5.05" fill="url(#h21)"/>
<rect x="637.66" y="237.40" width="5.94" height="5.05" fill="url(#h20)"/>
<rect x="643.60" y="237.40" width="5.94" height="5.05" fill="url(#h9)"/>
<rect x="649.54" y="237.40" width="5.94" height="5.05" fill="url(#h9)"/>
<rect x="655.48" y="237.40" width="5.94" height="5.05" fill="url(#h9)"/>
<rect x="661.42" y="237.40" width="5.94" height="5.05" fill="url(#h9)"/>
<rect x="667.36" y="237.40" width="5.94" height="5.05" fill="url(#h9)"/>
<rect x="673.30" y="237.40" width="5.94" height="5.05" fill="url(#h10)"/>
<rect x="625.78" y="242.45" width="5.94" height="5.05" fill="url(#h11)"/>
<rect x="631.72" y="242.45" width="5.94" height="5.05" fill="url(#h1)"/>
<rect x="637.66" y="242.45" width="5.94" height="5.05" fill="url(#h22)"/>
<rect x="643.60" y="242.45" width="5.94" height="5.05" fill="url(#h5)"/>
<rect x="649.54" y="242.45" width="5.94" height="5.05" fill="url(#h5)"/>
<rect x="655.48" y="242.45" width="5.94" height="5.05" fill="url(#h5)"/>
<rect x="661.42" y="242.45" width="5.94" height="5.05" fill="url(#h13)"/>
<rect x="667.36" y="242.45" width="5.94" height="5.05" fill="url(#h13)"/>
<rect x="673.30" y="242.45" width="5.94" height="5.05" fill="url(#h13)"/>
<rect x="619.84" y="247.50" width="5.94" height="5.05" fill="url(#h0)"/>
<rect x="625.78" y="247.50" width="5.94" height="5.05" fill="url(#h1)"/>
<rect x="631.72" y="247.50" width="5.94" height="5.05" fill="url(#h2)"/>
<rect x="637.66" y="247.50" width="5.94" height="5.05" fill="url(#h22)"/>
<rect x="643.60" y="247.50" width="5.94" height="5.05" fill="url(#h4)"/>
<rect x="649.54" y="247.50" width="5.94" height="5.05" fill="url(#h4)"/>
<rect x="655.48" y="247.50" width="5.94" height="5.05" fill="url(#h4)"/>
<rect x="661.42" y="247.50" width="5.94" height="5.05" fill="url(#h5)"/>
<rect x="667.36" y="247.50" width="5.94" height="5.05" fill="url(#h5)"/>
<rect x="673.30" y="247.50" width="5.94" height="5.05" fill="url(#h5)"/>
<text x="611.30" y="191.23" font-size="5.0" text-anchor="middle" fill="#111" transform="rotate(-90 611.30 189.43)">1</text>
<text x="611.30" y="196.28" font-size="5.0" text-anchor="middle" fill="#111" transform="rotate(-90 611.30 194.47)">2</text>
<text x="611.30" y="201.33" font-size="5.0" text-anchor="middle" fill="#111" transform="rotate(-90 611.30 199.53)">3</text>
<text x="611.30" y="206.38" font-size="5.0" text-anchor="middle" fill="#111" transform="rotate(-90 611.30 204.58)">4</text>
<text x="611.30" y="211.43" font-size="5.0" text-anchor="middle" fill="#111" transform="rotate(-90 611.30 209.62)">5</text>
<text x="611.30" y="216.48" font-size="5.0" text-anchor="middle" fill="#111" transform="rotate(-90 611.30 214.68)">1</text>
<text x="611.30" y="221.53" font-size="5.0" text-anchor="middle" fill="#111" transform="rotate(-90 611.30 219.72)">2</text>
<text x="611.30" y="226.58" font-size="5.0" text-anchor="middle" fill="#111" transform="rotate(-90 611.30 224.78)">3</text>
<text x="611.30" y="231.62" font-size="5.0" text-anchor="middle" fill="#111" transform="rotate(-90 611.30 229.82)">4</text>
<text x="611.30" y="236.68" font-size="5.0" text-anchor="middle" fill="#111" transform="rotate(-90 611.30 234.88)">5</text>
<line x1="608.00" y1="187.20" x2="608.00" y2="211.20" stroke="#999" stroke-width="1.0"/>
<line x1="608.00" y1="212.60" x2="608.00" y2="236.40" stroke="#999" stroke-width="1.0"/>
<text x="603.80" y="200.42" font-size="5.3" text-anchor="middle" fill="#111" transform="rotate(-90 603.80 198.52)">Batch1</text>
<text x="603.80" y="225.67" font-size="5.3" text-anchor="middle" fill="#111" transform="rotate(-90 603.80 223.76)">Batch2</text>
<line x1="601.00" y1="188.20" x2="601.00" y2="236.40" stroke="#999" stroke-width="1.0"/>
<text x="597.80" y="214.06" font-size="5.3" text-anchor="middle" fill="#111" transform="rotate(-90 597.80 212.15)">hESC</text>
<text x="612.20" y="241.69" font-size="4.9" text-anchor="end" fill="#111" textLength="23" lengthAdjust="spacingAndGlyphs">hiPSC #1</text>
<text x="612.20" y="246.74" font-size="4.9" text-anchor="end" fill="#111" textLength="23" lengthAdjust="spacingAndGlyphs">hiPSC #2</text>
<text x="612.20" y="251.79" font-size="4.9" text-anchor="end" fill="#111" textLength="23" lengthAdjust="spacingAndGlyphs">hiPSC #3</text>
<text x="644.50" y="262.30" font-size="6.7" text-anchor="middle" fill="#000">BrainSpan stages</text>
<line x1="604.50" y1="263.60" x2="682.20" y2="263.60" stroke="#555" stroke-width="1.1"/>
<text x="612.80" y="269.72" font-size="5.6" text-anchor="middle" fill="#222">Stage</text>
<text x="652.80" y="269.72" font-size="5.6" text-anchor="middle" fill="#222">Age</text>
<line x1="604.50" y1="271.30" x2="682.20" y2="271.30" stroke="#555" stroke-width="1.0"/>
<text x="612.50" y="277.68" font-size="5.5" text-anchor="middle" fill="#222">2</text>
<text x="653.00" y="277.68" font-size="5.5" text-anchor="middle" fill="#222">8PCW ≤ Age &lt; 10PCW</text>
<text x="612.50" y="283.68" font-size="5.5" text-anchor="middle" fill="#222">3</text>
<text x="653.00" y="283.68" font-size="5.5" text-anchor="middle" fill="#222">10PCW ≤ Age &lt; 13PCW</text>
<text x="612.50" y="289.68" font-size="5.5" text-anchor="middle" fill="#222">4</text>
<text x="653.00" y="289.68" font-size="5.5" text-anchor="middle" fill="#222">13PCW ≤ Age &lt; 16PCW</text>
<text x="612.50" y="295.68" font-size="5.5" text-anchor="middle" fill="#222">5</text>
<text x="653.00" y="295.68" font-size="5.5" text-anchor="middle" fill="#222">16PCW ≤ Age &lt; 19PCW</text>
<text x="612.50" y="301.68" font-size="5.5" text-anchor="middle" fill="#222">6</text>
<text x="653.00" y="301.68" font-size="5.5" text-anchor="middle" fill="#222">19PCW ≤ Age &lt; 24PCW</text>
<text x="612.50" y="307.68" font-size="5.5" text-anchor="middle" fill="#222">7</text>
<text x="653.00" y="307.68" font-size="5.5" text-anchor="middle" fill="#222">24PCW ≤ Age &lt; 38PCW</text>
<text x="612.50" y="313.68" font-size="5.5" text-anchor="middle" fill="#222">8</text>
<text x="653.00" y="313.68" font-size="5.5" text-anchor="middle" fill="#222">Birth ≤ Age &lt; 6M</text>
<text x="612.50" y="319.68" font-size="5.5" text-anchor="middle" fill="#222">9</text>
<text x="653.00" y="319.68" font-size="5.5" text-anchor="middle" fill="#222">6M ≤ Age &lt; 19M</text>
<text x="612.50" y="325.68" font-size="5.5" text-anchor="middle" fill="#222">10</text>
<text x="653.00" y="325.68" font-size="5.5" text-anchor="middle" fill="#222">19M ≤ Age &lt; 5Y</text>
<text x="612.50" y="331.68" font-size="5.5" text-anchor="middle" fill="#222">11</text>
<text x="653.00" y="331.68" font-size="5.5" text-anchor="middle" fill="#222">6Y ≤ Age &lt; 11Y</text>
<text x="612.50" y="337.68" font-size="5.5" text-anchor="middle" fill="#222">12</text>
<text x="653.00" y="337.68" font-size="5.5" text-anchor="middle" fill="#222">12Y ≤ Age &lt; 19Y</text>
<text x="612.50" y="343.68" font-size="5.5" text-anchor="middle" fill="#222">13</text>
<text x="653.00" y="343.68" font-size="5.5" text-anchor="middle" fill="#222">21Y ≤ Age &lt; 40Y</text>
<line x1="604.50" y1="345.60" x2="682.20" y2="345.60" stroke="#555" stroke-width="1.2"/>
<defs><linearGradient id="jt" x1="0" y1="1" x2="0" y2="0"><stop offset="0.000" stop-color="#00007f"/><stop offset="0.125" stop-color="#0000ff"/><stop offset="0.250" stop-color="#007fff"/><stop offset="0.375" stop-color="#00ffff"/><stop offset="0.500" stop-color="#7fff7f"/><stop offset="0.625" stop-color="#ffff00"/><stop offset="0.750" stop-color="#ff7f00"/><stop offset="0.875" stop-color="#ff0000"/><stop offset="1.000" stop-color="#7f0000"/></linearGradient></defs>
<rect x="601.00" y="280.00" width="3.40" height="57.30" fill="url(#jt)"/>
<text x="599.90" y="282.01" font-size="5.3" text-anchor="end" fill="#111">346</text>
<line x1="600.00" y1="280.10" x2="601.00" y2="280.10" stroke="#333" stroke-width="0.5"/>
<text x="599.90" y="292.11" font-size="5.3" text-anchor="end" fill="#111">277</text>
<line x1="600.00" y1="290.20" x2="601.00" y2="290.20" stroke="#333" stroke-width="0.5"/>
<text x="599.90" y="304.41" font-size="5.3" text-anchor="end" fill="#111">208</text>
<line x1="600.00" y1="302.50" x2="601.00" y2="302.50" stroke="#333" stroke-width="0.5"/>
<text x="599.90" y="316.11" font-size="5.3" text-anchor="end" fill="#111">138</text>
<line x1="600.00" y1="314.20" x2="601.00" y2="314.20" stroke="#333" stroke-width="0.5"/>
<text x="599.90" y="326.91" font-size="5.3" text-anchor="end" fill="#111">69</text>
<line x1="600.00" y1="325.00" x2="601.00" y2="325.00" stroke="#333" stroke-width="0.5"/>
<text x="599.90" y="338.71" font-size="5.3" text-anchor="end" fill="#111">0</text>
<line x1="600.00" y1="336.80" x2="601.00" y2="336.80" stroke="#333" stroke-width="0.5"/>
<text x="586.90" y="310.68" font-size="5.5" text-anchor="middle" fill="#111" transform="rotate(-90 586.90 308.70)">-log10(Nominal P-value)</text>
</svg></body></html>
